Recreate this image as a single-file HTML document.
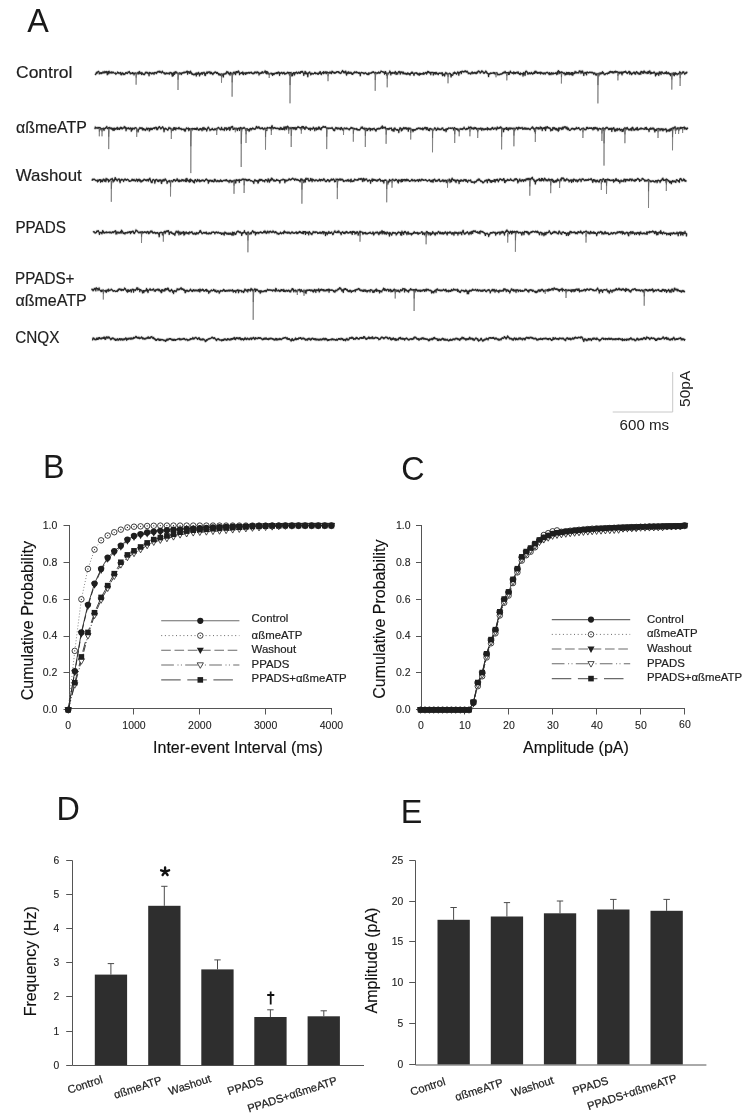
<!DOCTYPE html>
<html><head><meta charset="utf-8"><style>
html,body{margin:0;padding:0;background:#fff;width:750px;height:1116px;overflow:hidden}
svg{display:block;will-change:transform}
text{font-family:"Liberation Sans",sans-serif;fill:#1c1c1c}
.let{font-size:32.3px;fill:#1a1a1a}
.tl{font-size:17px;fill:#1e1e1e;stroke:#1e1e1e;stroke-width:0.2px}
.sb{font-size:14px;fill:#222}
.tk{font-size:10.5px;fill:#222;stroke:#222;stroke-width:0.1px}
.tk2{font-size:10.3px;fill:#222;stroke:#222;stroke-width:0.12px}
.ax{font-size:16px;fill:#111;stroke:#111;stroke-width:0.15px}
.lg{font-size:11.4px;fill:#222;stroke:#222;stroke-width:0.2px}
.bl{font-size:11.2px;fill:#222;stroke:#222;stroke-width:0.22px}
</style></head><body>
<svg width="750" height="1116" viewBox="0 0 750 1116">
<rect width="750" height="1116" fill="#fff"/>
<text x="27.2" y="31.8" class="let">A</text>
<text x="43.0" y="478.0" class="let">B</text>
<text x="401.2" y="479.6" class="let">C</text>
<text x="56.4" y="819.9" class="let">D</text>
<text x="400.8" y="822.5" class="let">E</text>
<text x="16.0" y="78.4" class="tl" textLength="56.4" lengthAdjust="spacingAndGlyphs">Control</text>
<text x="16.0" y="132.6" class="tl" textLength="70.8" lengthAdjust="spacingAndGlyphs">αßmeATP</text>
<text x="15.8" y="181.4" class="tl" textLength="65.9" lengthAdjust="spacingAndGlyphs">Washout</text>
<text x="15.4" y="233.4" class="tl" textLength="50.6" lengthAdjust="spacingAndGlyphs">PPADS</text>
<text x="15.0" y="283.6" class="tl" textLength="59.5" lengthAdjust="spacingAndGlyphs">PPADS+</text>
<text x="15.4" y="306.0" class="tl" textLength="71.4" lengthAdjust="spacingAndGlyphs">αßmeATP</text>
<text x="15.2" y="342.6" class="tl" textLength="44.2" lengthAdjust="spacingAndGlyphs">CNQX</text>
<path transform="translate(95.3,72.9) scale(0.25,0.1)" d="M0 22l1-10 1 2 1-8 1-8 1 3 1-8 1 11 1-9 1-1 1-5 1-1 1-3 1-1 1 3 1 6 1 16 1-8 1 0 1 5 1 1 1-8 1-1 1 0 1 6 1 2 1-8 1 5 1-1 1-2 1-1 1-11 1 12 1-5 1 4 1 0 1-4 1 4 1-14 1 11 1-6 1 7 1-7 1-1 1 1 1-4 1 13 1-10 1 29 1-18 1-5 1-8 1 16 1-8 1 14 1-26 1 8 1 3 1 3 1 2 1-4 1 5 1-4 1-6 1 9 1-8 1 11 1-9 1 8 1-5 1-1 1-2 1-1 1 8 1 0 1 2 1 0 1-1 1 0 1 3 1-5 1 6 1 9 1-5 1-2 1 1 1-2 1-4 1-3 1-8 1 2 1 7 1 1 1-3 1 0 1 10 1-5 1-2 1-1 1 0 1-2 1-2 1 20 1-8 1 11 1-13 1 4 1-11 1 8 1-7 1 2 1 0 1 15 1-10 1-1 1 4 1 0 1 5 1 1 1-9 1 0 1-9 1 1 1 2 1-5 1 6 1 2 1 1 1 2 1-2 1-4 1-10 1 5 1-3 1-1 1-3 1-3 1 12 1-2 1 7 1 7 1-1 1-8 1 5 1-2 1 1 1 2 1-7 1-3 1 11 1-11 1 5 1 0 1 3 1 2 1 13 1-17 1 2 1 0 1-1 1-4 1 7 1-3 1 0 1 5 1-5 1 7 1-5 1-7 1 8 1-5 1 3 1-13 1 17 1-12 1 13 1-17 1-7 1 8 1 3 1 7 1-3 1-1 1 3 1 7 1 6 1-20 1 11 1 0 1-4 1 8 1-4 1 9 1 0 1-1 1 1 1-4 1 5 1-10 1-4 1-5 1-5 1 5 1 3 1-5 1 1 1-5 1 5 1-2 1 8 1 0 1 4 1-1 1-4 1 5 1 20 1-33 1 5 1 0 1 4 1-2 1-3 1 5 1 2 1 4 1-6 1 6 1-4 1 2 1-8 1 5 1-3 1 1 1 3 1-5 1 15 1-17 1-1 1-2 1 4 1-3 1 2 1 1 1 4 1-6 1 10 1-14 1 0 1 1 1-2 1-6 1 6 1 0 1-8 1 4 1-2 1 2 1 6 1-11 1 10 1-6 1 3 1 4 1 4 1-1 1 4 1-9 1-2 1-8 1 10 1 2 1-1 1 7 1-1 1 0 1 5 1 5 1 0 1-11 1 9 1 5 1-6 1 1 1 2 1-5 1-4 1 5 1-2 1 4 1 0 1-4 1-1 1 3 1 3 1-6 1 8 1 3 1-7 1-6 1-5 1 2 1 0 1-1 1 4 1 9 1-2 1-8 1 13 1 20 1-23 1-1 1-5 1 24 1-27 1 6 1-12 1 1 1 19 1-17 1-1 1-8 1 6 1 7 1-7 1 1 1-4 1 11 1-2 1 1 1 2 1 3 1 0 1 3 1 3 1-6 1-6 1 3 1-2 1 11 1-10 1 0 1 0 1 4 1-4 1 14 1-4 1-8 1-5 1 2 1 1 1-5 1 4 1 0 1-1 1-2 1-8 1 10 1-1 1-1 1-3 1 1 1-3 1 1 1 1 1-3 1-8 1 0 1-2 1 0 1 30 1-23 1 3 1-5 1 5 1 0 1 0 1 12 1-14 1 4 1-5 1 13 1-20 1 13 1 1 1-1 1 12 1-5 1 13 1-4 1 4 1-5 1 2 1 6 1-4 1 6 1-6 1 3 1-6 1-1 1 7 1-6 1 2 1-10 1 1 1 27 1-30 1 4 1-1 1 5 1-6 1 12 1-15 1-1 1-5 1 6 1 10 1-3 1 23 1-11 1-5 1-6 1 5 1-7 1-6 1 0 1 8 1-8 1-4 1 18 1-10 1-1 1-2 1 1 1 1 1-6 1-4 1 10 1 0 1 20 1-18 1 21 1-4 1-15 1 0 1-6 1-4 1 0 1-8 1 17 1-11 1 6 1-6 1-3 1 2 1-4 1-3 1 3 1 4 1 2 1 10 1-4 1 5 1-16 1 7 1-2 1-1 1 13 1-6 1 6 1 3 1 6 1-9 1 1 1-4 1-7 1 1 1 2 1-3 1-6 1-1 1-2 1 6 1-3 1 0 1 10 1 3 1-2 1-3 1-4 1 5 1 6 1-4 1 6 1 8 1 3 1-12 1 3 1 5 1 4 1 2 1-6 1 5 1-8 1-1 1 4 1 16 1-14 1-5 1 1 1 8 1-1 1-6 1 25 1-20 1-10 1-4 1 6 1 0 1 1 1-2 1-3 1-2 1-6 1 10 1-13 1 3 1-14 1 2 1 2 1 6 1-1 1-4 1 15 1-6 1 1 1 11 1-4 1 0 1 2 1 12 1-27 1 10 1 0 1-5 1 0 1 6 1 2 1 8 1-11 1 16 1-14 1-8 1 11 1-16 1 1 1-4 1 4 1 9 1 2 1-2 1 10 1 2 1-25 1-3 1 5 1-5 1-1 1 12 1-10 1 3 1 2 1-11 1 6 1-8 1 7 1 4 1 9 1 16 1-7 1-5 1 2 1-1 1-6 1 1 1 0 1-4 1 3 1 4 1-8 1 15 1-20 1 5 1 3 1 18 1-12 1 3 1-5 1-2 1-1 1 1 1 1 1 12 1-14 1-4 1 1 1 7 1 5 1-9 1 2 1-4 1 4 1-4 1 1 1-4 1 6 1-5 1 0 1 8 1-9 1-1 1 2 1 0 1 4 1-4 1-3 1 1 1 10 1 0 1 1 1-2 1 6 1 1 1-4 1-5 1 5 1-7 1 7 1-13 1 4 1-3 1-3 1 5 1 2 1-1 1 6 1-9 1 2 1-9 1 6 1-1 1 8 1-4 1 2 1-4 1 6 1 21 1-18 1 1 1 4 1-5 1 5 1-9 1 5 1-2 1 2 1-11 1 0 1 5 1-11 1 13 1-1 1 3 1-3 1 1 1-4 1-5 1 1 1 1 1 0 1-14 1 4 1 17 1-16 1 0 1 22 1-18 1 0 1 22 1-21 1 2 1 2 1 7 1 3 1-1 1 9 1-2 1 3 1-5 1 2 1-1 1-2 1 0 1 2 1-7 1 1 1 11 1-5 1 0 1 1 1 16 1-21 1 10 1-3 1-5 1 11 1-3 1 0 1-6 1-4 1-2 1 0 1 4 1-4 1 3 1-7 1 10 1-5 1-6 1 6 1-6 1 10 1-14 1 5 1-6 1 1 1 3 1 0 1 28 1-25 1 6 1 1 1-2 1-1 1-4 1-3 1 3 1-4 1 10 1-3 1 7 1-4 1-4 1 3 1-7 1-2 1-1 1 6 1 8 1 7 1-2 1-5 1-2 1-2 1 1 1-1 1 4 1-9 1 4 1 0 1-10 1 6 1-2 1 1 1-2 1 12 1 0 1-7 1 21 1-26 1 1 1 13 1-11 1 5 1-9 1 16 1-1 1 20 1-21 1-4 1 23 1-14 1-4 1-5 1-8 1-1 1 0 1 1 1 24 1-16 1 2 1-6 1-5 1 1 1-3 1 3 1-6 1 6 1 8 1-4 1 6 1-1 1-3 1-7 1-4 1 3 1 0 1 0 1 10 1-11 1 1 1 9 1-16 1 6 1 1 1-5 1-4 1 7 1-8 1-1 1 6 1-1 1 9 1 2 1 8 1 17 1-20 1-4 1 0 1-5 1-11 1 24 1-17 1-1 1 7 1 1 1 6 1 5 1-7 1 13 1-2 1 23 1-24 1-12 1 1 1-3 1-3 1-2 1-3 1 1 1 12 1 1 1 2 1 12 1-13 1 6 1-5 1-5 1 2 1 5 1 0 1-2 1 4 1 0 1-3 1-3 1 0 1-2 1-4 1-4 1 8 1 2 1-5 1 9 1-5 1 2 1 0 1-2 1-2 1 3 1 3 1 6 1 1 1-13 1 10 1-6 1-1 1-7 1-6 1 12 1-15 1-1 1 9 1 3 1 14 1 2 1-7 1-3 1-3 1-5 1-1 1 1 1-4 1-4 1 18 1-20 1 4 1 2 1 6 1 1 1-2 1-1 1 2 1-12 1 3 1 16 1-11 1-3 1 2 1 5 1-8 1 9 1-4 1 6 1-2 1 0 1 0 1-7 1 7 1 0 1-12 1 5 1 8 1 1 1-3 1-5 1 12 1-12 1-12 1 5 1 5 1-4 1 4 1 2 1-1 1 7 1-7 1 1 1 9 1-2 1 0 1-5 1 5 1-2 1-4 1-7 1 5 1 0 1-7 1 1 1-1 1 2 1 1 1 3 1 5 1-10 1 5 1 4 1 4 1 0 1-3 1 8 1-4 1 0 1-1 1 0 1-6 1-11 1 5 1-7 1-6 1 7 1 5 1-4 1 7 1 9 1 0 1-7 1-1 1 7 1-15 1 10 1 2 1-13 1 17 1 11 1 11 1-21 1 4 1-5 1 1 1-8 1 14 1-16 1-2 1 12 1-8 1 4 1 8 1-2 1 1 1-2 1-2 1-7 1 5 1 10 1-9 1 13 1-5 1 8 1-4 1 3 1-11 1-1 1 0 1-7 1 7 1-7 1-2 1-5 1 10 1 0 1 0 1-3 1-2 1-5 1 8 1 3 1-4 1 3 1-3 1 1 1 4 1 1 1 3 1-2 1-7 1 11 1-6 1 1 1 3 1 23 1-22 1-2 1-5 1-3 1 0 1 1 1 2 1 2 1 1 1-4 1 0 1 4 1 5 1-1 1 5 1-5 1-1 1-1 1-4 1-2 1 3 1-1 1 6 1 0 1 5 1-1 1 5 1 1 1-5 1 1 1 7 1-16 1 3 1-5 1 16 1-13 1 0 1-2 1 0 1 0 1 1 1 2 1-6 1 5 1-4 1-2 1-5 1 3 1 2 1-1 1-8 1 5 1 1 1-3 1 7 1 1 1 0 1 9 1-5 1-3 1-6 1 5 1-1 1 8 1-1 1-3 1 4 1-2 1-7 1 5 1-6 1 7 1-12 1 8 1 0 1-2 1-2 1 9 1-6 1 0 1-8 1-2 1-7 1 3 1 1 1 1 1 0 1 6 1-2 1-3 1 0 1 4 1 4 1 3 1 0 1-2 1 16 1-23 1 5 1-6 1-1 1 18 1-8 1 6 1 3 1 17 1-10 1-7 1-1 1-2 1 4 1 3 1-9 1 0 1-2 1-5 1 2 1-15 1 10 1-1 1 2 1 27 1-18 1 0 1-3 1 7 1 2 1-2 1-8 1-3 1 2 1 2 1 5 1-1 1 2 1 2 1-11 1 1 1-5 1-5 1 12 1 2 1 14 1-18 1 8 1 4 1 5 1-9 1-1 1 7 1-14 1-2 1-6 1 3 1-6 1 9 1 4 1-7 1 6 1 16 1-18 1-5 1-2 1 9 1 1 1-2 1 4 1-3 1 4 1-10 1 18 1-16 1 1 1 4 1 9 1-3 1 4 1 2 1-2 1 2 1-8 1 9 1-1 1 2 1-5 1-3 1 12 1-6 1-10 1 3 1-2 1 5 1 1 1 6 1 1 1-2 1-3 1-2 1 15 1-12 1-7 1 3 1-2 1 0 1-11 1 5 1 7 1-13 1 3 1 2 1 7 1 3 1 3 1 10 1 4 1-19 1-2 1 3 1-4 1-2 1 2 1-2 1-2 1 6 1 0 1-5 1 11 1 2 1-1 1-7 1 14 1 1 1-4 1-6 1 0 1 0 1 13 1-19 1 3 1 6 1 3 1-2 1-7 1 5 1 0 1-1 1-2 1-1 1 3 1-2 1 7 1-17 1 2 1 7 1 6 1-7 1 0 1-2 1-6 1 0 1-3 1 7 1 2 1-4 1 12 1-16 1 8 1-7 1-8 1-5 1 10 1-3 1-4 1 3 1 3 1 8 1-2 1-5 1 8 1-4 1-2 1 21 1-20 1-2 1 0 1 1 1 0 1-1 1 0 1 2 1-2 1 26 1-19 1 11 1-16 1 0 1 3 1-3 1 4 1 11 1-10 1-7 1 1 1 14 1-14 1 8 1-1 1 2 1 6 1 1 1 1 1 5 1-12 1-3 1 1 1-2 1-2 1 4 1-2 1 1 1 0 1 4 1-3 1-4 1 2 1 5 1 6 1-15 1 30 1-15 1-1 1 0 1 3 1 7 1-7 1-3 1 19 1-8 1-11 1-10 1 1 1-9 1 3 1 8 1-2 1 7 1 1 1 6 1-12 1 10 1 1 1-5 1 5 1-9 1 0 1 1 1-5 1 0 1 6 1 0 1-1 1 12 1 20 1-20 1-2 1 0 1 8 1-2 1-1 1 0 1-10 1-12 1 2 1 5 1-10 1-3 1-3 1 13 1-5 1 2 1-3 1 4 1 2 1 4 1 5 1-6 1-6 1-1 1-7 1-5 1 4 1 1 1 7 1 21 1-25 1 5 1-1 1-6 1-1 1-6 1 3 1 2 1-3 1 17 1-16 1-6 1-1 1-2 1 3 1 3 1 2 1 0 1-4 1 6 1-3 1-3 1-4 1 3 1 3 1-8 1 8 1-7 1 9 1 3 1-2 1-1 1-8 1 4 1 4 1 4 1 1 1 12 1-5 1 4 1-4 1-1 1 0 1 1 1 6 1 2 1 2 1-9 1 7 1-11 1 0 1-4 1-4 1 4 1-2 1 14 1 0 1-6 1 0 1-3 1 5 1-2 1-6 1-1 1 9 1-7 1 3 1 9 1-6 1 5 1-4 1-10 1-1 1 9 1-9 1 1 1-10 1 1 1 3 1-7 1 6 1 2 1-1 1 3 1 12 1 0 1-3 1-5 1-2 1 1 1-12 1 3 1-5 1 9 1-2 1 0 1 3 1 10 1 2 1-1 1 5 1-3 1-4 1 2 1-3 1-9 1-3 1-4 1 8 1 3 1-3 1 11 1 4 1-4 1 6 1-2 1 5 1-1 1 28 1-26 1 1 1 2 1-1 1-7 1-1 1-1 1 3 1-5 1 5 1-1 1-1 1 0 1-4 1 2 1 0 1 0 1-3 1 3 1-6 1 6 1 4 1-9 1 2 1 1 1-1 1 16 1-9 1 2 1-5 1-1 1-2 1-3 1 5 1 7 1-1 1 12 1-9 1 4 1 1 1 1 1 2 1-2 1-1 1-4 1 4 1-6 1 0 1 3 1-1 1-3 1 4 1-4 1-3 1-2 1 2 1-8 1 8 1-9 1-1 1-3 1 2 1-1 1 6 1-4 1-11 1 14 1-7 1 4 1 5 1-1 1-2 1-1 1 2 1-1 1 4 1 4 1-7 1-4 1 20 1-12 1-1 1 12 1-13 1-7 1-5 1-7 1 14 1 0 1-3 1 6 1-2 1 3 1 1 1 3 1 0 1-5 1-2 1 1 1-7 1 20 1-17 1 5 1-4 1 2 1 10 1-10 1 9 1-9 1 4 1-1 1-6 1 4 1-3 1-3 1 2 1 11 1-8 1-6 1 9 1 7 1 2 1 2 1 4 1-10 1 7 1 5 1-18 1 6 1-1 1 3 1 1 1 2 1-3 1 1 1-2 1 1 1 24 1-30 1 13 1-18 1 5 1-2 1 9 1-1 1 17 1-19 1-19 1 3 1-8 1 0 1 7 1-2 1 9 1-1 1 5 1 12 1-9 1 9 1-7 1-2 1 5 1-10 1 9 1-6 1 6 1 4 1-7 1 4 1-2 1-1 1-10 1 4 1 5 1 2 1 8 1-3 1-1 1 0 1-8 1-6 1 3 1 1 1 6 1-21 1 5 1 5 1-4 1-8 1 18 1-10 1 6 1-4 1 2 1 11 1-1 1-1 1-7 1 7 1-1 1-2 1-5 1 8 1-3 1 1 1-7 1-1 1 18 1-12 1-4 1 0 1 8 1-7 1 1 1 5 1 3 1 2 1 0 1 5 1-7 1-5 1 1 1 5 1 0 1-6 1 7 1 6 1-9 1-3 1 0 1-4 1-2 1 1 1-2 1 4 1-4 1 7 1 0 1 2 1 1 1 8 1 0 1 6 1-20 1 12 1 3 1-2 1-6 1 0 1 13 1-18 1-2 1 2 1 1 1 3 1 5 1 4 1-5 1-8 1 9 1-3 1 2 1-3 1 0 1-1 1 1 1 0 1-6 1 4 1-4 1 11 1-9 1 16 1-15 1-2 1-12 1 4 1 17 1-32 1 0 1 8 1 5 1-2 1 7 1 11 1-4 1-9 1 1 1 0 1 5 1-10 1 0 1 2 1 6 1 0 1-2 1-1 1 7 1-2 1 9 1-4 1 0 1-1 1-4 1 9 1 13 1-10 1-5 1 8 1-7 1 9 1-22 1 17 1-8 1-6 1 16 1-7 1-8 1 4 1 11 1-17 1 8 1-7 1 3 1 17 1-6 1-10 1 0 1 12 1-1 1-8 1-6 1 21 1-20 1-2 1 2 1 24 1-20 1-3 1 10 1-3 1 1 1-9 1 0 1 5 1-19 1 12 1-3 1 5 1-5 1 2 1-4 1 11 1-7 1 0 1 1 1 1 1 1 1 1 1 2 1-2 1-16 1-3 1 5 1 0 1-6 1 8 1 3 1 2 1 13 1-16 1-5 1-3 1 4 1 10 1-15 1 7 1 13 1 6 1-4 1 22 1-22 1 1 1-2 1-1 1-7 1 4 1 2 1 8 1-12 1 0 1 23 1-27 1 1 1-2 1 3 1 1 1 3 1 1 1 0 1 2 1-2 1-7 1 0 1 3 1-3 1 0 1 5 1-3 1 3 1-1 1-2 1 6 1-7 1 4 1 1 1 1 1 5 1-2 1 2 1 10 1-16 1 6 1 2 1 2 1-6 1 7 1 3 1 9 1-8 1 7 1-2 1 4 1-16 1 1 1 1 1-1 1 1 1-2 1 17 1 6 1-24 1-2 1 1 1 7 1-5 1-7 1 6 1 7 1-2 1-8 1 0 1-4 1-5 1 13 1-19 1 15 1-5 1 0 1 2 1 5 1 8 1 5 1-4 1 3 1 1 1-4 1-4 1-3 1 0 1-1 1-1 1 2 1-1 1 7 1-8 1-2 1-3 1 1 1 5 1-5 1 2 1-12 1 1 1 8 1-9 1-6 1 9 1 0 1 0 1-6 1 0 1 10 1-4 1 4 1-10 1 4 1 10 1-8 1 4 1-1 1 3 1-11 1-1 1 3 1-3 1-4 1 2 1 11 1-12 1 7 1 1 1-3 1 0 1 3 1 1 1-5 1 6 1 10 1-5 1 5 1 5 1-16 1 7 1 1 1-1 1-7 1 3 1 3 1 0 1 7 1-15 1 6 1 22 1-26 1 7 1-5 1 7 1-10 1-2 1 0 1 4 1-6 1 4 1-4 1 6 1-7 1-4 1 2 1 6 1 3 1 7 1 0 1 2 1 3 1-9 1 5 1-3 1-7 1 3 1-9 1-2 1 6 1-4 1 26 1-15 1-5 1 12 1-3 1 0 1 4 1 12 1-1 1-13 1 0 1 3 1-4 1-3 1 0 1-2 1-3 1-3 1 14 1-9 1 13 1-6 1-2 1 12 1-7 1-12 1-4 1-3 1 6 1-3 1 7 1 2 1 9 1-7 1 2 1-3 1 6 1 9 1-7 1 5 1-3 1-8 1-8 1 1 1 17 1-26 1 9 1-7 1-2 1 5 1 3 1 8 1-6 1-7 1 16 1-12 1 0 1-12 1 1 1 6 1 5 1 10 1-10 1-1 1 5 1 1 1 0 1 1 1-3 1 11 1-18 1 8 1 0 1-8 1 15 1-19 1 8 1 1 1 1 1-8 1-8 1 12 1 18 1-13 1-1 1 4 1 8 1-13 1 10 1-1 1-2 1-1 1-2 1 3 1 2 1-3 1-5 1-6 1 8 1 2 1-2 1 9 1 5 1 19 1-16 1-7 1-2 1 12 1-9 1-8 1 12 1-2 1-4 1-1 1 5 1-6 1 20 1-27 1-7 1 8 1-6 1 14 1-3 1 1 1-12 1 23 1-23 1 2 1-4 1 0 1 4 1 7 1-2 1 5 1-1 1 0 1 1 1 5 1-5 1-3 1-2 1-3 1 7 1 2 1-7 1-1 1-10 1 11 1 11 1-6 1 0 1-1 1 5 1-12 1 1 1 8 1-5 1 11 1 2 1 1 1-8 1 11 1-3 1 14 1-15 1-4 1 5 1 1 1-10 1 14 1-11 1 4 1-8 1 6 1 10 1-19 1 2 1 3 1 22 1-20 1-7 1 0 1 15 1-15 1 0 1 6 1 1 1 1 1 1 1 11 1-6 1-3 1-1 1 0 1 1 1-7 1 3 1 1 1 2 1-14 1-9 1 12 1 5 1-6 1 11 1 2 1-4 1-2 1-4 1 6 1-7 1-8 1-3 1 7 1-6 1-1 1 0 1 14 1 1 1 0 1 11 1-10 1 2 1-2 1-6 1-4 1 1 1 6 1-9 1 7" fill="none" stroke="#888" stroke-width="2.85" stroke-opacity="0.22" stroke-linejoin="round" vector-effect="non-scaling-stroke"/>
<path transform="translate(95.3,72.9) scale(0.25,0.1)" d="M0 22l1-10 1 2 1-8 1-8 1 3 1-8 1 11 1-9 1-1 1-5 1-1 1-3 1-1 1 3 1 6 1 16 1-8 1 0 1 5 1 1 1-8 1-1 1 0 1 6 1 2 1-8 1 5 1-1 1-2 1-1 1-11 1 12 1-5 1 4 1 0 1-4 1 4 1-14 1 11 1-6 1 7 1-7 1-1 1 1 1-4 1 13 1-10 1 29 1-18 1-5 1-8 1 16 1-8 1 14 1-26 1 8 1 3 1 3 1 2 1-4 1 5 1-4 1-6 1 9 1-8 1 11 1-9 1 8 1-5 1-1 1-2 1-1 1 8 1 0 1 2 1 0 1-1 1 0 1 3 1-5 1 6 1 9 1-5 1-2 1 1 1-2 1-4 1-3 1-8 1 2 1 7 1 1 1-3 1 0 1 10 1-5 1-2 1-1 1 0 1-2 1-2 1 20 1-8 1 11 1-13 1 4 1-11 1 8 1-7 1 2 1 0 1 15 1-10 1-1 1 4 1 0 1 5 1 1 1-9 1 0 1-9 1 1 1 2 1-5 1 6 1 2 1 1 1 2 1-2 1-4 1-10 1 5 1-3 1-1 1-3 1-3 1 12 1-2 1 7 1 7 1-1 1-8 1 5 1-2 1 1 1 2 1-7 1-3 1 11 1-11 1 5 1 0 1 3 1 2 1 13 1-17 1 2 1 0 1-1 1-4 1 7 1-3 1 0 1 5 1-5 1 7 1-5 1-7 1 8 1-5 1 3 1-13 1 17 1-12 1 13 1-17 1-7 1 8 1 3 1 7 1-3 1-1 1 3 1 7 1 6 1-20 1 11 1 0 1-4 1 8 1-4 1 9 1 0 1-1 1 1 1-4 1 5 1-10 1-4 1-5 1-5 1 5 1 3 1-5 1 1 1-5 1 5 1-2 1 8 1 0 1 4 1-1 1-4 1 5 1 20 1-33 1 5 1 0 1 4 1-2 1-3 1 5 1 2 1 4 1-6 1 6 1-4 1 2 1-8 1 5 1-3 1 1 1 3 1-5 1 15 1-17 1-1 1-2 1 4 1-3 1 2 1 1 1 4 1-6 1 10 1-14 1 0 1 1 1-2 1-6 1 6 1 0 1-8 1 4 1-2 1 2 1 6 1-11 1 10 1-6 1 3 1 4 1 4 1-1 1 4 1-9 1-2 1-8 1 10 1 2 1-1 1 7 1-1 1 0 1 5 1 5 1 0 1-11 1 9 1 5 1-6 1 1 1 2 1-5 1-4 1 5 1-2 1 4 1 0 1-4 1-1 1 3 1 3 1-6 1 8 1 3 1-7 1-6 1-5 1 2 1 0 1-1 1 4 1 9 1-2 1-8 1 13 1 20 1-23 1-1 1-5 1 24 1-27 1 6 1-12 1 1 1 19 1-17 1-1 1-8 1 6 1 7 1-7 1 1 1-4 1 11 1-2 1 1 1 2 1 3 1 0 1 3 1 3 1-6 1-6 1 3 1-2 1 11 1-10 1 0 1 0 1 4 1-4 1 14 1-4 1-8 1-5 1 2 1 1 1-5 1 4 1 0 1-1 1-2 1-8 1 10 1-1 1-1 1-3 1 1 1-3 1 1 1 1 1-3 1-8 1 0 1-2 1 0 1 30 1-23 1 3 1-5 1 5 1 0 1 0 1 12 1-14 1 4 1-5 1 13 1-20 1 13 1 1 1-1 1 12 1-5 1 13 1-4 1 4 1-5 1 2 1 6 1-4 1 6 1-6 1 3 1-6 1-1 1 7 1-6 1 2 1-10 1 1 1 27 1-30 1 4 1-1 1 5 1-6 1 12 1-15 1-1 1-5 1 6 1 10 1-3 1 23 1-11 1-5 1-6 1 5 1-7 1-6 1 0 1 8 1-8 1-4 1 18 1-10 1-1 1-2 1 1 1 1 1-6 1-4 1 10 1 0 1 20 1-18 1 21 1-4 1-15 1 0 1-6 1-4 1 0 1-8 1 17 1-11 1 6 1-6 1-3 1 2 1-4 1-3 1 3 1 4 1 2 1 10 1-4 1 5 1-16 1 7 1-2 1-1 1 13 1-6 1 6 1 3 1 6 1-9 1 1 1-4 1-7 1 1 1 2 1-3 1-6 1-1 1-2 1 6 1-3 1 0 1 10 1 3 1-2 1-3 1-4 1 5 1 6 1-4 1 6 1 8 1 3 1-12 1 3 1 5 1 4 1 2 1-6 1 5 1-8 1-1 1 4 1 16 1-14 1-5 1 1 1 8 1-1 1-6 1 25 1-20 1-10 1-4 1 6 1 0 1 1 1-2 1-3 1-2 1-6 1 10 1-13 1 3 1-14 1 2 1 2 1 6 1-1 1-4 1 15 1-6 1 1 1 11 1-4 1 0 1 2 1 12 1-27 1 10 1 0 1-5 1 0 1 6 1 2 1 8 1-11 1 16 1-14 1-8 1 11 1-16 1 1 1-4 1 4 1 9 1 2 1-2 1 10 1 2 1-25 1-3 1 5 1-5 1-1 1 12 1-10 1 3 1 2 1-11 1 6 1-8 1 7 1 4 1 9 1 16 1-7 1-5 1 2 1-1 1-6 1 1 1 0 1-4 1 3 1 4 1-8 1 15 1-20 1 5 1 3 1 18 1-12 1 3 1-5 1-2 1-1 1 1 1 1 1 12 1-14 1-4 1 1 1 7 1 5 1-9 1 2 1-4 1 4 1-4 1 1 1-4 1 6 1-5 1 0 1 8 1-9 1-1 1 2 1 0 1 4 1-4 1-3 1 1 1 10 1 0 1 1 1-2 1 6 1 1 1-4 1-5 1 5 1-7 1 7 1-13 1 4 1-3 1-3 1 5 1 2 1-1 1 6 1-9 1 2 1-9 1 6 1-1 1 8 1-4 1 2 1-4 1 6 1 21 1-18 1 1 1 4 1-5 1 5 1-9 1 5 1-2 1 2 1-11 1 0 1 5 1-11 1 13 1-1 1 3 1-3 1 1 1-4 1-5 1 1 1 1 1 0 1-14 1 4 1 17 1-16 1 0 1 22 1-18 1 0 1 22 1-21 1 2 1 2 1 7 1 3 1-1 1 9 1-2 1 3 1-5 1 2 1-1 1-2 1 0 1 2 1-7 1 1 1 11 1-5 1 0 1 1 1 16 1-21 1 10 1-3 1-5 1 11 1-3 1 0 1-6 1-4 1-2 1 0 1 4 1-4 1 3 1-7 1 10 1-5 1-6 1 6 1-6 1 10 1-14 1 5 1-6 1 1 1 3 1 0 1 28 1-25 1 6 1 1 1-2 1-1 1-4 1-3 1 3 1-4 1 10 1-3 1 7 1-4 1-4 1 3 1-7 1-2 1-1 1 6 1 8 1 7 1-2 1-5 1-2 1-2 1 1 1-1 1 4 1-9 1 4 1 0 1-10 1 6 1-2 1 1 1-2 1 12 1 0 1-7 1 21 1-26 1 1 1 13 1-11 1 5 1-9 1 16 1-1 1 20 1-21 1-4 1 23 1-14 1-4 1-5 1-8 1-1 1 0 1 1 1 24 1-16 1 2 1-6 1-5 1 1 1-3 1 3 1-6 1 6 1 8 1-4 1 6 1-1 1-3 1-7 1-4 1 3 1 0 1 0 1 10 1-11 1 1 1 9 1-16 1 6 1 1 1-5 1-4 1 7 1-8 1-1 1 6 1-1 1 9 1 2 1 8 1 17 1-20 1-4 1 0 1-5 1-11 1 24 1-17 1-1 1 7 1 1 1 6 1 5 1-7 1 13 1-2 1 23 1-24 1-12 1 1 1-3 1-3 1-2 1-3 1 1 1 12 1 1 1 2 1 12 1-13 1 6 1-5 1-5 1 2 1 5 1 0 1-2 1 4 1 0 1-3 1-3 1 0 1-2 1-4 1-4 1 8 1 2 1-5 1 9 1-5 1 2 1 0 1-2 1-2 1 3 1 3 1 6 1 1 1-13 1 10 1-6 1-1 1-7 1-6 1 12 1-15 1-1 1 9 1 3 1 14 1 2 1-7 1-3 1-3 1-5 1-1 1 1 1-4 1-4 1 18 1-20 1 4 1 2 1 6 1 1 1-2 1-1 1 2 1-12 1 3 1 16 1-11 1-3 1 2 1 5 1-8 1 9 1-4 1 6 1-2 1 0 1 0 1-7 1 7 1 0 1-12 1 5 1 8 1 1 1-3 1-5 1 12 1-12 1-12 1 5 1 5 1-4 1 4 1 2 1-1 1 7 1-7 1 1 1 9 1-2 1 0 1-5 1 5 1-2 1-4 1-7 1 5 1 0 1-7 1 1 1-1 1 2 1 1 1 3 1 5 1-10 1 5 1 4 1 4 1 0 1-3 1 8 1-4 1 0 1-1 1 0 1-6 1-11 1 5 1-7 1-6 1 7 1 5 1-4 1 7 1 9 1 0 1-7 1-1 1 7 1-15 1 10 1 2 1-13 1 17 1 11 1 11 1-21 1 4 1-5 1 1 1-8 1 14 1-16 1-2 1 12 1-8 1 4 1 8 1-2 1 1 1-2 1-2 1-7 1 5 1 10 1-9 1 13 1-5 1 8 1-4 1 3 1-11 1-1 1 0 1-7 1 7 1-7 1-2 1-5 1 10 1 0 1 0 1-3 1-2 1-5 1 8 1 3 1-4 1 3 1-3 1 1 1 4 1 1 1 3 1-2 1-7 1 11 1-6 1 1 1 3 1 23 1-22 1-2 1-5 1-3 1 0 1 1 1 2 1 2 1 1 1-4 1 0 1 4 1 5 1-1 1 5 1-5 1-1 1-1 1-4 1-2 1 3 1-1 1 6 1 0 1 5 1-1 1 5 1 1 1-5 1 1 1 7 1-16 1 3 1-5 1 16 1-13 1 0 1-2 1 0 1 0 1 1 1 2 1-6 1 5 1-4 1-2 1-5 1 3 1 2 1-1 1-8 1 5 1 1 1-3 1 7 1 1 1 0 1 9 1-5 1-3 1-6 1 5 1-1 1 8 1-1 1-3 1 4 1-2 1-7 1 5 1-6 1 7 1-12 1 8 1 0 1-2 1-2 1 9 1-6 1 0 1-8 1-2 1-7 1 3 1 1 1 1 1 0 1 6 1-2 1-3 1 0 1 4 1 4 1 3 1 0 1-2 1 16 1-23 1 5 1-6 1-1 1 18 1-8 1 6 1 3 1 17 1-10 1-7 1-1 1-2 1 4 1 3 1-9 1 0 1-2 1-5 1 2 1-15 1 10 1-1 1 2 1 27 1-18 1 0 1-3 1 7 1 2 1-2 1-8 1-3 1 2 1 2 1 5 1-1 1 2 1 2 1-11 1 1 1-5 1-5 1 12 1 2 1 14 1-18 1 8 1 4 1 5 1-9 1-1 1 7 1-14 1-2 1-6 1 3 1-6 1 9 1 4 1-7 1 6 1 16 1-18 1-5 1-2 1 9 1 1 1-2 1 4 1-3 1 4 1-10 1 18 1-16 1 1 1 4 1 9 1-3 1 4 1 2 1-2 1 2 1-8 1 9 1-1 1 2 1-5 1-3 1 12 1-6 1-10 1 3 1-2 1 5 1 1 1 6 1 1 1-2 1-3 1-2 1 15 1-12 1-7 1 3 1-2 1 0 1-11 1 5 1 7 1-13 1 3 1 2 1 7 1 3 1 3 1 10 1 4 1-19 1-2 1 3 1-4 1-2 1 2 1-2 1-2 1 6 1 0 1-5 1 11 1 2 1-1 1-7 1 14 1 1 1-4 1-6 1 0 1 0 1 13 1-19 1 3 1 6 1 3 1-2 1-7 1 5 1 0 1-1 1-2 1-1 1 3 1-2 1 7 1-17 1 2 1 7 1 6 1-7 1 0 1-2 1-6 1 0 1-3 1 7 1 2 1-4 1 12 1-16 1 8 1-7 1-8 1-5 1 10 1-3 1-4 1 3 1 3 1 8 1-2 1-5 1 8 1-4 1-2 1 21 1-20 1-2 1 0 1 1 1 0 1-1 1 0 1 2 1-2 1 26 1-19 1 11 1-16 1 0 1 3 1-3 1 4 1 11 1-10 1-7 1 1 1 14 1-14 1 8 1-1 1 2 1 6 1 1 1 1 1 5 1-12 1-3 1 1 1-2 1-2 1 4 1-2 1 1 1 0 1 4 1-3 1-4 1 2 1 5 1 6 1-15 1 30 1-15 1-1 1 0 1 3 1 7 1-7 1-3 1 19 1-8 1-11 1-10 1 1 1-9 1 3 1 8 1-2 1 7 1 1 1 6 1-12 1 10 1 1 1-5 1 5 1-9 1 0 1 1 1-5 1 0 1 6 1 0 1-1 1 12 1 20 1-20 1-2 1 0 1 8 1-2 1-1 1 0 1-10 1-12 1 2 1 5 1-10 1-3 1-3 1 13 1-5 1 2 1-3 1 4 1 2 1 4 1 5 1-6 1-6 1-1 1-7 1-5 1 4 1 1 1 7 1 21 1-25 1 5 1-1 1-6 1-1 1-6 1 3 1 2 1-3 1 17 1-16 1-6 1-1 1-2 1 3 1 3 1 2 1 0 1-4 1 6 1-3 1-3 1-4 1 3 1 3 1-8 1 8 1-7 1 9 1 3 1-2 1-1 1-8 1 4 1 4 1 4 1 1 1 12 1-5 1 4 1-4 1-1 1 0 1 1 1 6 1 2 1 2 1-9 1 7 1-11 1 0 1-4 1-4 1 4 1-2 1 14 1 0 1-6 1 0 1-3 1 5 1-2 1-6 1-1 1 9 1-7 1 3 1 9 1-6 1 5 1-4 1-10 1-1 1 9 1-9 1 1 1-10 1 1 1 3 1-7 1 6 1 2 1-1 1 3 1 12 1 0 1-3 1-5 1-2 1 1 1-12 1 3 1-5 1 9 1-2 1 0 1 3 1 10 1 2 1-1 1 5 1-3 1-4 1 2 1-3 1-9 1-3 1-4 1 8 1 3 1-3 1 11 1 4 1-4 1 6 1-2 1 5 1-1 1 28 1-26 1 1 1 2 1-1 1-7 1-1 1-1 1 3 1-5 1 5 1-1 1-1 1 0 1-4 1 2 1 0 1 0 1-3 1 3 1-6 1 6 1 4 1-9 1 2 1 1 1-1 1 16 1-9 1 2 1-5 1-1 1-2 1-3 1 5 1 7 1-1 1 12 1-9 1 4 1 1 1 1 1 2 1-2 1-1 1-4 1 4 1-6 1 0 1 3 1-1 1-3 1 4 1-4 1-3 1-2 1 2 1-8 1 8 1-9 1-1 1-3 1 2 1-1 1 6 1-4 1-11 1 14 1-7 1 4 1 5 1-1 1-2 1-1 1 2 1-1 1 4 1 4 1-7 1-4 1 20 1-12 1-1 1 12 1-13 1-7 1-5 1-7 1 14 1 0 1-3 1 6 1-2 1 3 1 1 1 3 1 0 1-5 1-2 1 1 1-7 1 20 1-17 1 5 1-4 1 2 1 10 1-10 1 9 1-9 1 4 1-1 1-6 1 4 1-3 1-3 1 2 1 11 1-8 1-6 1 9 1 7 1 2 1 2 1 4 1-10 1 7 1 5 1-18 1 6 1-1 1 3 1 1 1 2 1-3 1 1 1-2 1 1 1 24 1-30 1 13 1-18 1 5 1-2 1 9 1-1 1 17 1-19 1-19 1 3 1-8 1 0 1 7 1-2 1 9 1-1 1 5 1 12 1-9 1 9 1-7 1-2 1 5 1-10 1 9 1-6 1 6 1 4 1-7 1 4 1-2 1-1 1-10 1 4 1 5 1 2 1 8 1-3 1-1 1 0 1-8 1-6 1 3 1 1 1 6 1-21 1 5 1 5 1-4 1-8 1 18 1-10 1 6 1-4 1 2 1 11 1-1 1-1 1-7 1 7 1-1 1-2 1-5 1 8 1-3 1 1 1-7 1-1 1 18 1-12 1-4 1 0 1 8 1-7 1 1 1 5 1 3 1 2 1 0 1 5 1-7 1-5 1 1 1 5 1 0 1-6 1 7 1 6 1-9 1-3 1 0 1-4 1-2 1 1 1-2 1 4 1-4 1 7 1 0 1 2 1 1 1 8 1 0 1 6 1-20 1 12 1 3 1-2 1-6 1 0 1 13 1-18 1-2 1 2 1 1 1 3 1 5 1 4 1-5 1-8 1 9 1-3 1 2 1-3 1 0 1-1 1 1 1 0 1-6 1 4 1-4 1 11 1-9 1 16 1-15 1-2 1-12 1 4 1 17 1-32 1 0 1 8 1 5 1-2 1 7 1 11 1-4 1-9 1 1 1 0 1 5 1-10 1 0 1 2 1 6 1 0 1-2 1-1 1 7 1-2 1 9 1-4 1 0 1-1 1-4 1 9 1 13 1-10 1-5 1 8 1-7 1 9 1-22 1 17 1-8 1-6 1 16 1-7 1-8 1 4 1 11 1-17 1 8 1-7 1 3 1 17 1-6 1-10 1 0 1 12 1-1 1-8 1-6 1 21 1-20 1-2 1 2 1 24 1-20 1-3 1 10 1-3 1 1 1-9 1 0 1 5 1-19 1 12 1-3 1 5 1-5 1 2 1-4 1 11 1-7 1 0 1 1 1 1 1 1 1 1 1 2 1-2 1-16 1-3 1 5 1 0 1-6 1 8 1 3 1 2 1 13 1-16 1-5 1-3 1 4 1 10 1-15 1 7 1 13 1 6 1-4 1 22 1-22 1 1 1-2 1-1 1-7 1 4 1 2 1 8 1-12 1 0 1 23 1-27 1 1 1-2 1 3 1 1 1 3 1 1 1 0 1 2 1-2 1-7 1 0 1 3 1-3 1 0 1 5 1-3 1 3 1-1 1-2 1 6 1-7 1 4 1 1 1 1 1 5 1-2 1 2 1 10 1-16 1 6 1 2 1 2 1-6 1 7 1 3 1 9 1-8 1 7 1-2 1 4 1-16 1 1 1 1 1-1 1 1 1-2 1 17 1 6 1-24 1-2 1 1 1 7 1-5 1-7 1 6 1 7 1-2 1-8 1 0 1-4 1-5 1 13 1-19 1 15 1-5 1 0 1 2 1 5 1 8 1 5 1-4 1 3 1 1 1-4 1-4 1-3 1 0 1-1 1-1 1 2 1-1 1 7 1-8 1-2 1-3 1 1 1 5 1-5 1 2 1-12 1 1 1 8 1-9 1-6 1 9 1 0 1 0 1-6 1 0 1 10 1-4 1 4 1-10 1 4 1 10 1-8 1 4 1-1 1 3 1-11 1-1 1 3 1-3 1-4 1 2 1 11 1-12 1 7 1 1 1-3 1 0 1 3 1 1 1-5 1 6 1 10 1-5 1 5 1 5 1-16 1 7 1 1 1-1 1-7 1 3 1 3 1 0 1 7 1-15 1 6 1 22 1-26 1 7 1-5 1 7 1-10 1-2 1 0 1 4 1-6 1 4 1-4 1 6 1-7 1-4 1 2 1 6 1 3 1 7 1 0 1 2 1 3 1-9 1 5 1-3 1-7 1 3 1-9 1-2 1 6 1-4 1 26 1-15 1-5 1 12 1-3 1 0 1 4 1 12 1-1 1-13 1 0 1 3 1-4 1-3 1 0 1-2 1-3 1-3 1 14 1-9 1 13 1-6 1-2 1 12 1-7 1-12 1-4 1-3 1 6 1-3 1 7 1 2 1 9 1-7 1 2 1-3 1 6 1 9 1-7 1 5 1-3 1-8 1-8 1 1 1 17 1-26 1 9 1-7 1-2 1 5 1 3 1 8 1-6 1-7 1 16 1-12 1 0 1-12 1 1 1 6 1 5 1 10 1-10 1-1 1 5 1 1 1 0 1 1 1-3 1 11 1-18 1 8 1 0 1-8 1 15 1-19 1 8 1 1 1 1 1-8 1-8 1 12 1 18 1-13 1-1 1 4 1 8 1-13 1 10 1-1 1-2 1-1 1-2 1 3 1 2 1-3 1-5 1-6 1 8 1 2 1-2 1 9 1 5 1 19 1-16 1-7 1-2 1 12 1-9 1-8 1 12 1-2 1-4 1-1 1 5 1-6 1 20 1-27 1-7 1 8 1-6 1 14 1-3 1 1 1-12 1 23 1-23 1 2 1-4 1 0 1 4 1 7 1-2 1 5 1-1 1 0 1 1 1 5 1-5 1-3 1-2 1-3 1 7 1 2 1-7 1-1 1-10 1 11 1 11 1-6 1 0 1-1 1 5 1-12 1 1 1 8 1-5 1 11 1 2 1 1 1-8 1 11 1-3 1 14 1-15 1-4 1 5 1 1 1-10 1 14 1-11 1 4 1-8 1 6 1 10 1-19 1 2 1 3 1 22 1-20 1-7 1 0 1 15 1-15 1 0 1 6 1 1 1 1 1 1 1 11 1-6 1-3 1-1 1 0 1 1 1-7 1 3 1 1 1 2 1-14 1-9 1 12 1 5 1-6 1 11 1 2 1-4 1-2 1-4 1 6 1-7 1-8 1-3 1 7 1-6 1-1 1 0 1 14 1 1 1 0 1 11 1-10 1 2 1-2 1-6 1-4 1 1 1 6 1-9 1 7" fill="none" stroke="#2a2a2a" stroke-width="1.25" stroke-linejoin="round" vector-effect="non-scaling-stroke"/>
<path d="M136.00 72.90 L136.10 84.70 L136.30 76.44 L136.65 74.08 L137.40 73.30 M177.90 72.90 L178.00 90.00 L178.20 78.03 L178.55 74.61 L179.30 73.30 M221.40 72.90 L221.50 82.80 L221.70 75.87 L222.05 73.89 L222.80 73.30 M232.00 72.90 L232.10 96.70 L232.30 80.04 L232.65 75.28 L233.40 73.30 M269.10 72.90 L269.20 78.00 L269.40 74.43 L269.75 73.41 L270.50 73.30 M289.90 72.90 L290.00 103.30 L290.20 82.02 L290.55 75.94 L291.30 73.30 M327.90 72.90 L328.00 81.20 L328.20 75.39 L328.55 73.73 L329.30 73.30 M375.10 72.90 L375.20 90.80 L375.40 78.27 L375.75 74.69 L376.50 73.30 M387.10 72.90 L387.20 87.30 L387.40 77.22 L387.75 74.34 L388.50 73.30 M447.90 72.90 L448.00 83.30 L448.20 76.02 L448.55 73.94 L449.30 73.30 M495.90 72.90 L496.00 77.30 L496.20 74.22 L496.55 73.34 L497.30 73.30 M506.70 72.90 L506.80 80.40 L507.00 75.15 L507.35 73.65 L508.10 73.30 M561.30 72.90 L561.40 83.50 L561.60 76.08 L561.95 73.96 L562.70 73.30 M597.80 72.90 L597.90 103.40 L598.10 82.05 L598.45 75.95 L599.20 73.30 M617.80 72.90 L617.90 80.40 L618.10 75.15 L618.45 73.65 L619.20 73.30 M671.70 72.90 L671.80 89.60 L672.00 77.91 L672.35 74.57 L673.10 73.30 M680.00 72.90 L680.10 86.00 L680.30 76.83 L680.65 74.21 L681.40 73.30 " fill="none" stroke="#7c7c7c" stroke-width="0.8" stroke-linejoin="round"/>
<path d="M136.15 73.40 V77.62 M178.05 73.40 V79.74 M221.55 73.40 V76.86 M232.15 73.40 V82.42 M269.25 73.40 V74.94 M290.05 73.40 V85.06 M328.05 73.40 V76.22 M375.25 73.40 V80.06 M387.25 73.40 V78.66 M448.05 73.40 V77.06 M496.05 73.40 V74.66 M506.85 73.40 V75.90 M561.45 73.40 V77.14 M597.95 73.40 V85.10 M617.95 73.40 V75.90 M671.85 73.40 V79.58 M680.15 73.40 V78.14 " fill="none" stroke="#5a5a5a" stroke-width="0.9"/>
<path transform="translate(94.8,128.5) scale(0.25,0.1)" d="M0 -6l1 7 1-16 1 8 1-4 1 2 1 2 1 2 1-2 1 5 1-4 1 1 1-6 1 9 1-8 1 1 1 3 1 3 1-7 1 3 1 1 1-2 1 0 1 12 1 2 1 7 1 0 1-11 1 5 1-7 1 7 1-6 1 8 1-1 1-11 1 4 1 0 1 17 1-19 1 2 1-3 1 4 1-3 1-2 1-8 1 0 1-3 1 1 1-8 1 17 1-1 1 5 1 1 1 2 1-2 1-9 1 6 1-4 1 0 1 1 1-7 1 10 1 3 1-3 1-2 1 2 1 5 1-6 1-2 1 13 1-9 1 6 1 0 1 14 1-20 1 15 1-16 1 7 1 13 1-21 1 2 1 3 1-3 1 4 1 6 1-3 1-5 1-4 1-4 1 2 1-7 1 20 1-12 1 8 1 2 1-10 1 10 1-5 1 6 1 2 1-15 1 4 1 3 1-7 1-8 1 3 1 9 1 1 1-7 1 13 1-1 1 0 1-8 1 1 1 0 1-2 1-3 1-3 1-9 1 9 1 7 1-4 1-6 1 5 1 5 1 26 1-25 1-3 1 11 1-6 1 3 1-5 1 1 1-1 1-5 1 9 1 2 1-3 1 3 1 3 1-3 1-3 1-7 1 5 1 0 1-1 1 30 1-28 1 7 1-3 1 11 1-18 1 1 1 0 1 1 1 5 1-1 1 3 1 1 1-9 1-4 1 3 1-2 1-3 1 1 1 0 1 7 1 2 1 5 1 6 1 1 1 9 1 0 1 12 1-16 1-5 1-2 1-3 1-12 1 0 1 1 1-7 1 4 1 6 1-1 1 0 1-5 1 0 1 3 1-4 1 18 1-15 1 5 1 15 1-14 1 6 1-5 1 5 1-2 1 2 1 3 1 8 1 1 1-4 1-9 1-2 1-2 1 1 1-11 1 6 1 15 1-11 1-1 1-1 1-2 1 1 1-3 1 2 1 26 1-21 1-1 1-2 1-3 1 1 1 14 1-16 1 2 1 9 1-2 1-5 1 9 1-5 1-7 1-1 1 1 1 1 1-5 1 4 1 1 1-7 1 11 1-10 1 1 1 0 1-8 1 3 1 0 1 4 1 18 1-13 1 10 1 2 1-5 1-8 1-7 1 4 1-10 1 2 1-3 1-2 1 8 1 1 1 8 1-3 1 10 1-9 1 5 1-7 1 0 1-1 1-6 1-5 1 4 1 2 1 8 1 3 1 13 1 20 1-20 1-9 1 2 1-7 1-1 1 1 1 7 1-2 1-2 1 5 1 3 1 2 1 1 1-2 1 8 1-8 1-3 1-2 1-11 1-6 1 9 1-1 1 3 1-2 1 4 1-5 1 6 1 5 1-2 1 5 1 6 1-7 1-3 1 2 1 9 1 2 1-13 1-5 1-10 1 16 1-12 1 13 1-17 1 6 1-2 1 4 1 15 1-15 1-4 1 4 1 0 1-1 1 3 1 0 1-3 1 0 1-3 1 8 1-3 1-11 1 10 1 0 1 5 1-4 1 5 1-1 1-1 1-4 1 9 1 5 1-6 1 1 1 0 1 0 1 0 1-3 1 8 1-3 1-1 1-3 1 1 1 16 1 0 1-11 1 15 1-13 1-9 1 1 1-8 1-5 1 8 1-1 1 2 1-1 1-3 1 7 1-4 1-6 1 27 1-11 1-9 1-1 1 10 1-4 1-1 1 0 1-1 1-3 1 4 1 6 1-10 1 8 1 3 1-7 1-8 1 10 1-2 1-4 1 1 1 1 1-4 1 8 1-3 1-5 1 3 1 6 1-7 1 0 1 9 1-3 1-11 1-5 1 6 1 6 1 1 1 1 1 10 1-6 1 6 1-6 1 4 1-1 1-11 1 3 1-5 1 2 1 6 1 4 1-1 1-7 1-2 1 20 1-20 1 1 1-11 1 10 1 1 1 1 1 10 1-24 1 12 1-2 1 6 1-3 1 5 1-8 1 7 1-1 1 6 1 1 1 12 1-16 1-5 1-1 1-11 1 0 1-6 1 4 1 6 1 1 1 6 1 4 1 2 1 12 1-7 1-3 1-3 1 4 1 1 1-5 1-1 1-2 1-7 1 12 1-1 1-1 1 0 1 7 1-4 1 2 1 1 1-11 1 2 1 5 1-6 1 6 1 0 1 0 1-9 1 2 1-3 1 5 1-6 1-2 1-1 1-5 1-3 1 3 1 0 1 3 1 8 1 1 1 4 1 0 1 3 1-1 1 4 1-12 1-6 1-7 1 18 1-2 1 8 1-3 1-1 1-2 1 6 1 0 1-5 1-2 1 15 1-14 1-14 1 11 1-9 1 1 1 5 1-3 1-2 1 21 1-13 1-8 1 12 1-7 1 9 1-1 1-10 1 0 1-10 1 0 1 2 1 10 1 19 1-14 1 4 1-15 1-3 1-7 1 9 1-9 1-2 1 3 1-7 1 3 1 4 1 24 1-5 1 2 1 2 1-1 1-6 1 0 1-6 1 3 1 9 1-7 1 4 1-5 1 6 1-5 1-3 1 2 1 21 1-12 1-7 1 0 1-3 1-1 1 7 1-5 1 2 1 17 1-24 1 1 1-3 1-2 1 8 1 8 1-2 1 4 1-14 1 9 1-4 1 4 1-6 1-1 1 3 1-3 1-2 1-6 1 5 1 0 1 3 1 6 1 3 1 5 1 9 1-10 1-5 1 2 1 11 1-16 1 6 1 8 1-9 1 7 1 1 1 1 1-3 1 15 1-2 1-21 1 2 1-3 1 0 1-4 1 2 1 16 1-13 1 2 1-5 1-2 1 5 1-11 1 11 1-5 1 4 1-3 1 6 1 0 1 1 1-2 1 3 1-6 1 4 1-10 1 4 1-12 1-6 1-3 1 9 1-5 1 12 1 2 1-5 1-1 1 3 1-10 1 5 1-5 1 13 1-4 1 9 1 0 1 1 1-7 1 3 1 1 1-4 1 4 1-7 1 6 1-8 1 12 1 1 1-1 1 1 1-1 1 9 1-13 1 5 1-8 1-1 1 3 1 3 1 4 1-5 1 6 1-4 1 17 1 0 1-27 1-3 1 1 1 7 1-4 1 0 1 1 1 0 1-1 1 3 1-4 1-2 1 5 1 1 1 2 1-6 1-3 1 15 1-25 1-3 1-5 1 9 1 4 1 13 1 7 1-10 1 3 1-3 1-2 1 2 1-4 1 7 1-1 1 4 1-7 1 6 1-1 1 1 1 3 1-5 1 4 1 1 1-6 1 1 1 2 1 0 1 2 1-1 1 10 1-2 1-5 1 9 1-8 1-14 1 6 1 6 1-2 1 9 1-15 1 3 1 2 1 2 1 9 1-1 1-6 1-7 1 6 1 3 1-21 1 6 1 4 1 19 1-23 1-5 1 8 1 2 1-10 1 1 1 20 1-16 1-10 1-1 1-2 1 7 1-4 1 11 1 20 1-15 1 3 1-3 1-2 1 0 1-4 1 8 1 3 1 3 1-7 1 1 1 3 1-3 1-8 1 1 1 6 1-5 1 0 1 4 1 9 1-13 1 4 1 4 1 4 1-12 1-2 1 8 1 1 1 13 1-16 1-2 1 13 1-10 1-8 1 0 1-1 1-3 1-4 1 7 1-1 1 1 1 3 1-3 1 6 1-3 1 3 1-1 1-2 1 3 1 13 1-14 1-2 1-10 1 4 1 0 1-4 1-1 1 19 1-7 1-10 1 7 1 0 1 8 1 9 1-13 1 15 1-12 1-2 1-8 1-4 1 11 1-4 1 5 1-1 1 3 1 1 1 0 1 0 1 3 1 9 1-6 1-2 1 1 1 4 1-2 1-9 1 23 1-14 1-6 1 3 1-2 1 4 1 2 1-3 1-1 1 6 1-2 1-8 1-10 1 8 1 1 1-1 1 4 1 1 1 22 1-21 1-2 1 1 1-6 1 7 1-3 1 15 1-20 1 14 1-7 1 0 1 4 1 4 1-15 1-6 1-2 1 9 1 10 1-15 1 4 1 9 1 2 1 5 1-4 1 9 1-11 1-12 1 3 1 0 1-4 1-3 1 3 1-11 1 6 1 2 1-7 1 7 1-5 1 7 1 0 1-4 1 2 1-6 1 8 1 3 1 3 1 5 1-1 1-2 1 2 1-3 1-2 1 2 1 1 1 3 1-4 1-1 1 2 1-1 1 4 1-3 1 1 1-1 1 2 1-3 1 2 1-3 1 2 1-9 1 8 1 7 1-2 1 2 1 7 1 7 1 1 1-3 1 7 1-1 1-5 1-14 1-4 1 0 1-9 1 4 1 5 1-4 1 9 1 0 1 2 1-7 1-2 1-4 1 5 1 7 1-3 1 0 1-3 1 5 1 2 1 4 1-14 1 16 1-14 1 1 1-8 1 2 1 11 1 3 1-5 1 9 1 5 1-8 1 1 1-4 1-3 1-4 1-2 1 3 1 3 1-4 1 4 1-3 1 0 1 7 1-6 1-4 1 3 1-2 1 5 1 0 1 3 1 2 1 0 1 0 1-3 1 9 1 2 1-6 1-6 1 1 1-2 1 1 1-9 1-5 1 8 1-3 1-1 1 7 1 1 1-5 1-2 1 5 1 0 1 1 1-1 1 0 1 2 1 9 1-4 1 0 1-2 1 2 1-1 1-1 1-3 1 12 1-8 1 0 1 1 1 7 1 3 1-5 1 0 1 3 1 3 1-4 1-2 1 6 1-2 1-5 1-4 1-5 1 0 1-8 1-6 1 10 1 0 1-5 1-2 1-4 1 15 1-4 1 4 1 1 1 4 1-3 1 10 1-8 1-9 1 9 1-4 1-2 1 10 1 14 1-10 1-14 1 0 1 10 1 6 1 6 1-13 1-3 1 0 1-1 1 5 1-11 1 4 1-1 1 0 1-2 1 23 1-20 1 0 1 10 1-2 1-4 1 3 1 5 1-12 1 10 1 2 1-9 1-2 1 0 1-3 1-2 1 5 1 6 1 3 1-2 1 7 1 5 1-9 1 14 1-14 1-1 1-5 1-5 1 4 1-5 1 5 1 1 1-2 1-3 1-4 1 10 1-6 1 0 1-1 1-3 1 4 1-4 1-3 1 0 1-9 1 4 1 2 1 7 1-24 1 24 1-10 1 2 1 2 1-6 1 9 1 0 1-2 1-1 1-4 1-2 1 1 1 17 1-8 1 6 1 4 1 1 1-4 1 0 1 7 1-7 1-2 1 1 1 5 1-1 1 4 1-11 1 7 1-2 1-8 1 3 1-1 1 2 1 1 1-2 1-4 1 1 1 22 1-9 1 2 1 3 1-3 1 14 1-8 1-11 1-2 1 22 1-30 1 8 1-9 1 0 1 6 1 4 1 5 1-1 1 5 1 2 1 0 1-5 1 6 1-7 1 9 1 1 1 0 1-2 1 22 1-27 1-3 1 0 1-15 1 6 1-8 1 2 1 3 1 3 1 22 1-19 1-1 1 2 1 11 1-10 1-4 1 1 1-8 1 4 1-9 1 13 1 0 1-10 1 4 1 5 1-9 1 6 1-8 1 4 1 12 1-12 1 11 1-9 1 4 1 4 1-6 1 2 1 25 1-30 1-1 1 6 1-4 1 6 1 3 1-5 1-4 1 2 1 8 1-1 1 2 1 2 1 1 1 8 1-3 1 2 1-8 1 22 1-13 1-1 1-8 1 7 1 0 1-6 1 8 1-5 1-1 1-4 1 4 1-3 1-3 1-5 1-3 1 2 1 3 1 2 1-9 1 1 1-1 1-1 1 4 1-5 1 2 1 0 1 1 1 9 1-10 1 8 1-6 1 0 1 7 1-3 1 3 1-7 1 3 1 8 1-15 1 18 1-7 1-5 1-2 1 5 1-10 1 2 1-6 1 6 1-7 1 9 1-4 1-1 1 19 1-21 1 1 1 7 1 5 1-10 1 16 1 4 1 0 1 4 1 1 1-14 1-1 1 18 1-13 1-10 1 3 1 2 1-4 1 4 1 3 1 0 1-1 1 7 1-1 1 1 1-3 1 3 1-1 1 3 1-9 1 2 1-2 1-12 1 4 1-3 1 4 1 1 1-1 1 18 1 2 1-6 1 0 1-4 1 0 1-6 1-10 1 8 1 1 1 2 1 6 1-3 1 3 1-6 1 7 1 0 1-4 1 0 1 3 1 2 1-5 1-5 1-1 1-6 1 2 1 0 1-3 1 10 1 8 1 4 1 2 1-4 1 1 1 6 1-9 1-2 1 2 1-6 1 0 1 25 1-10 1-12 1-7 1 1 1-1 1 8 1-6 1-1 1-4 1-6 1 4 1-1 1 0 1 1 1 0 1 1 1 0 1-3 1-1 1 7 1-1 1-4 1 1 1-2 1-1 1 0 1 1 1 2 1 3 1 15 1-19 1 7 1-11 1 6 1-4 1 8 1 1 1-2 1 9 1-7 1-1 1 7 1-4 1-4 1 7 1-2 1 7 1 6 1-12 1 12 1 3 1 5 1-12 1-1 1-7 1-1 1-6 1 8 1-3 1-1 1 2 1 3 1-5 1-4 1 6 1-2 1 6 1-7 1-5 1 0 1-5 1-7 1 11 1 4 1 3 1-1 1 3 1 2 1 4 1-2 1-3 1-8 1 2 1 6 1-3 1 2 1-6 1-4 1 5 1-5 1-13 1 6 1 5 1 4 1-5 1-2 1 4 1-8 1-3 1 9 1-4 1 11 1 4 1-1 1-2 1-3 1-3 1 3 1 8 1-13 1 13 1 0 1-9 1 0 1-7 1 4 1 4 1-6 1 9 1-3 1 7 1-7 1 0 1 13 1-5 1-6 1 18 1-16 1 0 1-3 1 5 1-4 1 4 1 3 1-8 1 7 1-9 1 2 1 1 1-5 1 15 1 0 1 9 1-8 1-11 1 4 1-5 1 5 1 0 1 4 1 6 1-7 1-2 1 5 1 0 1-5 1-4 1 8 1-5 1 6 1-4 1-1 1-4 1 3 1-13 1 24 1-15 1-1 1 2 1-2 1 10 1-5 1 6 1 0 1-1 1-6 1 6 1-2 1 6 1-12 1-2 1 5 1-3 1-9 1 7 1-10 1 1 1 12 1 6 1-1 1-1 1-2 1-1 1 0 1-10 1 2 1-1 1 2 1 0 1 9 1 9 1-14 1 6 1-13 1-8 1 7 1 9 1 0 1-1 1-6 1 1 1 4 1-4 1-6 1 8 1-4 1-6 1-4 1 1 1 11 1-1 1 4 1-5 1 6 1 8 1 1 1-2 1-2 1 6 1 22 1-24 1-9 1 11 1-3 1-3 1-3 1 3 1-4 1-1 1-7 1 4 1 12 1-16 1 4 1 11 1 1 1-4 1-2 1 16 1-21 1 1 1-2 1 9 1-3 1-8 1 12 1-4 1-7 1 8 1-2 1-4 1 4 1-5 1 5 1 0 1-1 1 6 1-8 1 5 1-4 1 1 1-5 1 6 1 21 1-17 1 4 1-3 1 0 1-7 1-1 1-8 1 7 1-2 1-3 1 10 1 1 1 9 1-18 1 7 1-5 1-9 1 3 1 1 1 3 1 7 1-9 1 6 1 1 1-3 1 4 1-6 1 0 1-2 1-4 1 8 1-1 1 13 1-1 1-4 1-3 1 3 1 2 1-12 1 3 1 7 1-9 1 12 1-1 1-9 1 10 1-9 1 7 1 3 1 0 1-1 1-8 1 1 1 7 1-6 1-2 1 4 1 0 1 6 1-2 1 2 1 5 1-4 1-5 1-4 1-1 1-4 1 2 1-1 1-9 1-2 1-2 1 14 1-8 1 7 1 8 1-5 1 11 1 4 1-3 1 19 1-27 1-7 1 1 1 5 1-9 1 1 1-5 1 8 1-1 1-3 1 1 1 5 1 7 1-14 1 2 1 10 1-8 1 2 1 1 1 2 1 4 1-21 1 8 1-4 1 4 1 3 1-5 1 13 1 5 1 12 1-23 1 8 1-5 1-6 1 5 1-1 1-6 1 0 1 13 1-10 1-7 1 12 1 20 1-34 1 18 1-19 1 8 1-6 1 1 1-6 1 12 1-1 1-4 1 4 1 3 1-5 1 4 1 1 1 4 1 0 1-5 1 10 1 0 1 18 1-13 1 2 1 5 1-9 1-1 1-4 1 14 1-26 1 12 1-13 1 10 1-5 1 4 1 6 1-13 1 12 1-7 1 3 1 7 1 6 1-10 1-3 1 4 1-3 1 15 1-1 1 0 1-6 1-2 1 20 1-32 1 3 1 18 1-22 1 4 1-2 1 1 1-2 1 7 1-3 1 3 1-2 1 3 1 7 1-20 1 0 1-1 1-3 1 21 1-10 1-10 1 7 1-2 1-1 1-7 1-3 1 6 1-3 1 0 1 5 1 12 1 2 1-12 1-3 1-2 1 14 1 6 1 6 1-9 1-6 1 3 1 8 1 4 1 7 1 0 1-2 1 1 1-3 1-1 1-4 1-5 1 2 1-9 1 5 1 3 1-7 1 2 1-4 1 2 1 2 1 3 1 4 1-3 1 8 1-6 1-6 1 1 1-1 1 6 1-8 1 2 1-12 1 12 1-6 1 1 1 6 1-3 1 2 1-6 1-1 1 5 1-8 1 4 1 9 1 3 1 0 1 7 1 1 1-3 1 0 1-4 1-2 1-3 1-3 1-1 1 3 1-1 1-3 1-1 1 7 1-7 1 3 1 8 1 2 1-3 1 5 1-1 1 0 1-1 1 3 1-4 1-8 1-11 1 14 1-15 1-1 1 10 1-5 1 5 1 3 1 0 1-1 1-2 1-5 1 5 1 1 1-6 1 2 1 3 1 1 1-2 1-5 1 4 1 5 1 2 1-4 1 4 1-3 1 14 1-11 1-10 1-2 1 8 1-1 1 8 1-12 1-5 1 3 1 0 1 9 1-9 1 11 1-1 1 2 1 1 1-10 1 10 1 4 1 13 1-13 1-5 1 1 1-2 1-5 1 1 1-1 1 8 1-4 1-1 1 4 1 3 1-1 1-1 1 1 1-3 1 7 1-14 1-2 1 13 1-15 1 24 1-19 1 7 1 5 1-6 1-2 1-2 1 6 1-11 1 1 1-2 1-6 1 8 1-3 1-5 1 6 1-2 1 6 1-1 1 6 1 8 1-6 1 1 1 4 1-10 1 4 1-5 1 10 1-5 1-4 1 6 1-10 1 7 1 26 1-21 1-6 1-2 1 6 1-4 1-7 1 5 1-8 1 12 1-1 1 22 1-15 1 0 1 17 1-3 1-10 1-9 1 1 1 1 1-2 1 17 1-22 1 4 1 1 1 8 1-8 1 4 1 1 1 1 1-6 1-5 1 5 1 4 1 13 1-10 1-2 1 0 1-2 1 4 1-4 1 21 1-17 1 6 1-2 1 12 1-10 1-14 1 4 1-7 1 6 1-14 1 10 1-8 1 3 1 4 1-7 1 17 1-16 1 2 1-6 1 3 1-5 1 13 1 3 1-2 1-1 1 4 1 9 1-5 1 0 1 2 1-6 1-2 1 2 1 8 1-13 1-3 1 4 1-6 1 23 1-22 1-9 1 12 1-13 1 9 1 10 1-3 1 13 1-3 1-1 1-4 1 8 1-12 1-1 1 4 1-5 1-7 1 16 1-2 1-17 1 1 1-4 1 25 1-6 1-2 1 8 1-4 1-3 1 1 1-5 1 2 1 0 1 1 1-10 1 1 1 5 1-4 1-2 1-1 1 9 1-3 1-1 1-1 1 1 1 3 1 1 1-2 1 2 1 0 1 3 1-4 1-4 1-8 1 13 1-12 1 0 1 1 1-5 1 19 1-11 1 7 1 2 1-1 1 4 1 0 1 1 1 4 1-4 1 20 1-24 1 1 1-6 1-2 1 0 1 9 1-14 1 2 1 8 1 2 1-1 1-5 1 1 1-5 1 9 1-10 1 3 1 3 1-3 1 15 1-5 1-1 1 26 1-17 1 4 1-8 1 9 1-5 1 3 1-1 1-14 1 7 1-1 1-2 1-6 1 2 1 5 1-1 1-8 1 3 1 2 1-1 1 2 1 15 1-12 1-2 1-4 1 2 1 3 1-1 1-5 1 15 1-13 1 0 1 6 1 13 1-12 1-5 1-1 1 1 1 6 1 1 1-1 1-4 1 0 1 3 1-10 1 6 1 3 1 23 1-16 1 1 1 4 1-1 1-4 1 10 1-4 1-10 1 3 1-2 1-3 1 14 1-19 1 19 1-18 1-4 1 12 1-3 1 4 1-15 1-2 1 13 1-16 1 1 1-4 1 2 1 8 1-9 1 3 1-9 1 2 1-3 1 1 1-6 1 32 1-20 1 6 1 14 1-16 1 1 1 8 1-8 1 2 1-8 1 10 1-4 1-1 1-3 1 4 1 16 1-19 1 2 1 3 1-6 1-6 1 12 1-8 1-4 1 4 1 2 1-1 1 7 1-9 1 5 1-6 1 1 1 2 1-5 1-1 1 1 1-4 1 20 1-8 1-6 1 4 1 6 1 1 1 4 1-7 1 10 1-9 1-3 1-2 1 7 1 4" fill="none" stroke="#888" stroke-width="2.85" stroke-opacity="0.22" stroke-linejoin="round" vector-effect="non-scaling-stroke"/>
<path transform="translate(94.8,128.5) scale(0.25,0.1)" d="M0 -6l1 7 1-16 1 8 1-4 1 2 1 2 1 2 1-2 1 5 1-4 1 1 1-6 1 9 1-8 1 1 1 3 1 3 1-7 1 3 1 1 1-2 1 0 1 12 1 2 1 7 1 0 1-11 1 5 1-7 1 7 1-6 1 8 1-1 1-11 1 4 1 0 1 17 1-19 1 2 1-3 1 4 1-3 1-2 1-8 1 0 1-3 1 1 1-8 1 17 1-1 1 5 1 1 1 2 1-2 1-9 1 6 1-4 1 0 1 1 1-7 1 10 1 3 1-3 1-2 1 2 1 5 1-6 1-2 1 13 1-9 1 6 1 0 1 14 1-20 1 15 1-16 1 7 1 13 1-21 1 2 1 3 1-3 1 4 1 6 1-3 1-5 1-4 1-4 1 2 1-7 1 20 1-12 1 8 1 2 1-10 1 10 1-5 1 6 1 2 1-15 1 4 1 3 1-7 1-8 1 3 1 9 1 1 1-7 1 13 1-1 1 0 1-8 1 1 1 0 1-2 1-3 1-3 1-9 1 9 1 7 1-4 1-6 1 5 1 5 1 26 1-25 1-3 1 11 1-6 1 3 1-5 1 1 1-1 1-5 1 9 1 2 1-3 1 3 1 3 1-3 1-3 1-7 1 5 1 0 1-1 1 30 1-28 1 7 1-3 1 11 1-18 1 1 1 0 1 1 1 5 1-1 1 3 1 1 1-9 1-4 1 3 1-2 1-3 1 1 1 0 1 7 1 2 1 5 1 6 1 1 1 9 1 0 1 12 1-16 1-5 1-2 1-3 1-12 1 0 1 1 1-7 1 4 1 6 1-1 1 0 1-5 1 0 1 3 1-4 1 18 1-15 1 5 1 15 1-14 1 6 1-5 1 5 1-2 1 2 1 3 1 8 1 1 1-4 1-9 1-2 1-2 1 1 1-11 1 6 1 15 1-11 1-1 1-1 1-2 1 1 1-3 1 2 1 26 1-21 1-1 1-2 1-3 1 1 1 14 1-16 1 2 1 9 1-2 1-5 1 9 1-5 1-7 1-1 1 1 1 1 1-5 1 4 1 1 1-7 1 11 1-10 1 1 1 0 1-8 1 3 1 0 1 4 1 18 1-13 1 10 1 2 1-5 1-8 1-7 1 4 1-10 1 2 1-3 1-2 1 8 1 1 1 8 1-3 1 10 1-9 1 5 1-7 1 0 1-1 1-6 1-5 1 4 1 2 1 8 1 3 1 13 1 20 1-20 1-9 1 2 1-7 1-1 1 1 1 7 1-2 1-2 1 5 1 3 1 2 1 1 1-2 1 8 1-8 1-3 1-2 1-11 1-6 1 9 1-1 1 3 1-2 1 4 1-5 1 6 1 5 1-2 1 5 1 6 1-7 1-3 1 2 1 9 1 2 1-13 1-5 1-10 1 16 1-12 1 13 1-17 1 6 1-2 1 4 1 15 1-15 1-4 1 4 1 0 1-1 1 3 1 0 1-3 1 0 1-3 1 8 1-3 1-11 1 10 1 0 1 5 1-4 1 5 1-1 1-1 1-4 1 9 1 5 1-6 1 1 1 0 1 0 1 0 1-3 1 8 1-3 1-1 1-3 1 1 1 16 1 0 1-11 1 15 1-13 1-9 1 1 1-8 1-5 1 8 1-1 1 2 1-1 1-3 1 7 1-4 1-6 1 27 1-11 1-9 1-1 1 10 1-4 1-1 1 0 1-1 1-3 1 4 1 6 1-10 1 8 1 3 1-7 1-8 1 10 1-2 1-4 1 1 1 1 1-4 1 8 1-3 1-5 1 3 1 6 1-7 1 0 1 9 1-3 1-11 1-5 1 6 1 6 1 1 1 1 1 10 1-6 1 6 1-6 1 4 1-1 1-11 1 3 1-5 1 2 1 6 1 4 1-1 1-7 1-2 1 20 1-20 1 1 1-11 1 10 1 1 1 1 1 10 1-24 1 12 1-2 1 6 1-3 1 5 1-8 1 7 1-1 1 6 1 1 1 12 1-16 1-5 1-1 1-11 1 0 1-6 1 4 1 6 1 1 1 6 1 4 1 2 1 12 1-7 1-3 1-3 1 4 1 1 1-5 1-1 1-2 1-7 1 12 1-1 1-1 1 0 1 7 1-4 1 2 1 1 1-11 1 2 1 5 1-6 1 6 1 0 1 0 1-9 1 2 1-3 1 5 1-6 1-2 1-1 1-5 1-3 1 3 1 0 1 3 1 8 1 1 1 4 1 0 1 3 1-1 1 4 1-12 1-6 1-7 1 18 1-2 1 8 1-3 1-1 1-2 1 6 1 0 1-5 1-2 1 15 1-14 1-14 1 11 1-9 1 1 1 5 1-3 1-2 1 21 1-13 1-8 1 12 1-7 1 9 1-1 1-10 1 0 1-10 1 0 1 2 1 10 1 19 1-14 1 4 1-15 1-3 1-7 1 9 1-9 1-2 1 3 1-7 1 3 1 4 1 24 1-5 1 2 1 2 1-1 1-6 1 0 1-6 1 3 1 9 1-7 1 4 1-5 1 6 1-5 1-3 1 2 1 21 1-12 1-7 1 0 1-3 1-1 1 7 1-5 1 2 1 17 1-24 1 1 1-3 1-2 1 8 1 8 1-2 1 4 1-14 1 9 1-4 1 4 1-6 1-1 1 3 1-3 1-2 1-6 1 5 1 0 1 3 1 6 1 3 1 5 1 9 1-10 1-5 1 2 1 11 1-16 1 6 1 8 1-9 1 7 1 1 1 1 1-3 1 15 1-2 1-21 1 2 1-3 1 0 1-4 1 2 1 16 1-13 1 2 1-5 1-2 1 5 1-11 1 11 1-5 1 4 1-3 1 6 1 0 1 1 1-2 1 3 1-6 1 4 1-10 1 4 1-12 1-6 1-3 1 9 1-5 1 12 1 2 1-5 1-1 1 3 1-10 1 5 1-5 1 13 1-4 1 9 1 0 1 1 1-7 1 3 1 1 1-4 1 4 1-7 1 6 1-8 1 12 1 1 1-1 1 1 1-1 1 9 1-13 1 5 1-8 1-1 1 3 1 3 1 4 1-5 1 6 1-4 1 17 1 0 1-27 1-3 1 1 1 7 1-4 1 0 1 1 1 0 1-1 1 3 1-4 1-2 1 5 1 1 1 2 1-6 1-3 1 15 1-25 1-3 1-5 1 9 1 4 1 13 1 7 1-10 1 3 1-3 1-2 1 2 1-4 1 7 1-1 1 4 1-7 1 6 1-1 1 1 1 3 1-5 1 4 1 1 1-6 1 1 1 2 1 0 1 2 1-1 1 10 1-2 1-5 1 9 1-8 1-14 1 6 1 6 1-2 1 9 1-15 1 3 1 2 1 2 1 9 1-1 1-6 1-7 1 6 1 3 1-21 1 6 1 4 1 19 1-23 1-5 1 8 1 2 1-10 1 1 1 20 1-16 1-10 1-1 1-2 1 7 1-4 1 11 1 20 1-15 1 3 1-3 1-2 1 0 1-4 1 8 1 3 1 3 1-7 1 1 1 3 1-3 1-8 1 1 1 6 1-5 1 0 1 4 1 9 1-13 1 4 1 4 1 4 1-12 1-2 1 8 1 1 1 13 1-16 1-2 1 13 1-10 1-8 1 0 1-1 1-3 1-4 1 7 1-1 1 1 1 3 1-3 1 6 1-3 1 3 1-1 1-2 1 3 1 13 1-14 1-2 1-10 1 4 1 0 1-4 1-1 1 19 1-7 1-10 1 7 1 0 1 8 1 9 1-13 1 15 1-12 1-2 1-8 1-4 1 11 1-4 1 5 1-1 1 3 1 1 1 0 1 0 1 3 1 9 1-6 1-2 1 1 1 4 1-2 1-9 1 23 1-14 1-6 1 3 1-2 1 4 1 2 1-3 1-1 1 6 1-2 1-8 1-10 1 8 1 1 1-1 1 4 1 1 1 22 1-21 1-2 1 1 1-6 1 7 1-3 1 15 1-20 1 14 1-7 1 0 1 4 1 4 1-15 1-6 1-2 1 9 1 10 1-15 1 4 1 9 1 2 1 5 1-4 1 9 1-11 1-12 1 3 1 0 1-4 1-3 1 3 1-11 1 6 1 2 1-7 1 7 1-5 1 7 1 0 1-4 1 2 1-6 1 8 1 3 1 3 1 5 1-1 1-2 1 2 1-3 1-2 1 2 1 1 1 3 1-4 1-1 1 2 1-1 1 4 1-3 1 1 1-1 1 2 1-3 1 2 1-3 1 2 1-9 1 8 1 7 1-2 1 2 1 7 1 7 1 1 1-3 1 7 1-1 1-5 1-14 1-4 1 0 1-9 1 4 1 5 1-4 1 9 1 0 1 2 1-7 1-2 1-4 1 5 1 7 1-3 1 0 1-3 1 5 1 2 1 4 1-14 1 16 1-14 1 1 1-8 1 2 1 11 1 3 1-5 1 9 1 5 1-8 1 1 1-4 1-3 1-4 1-2 1 3 1 3 1-4 1 4 1-3 1 0 1 7 1-6 1-4 1 3 1-2 1 5 1 0 1 3 1 2 1 0 1 0 1-3 1 9 1 2 1-6 1-6 1 1 1-2 1 1 1-9 1-5 1 8 1-3 1-1 1 7 1 1 1-5 1-2 1 5 1 0 1 1 1-1 1 0 1 2 1 9 1-4 1 0 1-2 1 2 1-1 1-1 1-3 1 12 1-8 1 0 1 1 1 7 1 3 1-5 1 0 1 3 1 3 1-4 1-2 1 6 1-2 1-5 1-4 1-5 1 0 1-8 1-6 1 10 1 0 1-5 1-2 1-4 1 15 1-4 1 4 1 1 1 4 1-3 1 10 1-8 1-9 1 9 1-4 1-2 1 10 1 14 1-10 1-14 1 0 1 10 1 6 1 6 1-13 1-3 1 0 1-1 1 5 1-11 1 4 1-1 1 0 1-2 1 23 1-20 1 0 1 10 1-2 1-4 1 3 1 5 1-12 1 10 1 2 1-9 1-2 1 0 1-3 1-2 1 5 1 6 1 3 1-2 1 7 1 5 1-9 1 14 1-14 1-1 1-5 1-5 1 4 1-5 1 5 1 1 1-2 1-3 1-4 1 10 1-6 1 0 1-1 1-3 1 4 1-4 1-3 1 0 1-9 1 4 1 2 1 7 1-24 1 24 1-10 1 2 1 2 1-6 1 9 1 0 1-2 1-1 1-4 1-2 1 1 1 17 1-8 1 6 1 4 1 1 1-4 1 0 1 7 1-7 1-2 1 1 1 5 1-1 1 4 1-11 1 7 1-2 1-8 1 3 1-1 1 2 1 1 1-2 1-4 1 1 1 22 1-9 1 2 1 3 1-3 1 14 1-8 1-11 1-2 1 22 1-30 1 8 1-9 1 0 1 6 1 4 1 5 1-1 1 5 1 2 1 0 1-5 1 6 1-7 1 9 1 1 1 0 1-2 1 22 1-27 1-3 1 0 1-15 1 6 1-8 1 2 1 3 1 3 1 22 1-19 1-1 1 2 1 11 1-10 1-4 1 1 1-8 1 4 1-9 1 13 1 0 1-10 1 4 1 5 1-9 1 6 1-8 1 4 1 12 1-12 1 11 1-9 1 4 1 4 1-6 1 2 1 25 1-30 1-1 1 6 1-4 1 6 1 3 1-5 1-4 1 2 1 8 1-1 1 2 1 2 1 1 1 8 1-3 1 2 1-8 1 22 1-13 1-1 1-8 1 7 1 0 1-6 1 8 1-5 1-1 1-4 1 4 1-3 1-3 1-5 1-3 1 2 1 3 1 2 1-9 1 1 1-1 1-1 1 4 1-5 1 2 1 0 1 1 1 9 1-10 1 8 1-6 1 0 1 7 1-3 1 3 1-7 1 3 1 8 1-15 1 18 1-7 1-5 1-2 1 5 1-10 1 2 1-6 1 6 1-7 1 9 1-4 1-1 1 19 1-21 1 1 1 7 1 5 1-10 1 16 1 4 1 0 1 4 1 1 1-14 1-1 1 18 1-13 1-10 1 3 1 2 1-4 1 4 1 3 1 0 1-1 1 7 1-1 1 1 1-3 1 3 1-1 1 3 1-9 1 2 1-2 1-12 1 4 1-3 1 4 1 1 1-1 1 18 1 2 1-6 1 0 1-4 1 0 1-6 1-10 1 8 1 1 1 2 1 6 1-3 1 3 1-6 1 7 1 0 1-4 1 0 1 3 1 2 1-5 1-5 1-1 1-6 1 2 1 0 1-3 1 10 1 8 1 4 1 2 1-4 1 1 1 6 1-9 1-2 1 2 1-6 1 0 1 25 1-10 1-12 1-7 1 1 1-1 1 8 1-6 1-1 1-4 1-6 1 4 1-1 1 0 1 1 1 0 1 1 1 0 1-3 1-1 1 7 1-1 1-4 1 1 1-2 1-1 1 0 1 1 1 2 1 3 1 15 1-19 1 7 1-11 1 6 1-4 1 8 1 1 1-2 1 9 1-7 1-1 1 7 1-4 1-4 1 7 1-2 1 7 1 6 1-12 1 12 1 3 1 5 1-12 1-1 1-7 1-1 1-6 1 8 1-3 1-1 1 2 1 3 1-5 1-4 1 6 1-2 1 6 1-7 1-5 1 0 1-5 1-7 1 11 1 4 1 3 1-1 1 3 1 2 1 4 1-2 1-3 1-8 1 2 1 6 1-3 1 2 1-6 1-4 1 5 1-5 1-13 1 6 1 5 1 4 1-5 1-2 1 4 1-8 1-3 1 9 1-4 1 11 1 4 1-1 1-2 1-3 1-3 1 3 1 8 1-13 1 13 1 0 1-9 1 0 1-7 1 4 1 4 1-6 1 9 1-3 1 7 1-7 1 0 1 13 1-5 1-6 1 18 1-16 1 0 1-3 1 5 1-4 1 4 1 3 1-8 1 7 1-9 1 2 1 1 1-5 1 15 1 0 1 9 1-8 1-11 1 4 1-5 1 5 1 0 1 4 1 6 1-7 1-2 1 5 1 0 1-5 1-4 1 8 1-5 1 6 1-4 1-1 1-4 1 3 1-13 1 24 1-15 1-1 1 2 1-2 1 10 1-5 1 6 1 0 1-1 1-6 1 6 1-2 1 6 1-12 1-2 1 5 1-3 1-9 1 7 1-10 1 1 1 12 1 6 1-1 1-1 1-2 1-1 1 0 1-10 1 2 1-1 1 2 1 0 1 9 1 9 1-14 1 6 1-13 1-8 1 7 1 9 1 0 1-1 1-6 1 1 1 4 1-4 1-6 1 8 1-4 1-6 1-4 1 1 1 11 1-1 1 4 1-5 1 6 1 8 1 1 1-2 1-2 1 6 1 22 1-24 1-9 1 11 1-3 1-3 1-3 1 3 1-4 1-1 1-7 1 4 1 12 1-16 1 4 1 11 1 1 1-4 1-2 1 16 1-21 1 1 1-2 1 9 1-3 1-8 1 12 1-4 1-7 1 8 1-2 1-4 1 4 1-5 1 5 1 0 1-1 1 6 1-8 1 5 1-4 1 1 1-5 1 6 1 21 1-17 1 4 1-3 1 0 1-7 1-1 1-8 1 7 1-2 1-3 1 10 1 1 1 9 1-18 1 7 1-5 1-9 1 3 1 1 1 3 1 7 1-9 1 6 1 1 1-3 1 4 1-6 1 0 1-2 1-4 1 8 1-1 1 13 1-1 1-4 1-3 1 3 1 2 1-12 1 3 1 7 1-9 1 12 1-1 1-9 1 10 1-9 1 7 1 3 1 0 1-1 1-8 1 1 1 7 1-6 1-2 1 4 1 0 1 6 1-2 1 2 1 5 1-4 1-5 1-4 1-1 1-4 1 2 1-1 1-9 1-2 1-2 1 14 1-8 1 7 1 8 1-5 1 11 1 4 1-3 1 19 1-27 1-7 1 1 1 5 1-9 1 1 1-5 1 8 1-1 1-3 1 1 1 5 1 7 1-14 1 2 1 10 1-8 1 2 1 1 1 2 1 4 1-21 1 8 1-4 1 4 1 3 1-5 1 13 1 5 1 12 1-23 1 8 1-5 1-6 1 5 1-1 1-6 1 0 1 13 1-10 1-7 1 12 1 20 1-34 1 18 1-19 1 8 1-6 1 1 1-6 1 12 1-1 1-4 1 4 1 3 1-5 1 4 1 1 1 4 1 0 1-5 1 10 1 0 1 18 1-13 1 2 1 5 1-9 1-1 1-4 1 14 1-26 1 12 1-13 1 10 1-5 1 4 1 6 1-13 1 12 1-7 1 3 1 7 1 6 1-10 1-3 1 4 1-3 1 15 1-1 1 0 1-6 1-2 1 20 1-32 1 3 1 18 1-22 1 4 1-2 1 1 1-2 1 7 1-3 1 3 1-2 1 3 1 7 1-20 1 0 1-1 1-3 1 21 1-10 1-10 1 7 1-2 1-1 1-7 1-3 1 6 1-3 1 0 1 5 1 12 1 2 1-12 1-3 1-2 1 14 1 6 1 6 1-9 1-6 1 3 1 8 1 4 1 7 1 0 1-2 1 1 1-3 1-1 1-4 1-5 1 2 1-9 1 5 1 3 1-7 1 2 1-4 1 2 1 2 1 3 1 4 1-3 1 8 1-6 1-6 1 1 1-1 1 6 1-8 1 2 1-12 1 12 1-6 1 1 1 6 1-3 1 2 1-6 1-1 1 5 1-8 1 4 1 9 1 3 1 0 1 7 1 1 1-3 1 0 1-4 1-2 1-3 1-3 1-1 1 3 1-1 1-3 1-1 1 7 1-7 1 3 1 8 1 2 1-3 1 5 1-1 1 0 1-1 1 3 1-4 1-8 1-11 1 14 1-15 1-1 1 10 1-5 1 5 1 3 1 0 1-1 1-2 1-5 1 5 1 1 1-6 1 2 1 3 1 1 1-2 1-5 1 4 1 5 1 2 1-4 1 4 1-3 1 14 1-11 1-10 1-2 1 8 1-1 1 8 1-12 1-5 1 3 1 0 1 9 1-9 1 11 1-1 1 2 1 1 1-10 1 10 1 4 1 13 1-13 1-5 1 1 1-2 1-5 1 1 1-1 1 8 1-4 1-1 1 4 1 3 1-1 1-1 1 1 1-3 1 7 1-14 1-2 1 13 1-15 1 24 1-19 1 7 1 5 1-6 1-2 1-2 1 6 1-11 1 1 1-2 1-6 1 8 1-3 1-5 1 6 1-2 1 6 1-1 1 6 1 8 1-6 1 1 1 4 1-10 1 4 1-5 1 10 1-5 1-4 1 6 1-10 1 7 1 26 1-21 1-6 1-2 1 6 1-4 1-7 1 5 1-8 1 12 1-1 1 22 1-15 1 0 1 17 1-3 1-10 1-9 1 1 1 1 1-2 1 17 1-22 1 4 1 1 1 8 1-8 1 4 1 1 1 1 1-6 1-5 1 5 1 4 1 13 1-10 1-2 1 0 1-2 1 4 1-4 1 21 1-17 1 6 1-2 1 12 1-10 1-14 1 4 1-7 1 6 1-14 1 10 1-8 1 3 1 4 1-7 1 17 1-16 1 2 1-6 1 3 1-5 1 13 1 3 1-2 1-1 1 4 1 9 1-5 1 0 1 2 1-6 1-2 1 2 1 8 1-13 1-3 1 4 1-6 1 23 1-22 1-9 1 12 1-13 1 9 1 10 1-3 1 13 1-3 1-1 1-4 1 8 1-12 1-1 1 4 1-5 1-7 1 16 1-2 1-17 1 1 1-4 1 25 1-6 1-2 1 8 1-4 1-3 1 1 1-5 1 2 1 0 1 1 1-10 1 1 1 5 1-4 1-2 1-1 1 9 1-3 1-1 1-1 1 1 1 3 1 1 1-2 1 2 1 0 1 3 1-4 1-4 1-8 1 13 1-12 1 0 1 1 1-5 1 19 1-11 1 7 1 2 1-1 1 4 1 0 1 1 1 4 1-4 1 20 1-24 1 1 1-6 1-2 1 0 1 9 1-14 1 2 1 8 1 2 1-1 1-5 1 1 1-5 1 9 1-10 1 3 1 3 1-3 1 15 1-5 1-1 1 26 1-17 1 4 1-8 1 9 1-5 1 3 1-1 1-14 1 7 1-1 1-2 1-6 1 2 1 5 1-1 1-8 1 3 1 2 1-1 1 2 1 15 1-12 1-2 1-4 1 2 1 3 1-1 1-5 1 15 1-13 1 0 1 6 1 13 1-12 1-5 1-1 1 1 1 6 1 1 1-1 1-4 1 0 1 3 1-10 1 6 1 3 1 23 1-16 1 1 1 4 1-1 1-4 1 10 1-4 1-10 1 3 1-2 1-3 1 14 1-19 1 19 1-18 1-4 1 12 1-3 1 4 1-15 1-2 1 13 1-16 1 1 1-4 1 2 1 8 1-9 1 3 1-9 1 2 1-3 1 1 1-6 1 32 1-20 1 6 1 14 1-16 1 1 1 8 1-8 1 2 1-8 1 10 1-4 1-1 1-3 1 4 1 16 1-19 1 2 1 3 1-6 1-6 1 12 1-8 1-4 1 4 1 2 1-1 1 7 1-9 1 5 1-6 1 1 1 2 1-5 1-1 1 1 1-4 1 20 1-8 1-6 1 4 1 6 1 1 1 4 1-7 1 10 1-9 1-3 1-2 1 7 1 4" fill="none" stroke="#2a2a2a" stroke-width="1.25" stroke-linejoin="round" vector-effect="non-scaling-stroke"/>
<path d="M99.20 128.50 L99.30 136.30 L99.50 130.84 L99.85 129.28 L100.60 128.90 M101.90 128.50 L102.00 136.30 L102.20 130.84 L102.55 129.28 L103.30 128.90 M108.60 128.50 L108.70 149.10 L108.90 134.68 L109.25 130.56 L110.00 128.90 M136.60 128.50 L136.70 136.90 L136.90 131.02 L137.25 129.34 L138.00 128.90 M171.20 128.50 L171.30 139.00 L171.50 131.65 L171.85 129.55 L172.60 128.90 M190.70 128.50 L190.80 173.10 L191.00 141.88 L191.35 132.96 L192.10 128.90 M216.60 128.50 L216.70 135.00 L216.90 130.45 L217.25 129.15 L218.00 128.90 M235.20 128.50 L235.30 132.30 L235.50 129.64 L235.85 128.88 L236.60 128.90 M241.10 128.50 L241.20 167.00 L241.40 140.05 L241.75 132.35 L242.50 128.90 M245.90 128.50 L246.00 143.00 L246.20 132.85 L246.55 129.95 L247.30 128.90 M265.40 128.50 L265.50 149.70 L265.70 134.86 L266.05 130.62 L266.80 128.90 M271.20 128.50 L271.30 135.00 L271.50 130.45 L271.85 129.15 L272.60 128.90 M288.60 128.50 L288.70 133.70 L288.90 130.06 L289.25 129.02 L290.00 128.90 M291.10 128.50 L291.20 147.00 L291.40 134.05 L291.75 130.35 L292.50 128.90 M301.20 128.50 L301.30 133.70 L301.50 130.06 L301.85 129.02 L302.60 128.90 M326.60 128.50 L326.70 149.10 L326.90 134.68 L327.25 130.56 L328.00 128.90 M343.40 128.50 L343.50 135.00 L343.70 130.45 L344.05 129.15 L344.80 128.90 M353.20 128.50 L353.30 141.70 L353.50 132.46 L353.85 129.82 L354.60 128.90 M365.20 128.50 L365.30 147.00 L365.50 134.05 L365.85 130.35 L366.60 128.90 M386.00 128.50 L386.10 143.80 L386.30 133.09 L386.65 130.03 L387.40 128.90 M410.60 128.50 L410.70 139.50 L410.90 131.80 L411.25 129.60 L412.00 128.90 M432.40 128.50 L432.50 152.30 L432.70 135.64 L433.05 130.88 L433.80 128.90 M454.60 128.50 L454.70 143.00 L454.90 132.85 L455.25 129.95 L456.00 128.90 M459.10 128.50 L459.20 136.30 L459.40 130.84 L459.75 129.28 L460.50 128.90 M469.80 128.50 L469.90 136.30 L470.10 130.84 L470.45 129.28 L471.20 128.90 M477.60 128.50 L477.70 138.00 L477.90 131.35 L478.25 129.45 L479.00 128.90 M501.50 128.50 L501.60 149.40 L501.80 134.77 L502.15 130.59 L502.90 128.90 M513.80 128.50 L513.90 146.30 L514.10 133.84 L514.45 130.28 L515.20 128.90 M535.20 128.50 L535.30 142.00 L535.50 132.55 L535.85 129.85 L536.60 128.90 M582.80 128.50 L582.90 138.00 L583.10 131.35 L583.45 129.45 L584.20 128.90 M601.80 128.50 L601.90 141.00 L602.10 132.25 L602.45 129.75 L603.20 128.90 M603.90 128.50 L604.00 165.60 L604.20 139.63 L604.55 132.21 L605.30 128.90 M624.80 128.50 L624.90 143.20 L625.10 132.91 L625.45 129.97 L626.20 128.90 M657.90 128.50 L658.00 138.00 L658.20 131.35 L658.55 129.45 L659.30 128.90 M672.40 128.50 L672.50 150.30 L672.70 135.04 L673.05 130.68 L673.80 128.90 M675.40 128.50 L675.50 134.00 L675.70 130.15 L676.05 129.05 L676.80 128.90 M678.50 128.50 L678.60 134.00 L678.80 130.15 L679.15 129.05 L679.90 128.90 M682.50 128.50 L682.60 133.00 L682.80 129.85 L683.15 128.95 L683.90 128.90 " fill="none" stroke="#7c7c7c" stroke-width="0.8" stroke-linejoin="round"/>
<path d="M99.35 129.00 V131.62 M102.05 129.00 V131.62 M108.75 129.00 V136.74 M136.75 129.00 V131.86 M171.35 129.00 V132.70 M190.85 129.00 V146.34 M216.75 129.00 V131.10 M235.35 129.00 V130.02 M241.25 129.00 V143.90 M246.05 129.00 V134.30 M265.55 129.00 V136.98 M271.35 129.00 V131.10 M288.75 129.00 V130.58 M291.25 129.00 V135.90 M301.35 129.00 V130.58 M326.75 129.00 V136.74 M343.55 129.00 V131.10 M353.35 129.00 V133.78 M365.35 129.00 V135.90 M386.15 129.00 V134.62 M410.75 129.00 V132.90 M432.55 129.00 V138.02 M454.75 129.00 V134.30 M459.25 129.00 V131.62 M469.95 129.00 V131.62 M477.75 129.00 V132.30 M501.65 129.00 V136.86 M513.95 129.00 V135.62 M535.35 129.00 V133.90 M582.95 129.00 V132.30 M601.95 129.00 V133.50 M604.05 129.00 V143.34 M624.95 129.00 V134.38 M658.05 129.00 V132.30 M672.55 129.00 V137.22 M675.55 129.00 V130.70 M678.65 129.00 V130.70 M682.65 129.00 V130.30 " fill="none" stroke="#5a5a5a" stroke-width="0.9"/>
<path transform="translate(92.1,180.2) scale(0.25,0.1)" d="M0 6l1-13 1-3 1 4 1 1 1-3 1-2 1 4 1-5 1 0 1 5 1 0 1 0 1 5 1 4 1-1 1 2 1-1 1-1 1 4 1-4 1 1 1 13 1-18 1 2 1 4 1 6 1-10 1-1 1-5 1 1 1 4 1 3 1-7 1 25 1-19 1-5 1 3 1 12 1-3 1-4 1 11 1-8 1-10 1-5 1-3 1 6 1 3 1-6 1 18 1-1 1-5 1-8 1 2 1-2 1 18 1-33 1 13 1 4 1-9 1-1 1 6 1 3 1-5 1 2 1 1 1 22 1-10 1-3 1 4 1-6 1 3 1-9 1-4 1 4 1-5 1-2 1 1 1-4 1 5 1-9 1 4 1 16 1-4 1 20 1-21 1 9 1-2 1 0 1 3 1-18 1 2 1-17 1 2 1 3 1 15 1-3 1-1 1 8 1-2 1 10 1 1 1-7 1-5 1-5 1-1 1 2 1-3 1-1 1 4 1 18 1-9 1 24 1-18 1-1 1-6 1-6 1 1 1 6 1-10 1 2 1 2 1 3 1 2 1-1 1 5 1 10 1-16 1-1 1 2 1-2 1-8 1 6 1-6 1 8 1 3 1 0 1-1 1 3 1-7 1-1 1 2 1-5 1 5 1 1 1-1 1 5 1 3 1 8 1-4 1 0 1 1 1 3 1-3 1-2 1 1 1-1 1-1 1-7 1 6 1-14 1 4 1 5 1-5 1 10 1-3 1 3 1-6 1-7 1 10 1 3 1 0 1-1 1 7 1-5 1 2 1-6 1-11 1 5 1-3 1 0 1 7 1 14 1-15 1 4 1-6 1-4 1 3 1-6 1 19 1-14 1 6 1 7 1-11 1 7 1 15 1-6 1-1 1 5 1-10 1-3 1 4 1 2 1-5 1-4 1 4 1-1 1-9 1-4 1 2 1 0 1 0 1 7 1 2 1 1 1-4 1 4 1 4 1-3 1-9 1 3 1-1 1 2 1-6 1 11 1 7 1-17 1 1 1 2 1-9 1-1 1-6 1 13 1 0 1 12 1 6 1 3 1 9 1-8 1-5 1 14 1-19 1-7 1 1 1-7 1 1 1 1 1 0 1 5 1 4 1 10 1 17 1-20 1 1 1-11 1-6 1-2 1 0 1 2 1-1 1 4 1 10 1 2 1 3 1-1 1-7 1-4 1 14 1-14 1 1 1-4 1 6 1-1 1 1 1-7 1 1 1 14 1 18 1 3 1-16 1-7 1-10 1 11 1-6 1 1 1-12 1 13 1-5 1 7 1-9 1-5 1 5 1-13 1 9 1-5 1 6 1 6 1 3 1 1 1 6 1 20 1-15 1-3 1 5 1-6 1-3 1 0 1-5 1 3 1-5 1 8 1 8 1-5 1-2 1 4 1-8 1-1 1-3 1 3 1-1 1 7 1-3 1 6 1-4 1-8 1 1 1-10 1-1 1 3 1-1 1 5 1-6 1 8 1 8 1-6 1 0 1-4 1 3 1-7 1-1 1-11 1 5 1 11 1-5 1 10 1 8 1-9 1-6 1-1 1 4 1 12 1-13 1 3 1-2 1 3 1 5 1-4 1 1 1 1 1-15 1 8 1 4 1-10 1 9 1-2 1 3 1-8 1 12 1-3 1-4 1-2 1 1 1 5 1-1 1 8 1-26 1 26 1 1 1-19 1-12 1 3 1 11 1 8 1-5 1 6 1 2 1 2 1-4 1-8 1 21 1-14 1-9 1-3 1 22 1-25 1 9 1-4 1 6 1 3 1-5 1 3 1 8 1-2 1-3 1 10 1 5 1 1 1-6 1-8 1 19 1-20 1-6 1-6 1 0 1 0 1 9 1 0 1 7 1 4 1-3 1-2 1-5 1-12 1 5 1 7 1-3 1 3 1 4 1-9 1-3 1 10 1 11 1-12 1 1 1-2 1 5 1-1 1-9 1 9 1-7 1 1 1-4 1 7 1-4 1-3 1 9 1-2 1-1 1 2 1 7 1-8 1 0 1-5 1 0 1-7 1 1 1-4 1-2 1 2 1 7 1 2 1-1 1 5 1 2 1-4 1 29 1-17 1-10 1 13 1-6 1-2 1-8 1-1 1 0 1 3 1 7 1-4 1-4 1 3 1 10 1-2 1-10 1 4 1 5 1 3 1 2 1-4 1-2 1 4 1-23 1 0 1 0 1 2 1 13 1-8 1 10 1-2 1 5 1 0 1 5 1-5 1-5 1-4 1 7 1 0 1 1 1-5 1 7 1 4 1-10 1 6 1-8 1 4 1-9 1-3 1 12 1 3 1 1 1-8 1 11 1-6 1 3 1-2 1-3 1-4 1-1 1 1 1-2 1 2 1 1 1-2 1-3 1 5 1-5 1-1 1 8 1-7 1-4 1 0 1 10 1-3 1 7 1 1 1-2 1-2 1 3 1 3 1-2 1 13 1-20 1 3 1-4 1-3 1 4 1 1 1 0 1 14 1-9 1-1 1-2 1 12 1-6 1-4 1-1 1 7 1-6 1-4 1 0 1-4 1 0 1 17 1 11 1-23 1-2 1 3 1 20 1-27 1-5 1 9 1-5 1 3 1 2 1 1 1-1 1-5 1-2 1 8 1-6 1 10 1 13 1-23 1-5 1 4 1 3 1 2 1 0 1-2 1 0 1-2 1-5 1-3 1 3 1-2 1 3 1-8 1 3 1 7 1-5 1 4 1 1 1 2 1-4 1-6 1 8 1 1 1 1 1-5 1 2 1 10 1-5 1-6 1 9 1 1 1 0 1-3 1 1 1-9 1 5 1-1 1-1 1-3 1 5 1 4 1 4 1 1 1-4 1 2 1-1 1 3 1 1 1 1 1 1 1 4 1-2 1 5 1-2 1 4 1 13 1-26 1 0 1-3 1-8 1 4 1 5 1-3 1 8 1-6 1 4 1-3 1 3 1 5 1 1 1-7 1 22 1-25 1 24 1-18 1-10 1-3 1-4 1 15 1-3 1-3 1-2 1-7 1 11 1-8 1 5 1-1 1-6 1 9 1-2 1 10 1 0 1-5 1-1 1-1 1 5 1-3 1 3 1 9 1-10 1-5 1-7 1 2 1-2 1 1 1 0 1 6 1 0 1 6 1-6 1 15 1-14 1-16 1 10 1 0 1-6 1 13 1 16 1-7 1-1 1-11 1 3 1-11 1 7 1 2 1-22 1 4 1 0 1-2 1 8 1 5 1-2 1-1 1 13 1 2 1-4 1 3 1-8 1 11 1-1 1-3 1 4 1-1 1-4 1-4 1 3 1-11 1 6 1 1 1 2 1-3 1 3 1-2 1 4 1 2 1-3 1 6 1-3 1 2 1 19 1-17 1-5 1-2 1-1 1-5 1 0 1 0 1 2 1-1 1 1 1-4 1 2 1-8 1 7 1-2 1 2 1 2 1-3 1 7 1 23 1-24 1-3 1 12 1 0 1-10 1 2 1 1 1 6 1-7 1 2 1-3 1 1 1-6 1 0 1-3 1 8 1-15 1 10 1-4 1 1 1-1 1 2 1 6 1-3 1-1 1-2 1-3 1-4 1-2 1 2 1-6 1 0 1 7 1 1 1 2 1 1 1-3 1 3 1 11 1-10 1 0 1 1 1-7 1 3 1 7 1 0 1 2 1-7 1 5 1-1 1 4 1-6 1 6 1 3 1-2 1 1 1 3 1 3 1-3 1 5 1 7 1-12 1-13 1-3 1 2 1 12 1-12 1-2 1 13 1 1 1 0 1-5 1 2 1 8 1-5 1 21 1-20 1-5 1 1 1-3 1 0 1 21 1-33 1 10 1-14 1 9 1 2 1-1 1 0 1-2 1-2 1-4 1 1 1 19 1 0 1 7 1 0 1-4 1-2 1 4 1-4 1-13 1-7 1 7 1 11 1 0 1-7 1-6 1 26 1-17 1-8 1 3 1 1 1 2 1 5 1-2 1 7 1-3 1-1 1 9 1-6 1-1 1-7 1 1 1-1 1 3 1-2 1 3 1 2 1 4 1 3 1-8 1 5 1-7 1 3 1 4 1-7 1 4 1-13 1 5 1-2 1 0 1 15 1-12 1-1 1-1 1-1 1 6 1 2 1-1 1 3 1 1 1-4 1-10 1-4 1 9 1-8 1 7 1-1 1 8 1 6 1 4 1-1 1 4 1-8 1 8 1-4 1-4 1-4 1-4 1-4 1 7 1-6 1 5 1-1 1 2 1 12 1-10 1 11 1-5 1 0 1-7 1-5 1 2 1-7 1-4 1 6 1 6 1-6 1-2 1 6 1-2 1-1 1-8 1 3 1 6 1-2 1 7 1 14 1 1 1-2 1-5 1 3 1-6 1-18 1 9 1-3 1 1 1-2 1-3 1 8 1-6 1 10 1-7 1-3 1 4 1 3 1-5 1 0 1-8 1 2 1 11 1-3 1-7 1 10 1-6 1 3 1-7 1 8 1-4 1-1 1 3 1 4 1 12 1-8 1 10 1 0 1-4 1-3 1 0 1 1 1-1 1-5 1 1 1 2 1-3 1 8 1-4 1-5 1 6 1-7 1-4 1-2 1 11 1 5 1-5 1-2 1 2 1 4 1-5 1-6 1 8 1-8 1 19 1-26 1 10 1 5 1 2 1 6 1 0 1-1 1-5 1-1 1 0 1-2 1 7 1-13 1 1 1-10 1 1 1 5 1 1 1-1 1 3 1-2 1 4 1 0 1-1 1-4 1 7 1-7 1 0 1-3 1-2 1 8 1-15 1 0 1 5 1 2 1-1 1 2 1-3 1 5 1-6 1-5 1 5 1 3 1-1 1 1 1 18 1-14 1 19 1-27 1-4 1 8 1 1 1-5 1 21 1-18 1 11 1 1 1-7 1 0 1-6 1 1 1-2 1 0 1 8 1 7 1 0 1 0 1 11 1-2 1-10 1 0 1 0 1 1 1-5 1 3 1 2 1 6 1-5 1 26 1-24 1 4 1-6 1-3 1-5 1-7 1 7 1 16 1-21 1 8 1-6 1 10 1-3 1 1 1-7 1 8 1-4 1 4 1-3 1-2 1 6 1 2 1 5 1-7 1-2 1 7 1-11 1 12 1-8 1-3 1-2 1 5 1-5 1 2 1-7 1-3 1 4 1 0 1 4 1 15 1-6 1 3 1-3 1 3 1-4 1 6 1-3 1-4 1 0 1 12 1-3 1-8 1 25 1-25 1-1 1-2 1-3 1 4 1-1 1-3 1 0 1 5 1 0 1 3 1 9 1-1 1-1 1 6 1 20 1-22 1 3 1-10 1 2 1 7 1-19 1-6 1 10 1-1 1 0 1 5 1-4 1 3 1-4 1 1 1-4 1-6 1 7 1-8 1-2 1 8 1 0 1 4 1-1 1 0 1 6 1-7 1 3 1-2 1 1 1-7 1-5 1 7 1-3 1 3 1 1 1 2 1 6 1 10 1 2 1-7 1 16 1-30 1 2 1-1 1 1 1 5 1 4 1-2 1-6 1 2 1 2 1 13 1-19 1-5 1 8 1 12 1-20 1 18 1-15 1 8 1-7 1-3 1 6 1-3 1-3 1-2 1 2 1 15 1-7 1-2 1-5 1-1 1 7 1 5 1-17 1 10 1 5 1-6 1 0 1-4 1 6 1 2 1 1 1 6 1 3 1-2 1 0 1-3 1 2 1 0 1-2 1-5 1-2 1-7 1 5 1-7 1 7 1 9 1-2 1 2 1-5 1-3 1 2 1 0 1-3 1-2 1 0 1 17 1-5 1-3 1 1 1-1 1-3 1 3 1-4 1-3 1 6 1 1 1-10 1 8 1 2 1 8 1-16 1 1 1 3 1-9 1 8 1 5 1-4 1-1 1 8 1-7 1-5 1-6 1 0 1 5 1 2 1-5 1 7 1 2 1-4 1 1 1 4 1-3 1 1 1 0 1 0 1 0 1-6 1 4 1-4 1 7 1 0 1 2 1 4 1-1 1 5 1-5 1 0 1-3 1-1 1-3 1-3 1 3 1-4 1 9 1-6 1 2 1 13 1 0 1-2 1-2 1 2 1-10 1 16 1-14 1-4 1 3 1-3 1 21 1-19 1-6 1 3 1-2 1-4 1-3 1 10 1-3 1 13 1 2 1-3 1 2 1-8 1 8 1-3 1 4 1-4 1-8 1 6 1-2 1-9 1 4 1-7 1 5 1-4 1 8 1 12 1 0 1 2 1-4 1 2 1-3 1-3 1 2 1-5 1 6 1-11 1 9 1-3 1-8 1 10 1-5 1 13 1-1 1-2 1-5 1-6 1 4 1 3 1-6 1 5 1-3 1 20 1-15 1 2 1-5 1-7 1 9 1 5 1-5 1-2 1-1 1-7 1-8 1 8 1-6 1 13 1 19 1-16 1-2 1 4 1-9 1-8 1 22 1-25 1-9 1 11 1-3 1 5 1 1 1 1 1 8 1-3 1 2 1-4 1 5 1-6 1 16 1-8 1-3 1 10 1 11 1-20 1-3 1 2 1 1 1-5 1-1 1 4 1 5 1-3 1-1 1 9 1 22 1-26 1 3 1-2 1-3 1-6 1 12 1-9 1-5 1 8 1 2 1-7 1 7 1 0 1 1 1-3 1-4 1 9 1-2 1-3 1-12 1 6 1 0 1 0 1-4 1-1 1 9 1 8 1-15 1 1 1 12 1 3 1-3 1 1 1 11 1-15 1-1 1-4 1-1 1 6 1 0 1-2 1-2 1 3 1-6 1 1 1-3 1 6 1 13 1-2 1 8 1-6 1 2 1 4 1-4 1-2 1 2 1 0 1 1 1 2 1 3 1 5 1-11 1-5 1 2 1 5 1-7 1 1 1-3 1 5 1-5 1-11 1 1 1-4 1 0 1-2 1 8 1-15 1 5 1 5 1-8 1 6 1-5 1 10 1 4 1-3 1 7 1 4 1 1 1-4 1-2 1 7 1-3 1 3 1 8 1 3 1-2 1 2 1-2 1-2 1-10 1 1 1-5 1-3 1-2 1-2 1 9 1-9 1 1 1-4 1 9 1 1 1-10 1 26 1-23 1 0 1-1 1-9 1 10 1-9 1 4 1 8 1-8 1 4 1 9 1 10 1-14 1-1 1 4 1 5 1 9 1-17 1 0 1 10 1-11 1 6 1-2 1 4 1-3 1 2 1-16 1 4 1 3 1-7 1 24 1-22 1 13 1-9 1-3 1-3 1-2 1 5 1 4 1-7 1-5 1 11 1 6 1 9 1-12 1-3 1 3 1-7 1-3 1-8 1 6 1 0 1-5 1 3 1 4 1 3 1-3 1 0 1 10 1-6 1-4 1 2 1 3 1-11 1-3 1-1 1 4 1 13 1 20 1-8 1 11 1-19 1 2 1-4 1 5 1 1 1-1 1-9 1 4 1-11 1 1 1-2 1 9 1-1 1 4 1-6 1 2 1 3 1-3 1 3 1-11 1 0 1-5 1 3 1 6 1 1 1 6 1-4 1 0 1 5 1 2 1-1 1 2 1-3 1 4 1 1 1-9 1-9 1 1 1-1 1-1 1 7 1-4 1-8 1 2 1 0 1 1 1 8 1-2 1 1 1 15 1 18 1-12 1-4 1-4 1 8 1-13 1-9 1 0 1-5 1 11 1 4 1 1 1 5 1 4 1-10 1-4 1-3 1 1 1-2 1 3 1 8 1 1 1-4 1 10 1-17 1-1 1 4 1-1 1 6 1-7 1 9 1-1 1-1 1-17 1-1 1 3 1 2 1-1 1-7 1 6 1 4 1 5 1-13 1-3 1 6 1-6 1 6 1 9 1-3 1-7 1 11 1-10 1 3 1-8 1-5 1 3 1-4 1-2 1-5 1 15 1 5 1 1 1 5 1-4 1-1 1 14 1 7 1-3 1-2 1 2 1 28 1-27 1 7 1-15 1 2 1 2 1-7 1-2 1-1 1 1 1 5 1-8 1-2 1 1 1-1 1-8 1 4 1 17 1-17 1 9 1 4 1 5 1-10 1 1 1 10 1-24 1 20 1-20 1 3 1-1 1 14 1 0 1-5 1 3 1 11 1-16 1-6 1-6 1 4 1 0 1 6 1 6 1 3 1 7 1-5 1-7 1 0 1 4 1 9 1-4 1 2 1 0 1-14 1 3 1-8 1 9 1-3 1 5 1 9 1-12 1 6 1-5 1 6 1-7 1 4 1 3 1-12 1 14 1-5 1-5 1 22 1-2 1-2 1-9 1 20 1 0 1-6 1-4 1-3 1 0 1 7 1-11 1-3 1 0 1 15 1-17 1-2 1 11 1-11 1-10 1 12 1 2 1-5 1 5 1 1 1 2 1 2 1 0 1-1 1-8 1-5 1 3 1-8 1 17 1-25 1-2 1 8 1 1 1-2 1-3 1-5 1 5 1-3 1 8 1-4 1 23 1-8 1 2 1-7 1 8 1 7 1-4 1-6 1-3 1 3 1-5 1-9 1 7 1 5 1-1 1 2 1-3 1 6 1 2 1-1 1 16 1-8 1 0 1-7 1-4 1 8 1-4 1 1 1-7 1 12 1 14 1-24 1 8 1-9 1 9 1-3 1-2 1 14 1-26 1 11 1-11 1 8 1-1 1-1 1 6 1 2 1-4 1 12 1-13 1 0 1 4 1-5 1 2 1 18 1-3 1-6 1-5 1 1 1 3 1-12 1-1 1-2 1 1 1-5 1 8 1-2 1 4 1 4 1 12 1-16 1-1 1-2 1-8 1-1 1 7 1-5 1-1 1 5 1-1 1 5 1 3 1 6 1-5 1 0 1 4 1-2 1-8 1 2 1-2 1 4 1 5 1-1 1-3 1-5 1 4 1 2 1 2 1-1 1-5 1-8 1 7 1-2 1 0 1 2 1-4 1 1 1 2 1-3 1-8 1 4 1 10 1-2 1 7 1 4 1 12 1 3 1-21 1-4 1-2 1 0 1 1 1 14 1-3 1-3 1-5 1 8 1 7 1-7 1 14 1-12 1-7 1 9 1-1 1-7 1-2 1 7 1 7 1 3 1-2 1-3 1 1 1 5 1-19 1 2 1-7 1 6 1-6 1 2 1 3 1-2 1 10 1-7 1-4 1 18 1-20 1-3 1-6 1 3 1 2 1 0 1 6 1 4 1 16 1-11 1-2 1-8 1 23 1-23 1-1 1 9 1 1 1-2 1 0 1-12 1 7 1 0 1-7 1 6 1 3 1-2 1 6 1-9 1 1 1 6 1 2 1-2 1 2 1-3 1 4 1-5 1 2 1-1 1 1 1 2 1 1 1-6 1-4 1 4 1 22 1-23 1 12 1 0 1 1 1-9 1 6 1-8 1-10 1-2 1-3 1 21 1-13 1 7 1-4 1 9 1-2 1 4 1 0 1-10 1 15 1-1 1-5 1 1 1 8 1 14 1-16 1-6 1 0 1-2 1-6 1 8 1 5 1 3 1-2 1-5 1 1 1-2 1 1 1-5 1-4 1 16 1-24 1 1 1 6 1-4 1 1 1-2 1 22 1-17 1-5 1 0 1 6 1 1 1-6 1 1 1-2 1 7 1 5 1-7 1 5 1 1 1 1 1 0 1-14 1-2 1 4 1-2 1-1 1 2 1 9 1 7 1-7 1-6 1-6 1 4 1 3 1 5 1 4 1-4 1-1 1 3 1 5 1-4 1 1 1 8 1-19 1 6 1-4 1 9 1-2 1-1 1-10 1 1 1-1 1-3 1-5 1-1 1 5 1 0 1 1 1 8 1 1 1-3 1 18 1-16 1 2 1 6 1-2 1 2 1-1 1-5 1-1 1-4 1-11 1 5 1-1 1-3 1 3 1 6 1-2 1 5 1-3 1 7 1 9 1 2 1 0 1-2 1-9 1 0 1 4 1-1 1 5 1 3 1-9 1 5 1-4 1-4 1-6 1 4 1 1 1 4 1-3 1 11 1-6 1 3 1 6 1-5 1 5 1 4 1 0 1-4 1-1 1-4 1 3 1-1 1-3 1 5 1-6 1 9 1-2 1 0 1 3 1 1 1 0 1-4 1 8 1-16 1 5 1-2 1 3 1-2 1-3 1 1 1 19 1-15 1-8 1 2 1-3 1-2 1 5 1 3 1-2 1 3 1 1 1 1 1 13 1-20 1 9 1-9 1-4 1 3 1 2 1-2 1-15 1 6 1-7 1-7 1 6 1 5 1 13 1-3 1-4 1 6 1-3 1 3 1-3 1-1 1 0 1-7 1 28 1-25 1-6 1 7 1-2 1 9 1-3 1-2 1 11 1 2 1-2 1-3 1 5 1 5 1 10 1-16 1 1 1 14 1-5 1-4 1-1 1 21 1-23 1 8 1-13 1 0 1-3 1 8 1 5 1-2 1-4 1-5 1 4 1-3 1 8 1 1 1-1 1 3 1 2 1 2 1-21 1-2 1-4 1 5 1-3 1 1 1 7 1-1 1 2 1 7 1-8 1 2 1 3 1 11 1-26 1-7 1-2 1 2 1-4 1-2 1 12 1-3 1 10 1-2 1 9 1-1 1-8 1 1 1 0 1-7 1-6 1 10 1 8 1-4 1-8 1 15 1 0 1 0 1-5 1 9 1-12" fill="none" stroke="#888" stroke-width="2.85" stroke-opacity="0.22" stroke-linejoin="round" vector-effect="non-scaling-stroke"/>
<path transform="translate(92.1,180.2) scale(0.25,0.1)" d="M0 6l1-13 1-3 1 4 1 1 1-3 1-2 1 4 1-5 1 0 1 5 1 0 1 0 1 5 1 4 1-1 1 2 1-1 1-1 1 4 1-4 1 1 1 13 1-18 1 2 1 4 1 6 1-10 1-1 1-5 1 1 1 4 1 3 1-7 1 25 1-19 1-5 1 3 1 12 1-3 1-4 1 11 1-8 1-10 1-5 1-3 1 6 1 3 1-6 1 18 1-1 1-5 1-8 1 2 1-2 1 18 1-33 1 13 1 4 1-9 1-1 1 6 1 3 1-5 1 2 1 1 1 22 1-10 1-3 1 4 1-6 1 3 1-9 1-4 1 4 1-5 1-2 1 1 1-4 1 5 1-9 1 4 1 16 1-4 1 20 1-21 1 9 1-2 1 0 1 3 1-18 1 2 1-17 1 2 1 3 1 15 1-3 1-1 1 8 1-2 1 10 1 1 1-7 1-5 1-5 1-1 1 2 1-3 1-1 1 4 1 18 1-9 1 24 1-18 1-1 1-6 1-6 1 1 1 6 1-10 1 2 1 2 1 3 1 2 1-1 1 5 1 10 1-16 1-1 1 2 1-2 1-8 1 6 1-6 1 8 1 3 1 0 1-1 1 3 1-7 1-1 1 2 1-5 1 5 1 1 1-1 1 5 1 3 1 8 1-4 1 0 1 1 1 3 1-3 1-2 1 1 1-1 1-1 1-7 1 6 1-14 1 4 1 5 1-5 1 10 1-3 1 3 1-6 1-7 1 10 1 3 1 0 1-1 1 7 1-5 1 2 1-6 1-11 1 5 1-3 1 0 1 7 1 14 1-15 1 4 1-6 1-4 1 3 1-6 1 19 1-14 1 6 1 7 1-11 1 7 1 15 1-6 1-1 1 5 1-10 1-3 1 4 1 2 1-5 1-4 1 4 1-1 1-9 1-4 1 2 1 0 1 0 1 7 1 2 1 1 1-4 1 4 1 4 1-3 1-9 1 3 1-1 1 2 1-6 1 11 1 7 1-17 1 1 1 2 1-9 1-1 1-6 1 13 1 0 1 12 1 6 1 3 1 9 1-8 1-5 1 14 1-19 1-7 1 1 1-7 1 1 1 1 1 0 1 5 1 4 1 10 1 17 1-20 1 1 1-11 1-6 1-2 1 0 1 2 1-1 1 4 1 10 1 2 1 3 1-1 1-7 1-4 1 14 1-14 1 1 1-4 1 6 1-1 1 1 1-7 1 1 1 14 1 18 1 3 1-16 1-7 1-10 1 11 1-6 1 1 1-12 1 13 1-5 1 7 1-9 1-5 1 5 1-13 1 9 1-5 1 6 1 6 1 3 1 1 1 6 1 20 1-15 1-3 1 5 1-6 1-3 1 0 1-5 1 3 1-5 1 8 1 8 1-5 1-2 1 4 1-8 1-1 1-3 1 3 1-1 1 7 1-3 1 6 1-4 1-8 1 1 1-10 1-1 1 3 1-1 1 5 1-6 1 8 1 8 1-6 1 0 1-4 1 3 1-7 1-1 1-11 1 5 1 11 1-5 1 10 1 8 1-9 1-6 1-1 1 4 1 12 1-13 1 3 1-2 1 3 1 5 1-4 1 1 1 1 1-15 1 8 1 4 1-10 1 9 1-2 1 3 1-8 1 12 1-3 1-4 1-2 1 1 1 5 1-1 1 8 1-26 1 26 1 1 1-19 1-12 1 3 1 11 1 8 1-5 1 6 1 2 1 2 1-4 1-8 1 21 1-14 1-9 1-3 1 22 1-25 1 9 1-4 1 6 1 3 1-5 1 3 1 8 1-2 1-3 1 10 1 5 1 1 1-6 1-8 1 19 1-20 1-6 1-6 1 0 1 0 1 9 1 0 1 7 1 4 1-3 1-2 1-5 1-12 1 5 1 7 1-3 1 3 1 4 1-9 1-3 1 10 1 11 1-12 1 1 1-2 1 5 1-1 1-9 1 9 1-7 1 1 1-4 1 7 1-4 1-3 1 9 1-2 1-1 1 2 1 7 1-8 1 0 1-5 1 0 1-7 1 1 1-4 1-2 1 2 1 7 1 2 1-1 1 5 1 2 1-4 1 29 1-17 1-10 1 13 1-6 1-2 1-8 1-1 1 0 1 3 1 7 1-4 1-4 1 3 1 10 1-2 1-10 1 4 1 5 1 3 1 2 1-4 1-2 1 4 1-23 1 0 1 0 1 2 1 13 1-8 1 10 1-2 1 5 1 0 1 5 1-5 1-5 1-4 1 7 1 0 1 1 1-5 1 7 1 4 1-10 1 6 1-8 1 4 1-9 1-3 1 12 1 3 1 1 1-8 1 11 1-6 1 3 1-2 1-3 1-4 1-1 1 1 1-2 1 2 1 1 1-2 1-3 1 5 1-5 1-1 1 8 1-7 1-4 1 0 1 10 1-3 1 7 1 1 1-2 1-2 1 3 1 3 1-2 1 13 1-20 1 3 1-4 1-3 1 4 1 1 1 0 1 14 1-9 1-1 1-2 1 12 1-6 1-4 1-1 1 7 1-6 1-4 1 0 1-4 1 0 1 17 1 11 1-23 1-2 1 3 1 20 1-27 1-5 1 9 1-5 1 3 1 2 1 1 1-1 1-5 1-2 1 8 1-6 1 10 1 13 1-23 1-5 1 4 1 3 1 2 1 0 1-2 1 0 1-2 1-5 1-3 1 3 1-2 1 3 1-8 1 3 1 7 1-5 1 4 1 1 1 2 1-4 1-6 1 8 1 1 1 1 1-5 1 2 1 10 1-5 1-6 1 9 1 1 1 0 1-3 1 1 1-9 1 5 1-1 1-1 1-3 1 5 1 4 1 4 1 1 1-4 1 2 1-1 1 3 1 1 1 1 1 1 1 4 1-2 1 5 1-2 1 4 1 13 1-26 1 0 1-3 1-8 1 4 1 5 1-3 1 8 1-6 1 4 1-3 1 3 1 5 1 1 1-7 1 22 1-25 1 24 1-18 1-10 1-3 1-4 1 15 1-3 1-3 1-2 1-7 1 11 1-8 1 5 1-1 1-6 1 9 1-2 1 10 1 0 1-5 1-1 1-1 1 5 1-3 1 3 1 9 1-10 1-5 1-7 1 2 1-2 1 1 1 0 1 6 1 0 1 6 1-6 1 15 1-14 1-16 1 10 1 0 1-6 1 13 1 16 1-7 1-1 1-11 1 3 1-11 1 7 1 2 1-22 1 4 1 0 1-2 1 8 1 5 1-2 1-1 1 13 1 2 1-4 1 3 1-8 1 11 1-1 1-3 1 4 1-1 1-4 1-4 1 3 1-11 1 6 1 1 1 2 1-3 1 3 1-2 1 4 1 2 1-3 1 6 1-3 1 2 1 19 1-17 1-5 1-2 1-1 1-5 1 0 1 0 1 2 1-1 1 1 1-4 1 2 1-8 1 7 1-2 1 2 1 2 1-3 1 7 1 23 1-24 1-3 1 12 1 0 1-10 1 2 1 1 1 6 1-7 1 2 1-3 1 1 1-6 1 0 1-3 1 8 1-15 1 10 1-4 1 1 1-1 1 2 1 6 1-3 1-1 1-2 1-3 1-4 1-2 1 2 1-6 1 0 1 7 1 1 1 2 1 1 1-3 1 3 1 11 1-10 1 0 1 1 1-7 1 3 1 7 1 0 1 2 1-7 1 5 1-1 1 4 1-6 1 6 1 3 1-2 1 1 1 3 1 3 1-3 1 5 1 7 1-12 1-13 1-3 1 2 1 12 1-12 1-2 1 13 1 1 1 0 1-5 1 2 1 8 1-5 1 21 1-20 1-5 1 1 1-3 1 0 1 21 1-33 1 10 1-14 1 9 1 2 1-1 1 0 1-2 1-2 1-4 1 1 1 19 1 0 1 7 1 0 1-4 1-2 1 4 1-4 1-13 1-7 1 7 1 11 1 0 1-7 1-6 1 26 1-17 1-8 1 3 1 1 1 2 1 5 1-2 1 7 1-3 1-1 1 9 1-6 1-1 1-7 1 1 1-1 1 3 1-2 1 3 1 2 1 4 1 3 1-8 1 5 1-7 1 3 1 4 1-7 1 4 1-13 1 5 1-2 1 0 1 15 1-12 1-1 1-1 1-1 1 6 1 2 1-1 1 3 1 1 1-4 1-10 1-4 1 9 1-8 1 7 1-1 1 8 1 6 1 4 1-1 1 4 1-8 1 8 1-4 1-4 1-4 1-4 1-4 1 7 1-6 1 5 1-1 1 2 1 12 1-10 1 11 1-5 1 0 1-7 1-5 1 2 1-7 1-4 1 6 1 6 1-6 1-2 1 6 1-2 1-1 1-8 1 3 1 6 1-2 1 7 1 14 1 1 1-2 1-5 1 3 1-6 1-18 1 9 1-3 1 1 1-2 1-3 1 8 1-6 1 10 1-7 1-3 1 4 1 3 1-5 1 0 1-8 1 2 1 11 1-3 1-7 1 10 1-6 1 3 1-7 1 8 1-4 1-1 1 3 1 4 1 12 1-8 1 10 1 0 1-4 1-3 1 0 1 1 1-1 1-5 1 1 1 2 1-3 1 8 1-4 1-5 1 6 1-7 1-4 1-2 1 11 1 5 1-5 1-2 1 2 1 4 1-5 1-6 1 8 1-8 1 19 1-26 1 10 1 5 1 2 1 6 1 0 1-1 1-5 1-1 1 0 1-2 1 7 1-13 1 1 1-10 1 1 1 5 1 1 1-1 1 3 1-2 1 4 1 0 1-1 1-4 1 7 1-7 1 0 1-3 1-2 1 8 1-15 1 0 1 5 1 2 1-1 1 2 1-3 1 5 1-6 1-5 1 5 1 3 1-1 1 1 1 18 1-14 1 19 1-27 1-4 1 8 1 1 1-5 1 21 1-18 1 11 1 1 1-7 1 0 1-6 1 1 1-2 1 0 1 8 1 7 1 0 1 0 1 11 1-2 1-10 1 0 1 0 1 1 1-5 1 3 1 2 1 6 1-5 1 26 1-24 1 4 1-6 1-3 1-5 1-7 1 7 1 16 1-21 1 8 1-6 1 10 1-3 1 1 1-7 1 8 1-4 1 4 1-3 1-2 1 6 1 2 1 5 1-7 1-2 1 7 1-11 1 12 1-8 1-3 1-2 1 5 1-5 1 2 1-7 1-3 1 4 1 0 1 4 1 15 1-6 1 3 1-3 1 3 1-4 1 6 1-3 1-4 1 0 1 12 1-3 1-8 1 25 1-25 1-1 1-2 1-3 1 4 1-1 1-3 1 0 1 5 1 0 1 3 1 9 1-1 1-1 1 6 1 20 1-22 1 3 1-10 1 2 1 7 1-19 1-6 1 10 1-1 1 0 1 5 1-4 1 3 1-4 1 1 1-4 1-6 1 7 1-8 1-2 1 8 1 0 1 4 1-1 1 0 1 6 1-7 1 3 1-2 1 1 1-7 1-5 1 7 1-3 1 3 1 1 1 2 1 6 1 10 1 2 1-7 1 16 1-30 1 2 1-1 1 1 1 5 1 4 1-2 1-6 1 2 1 2 1 13 1-19 1-5 1 8 1 12 1-20 1 18 1-15 1 8 1-7 1-3 1 6 1-3 1-3 1-2 1 2 1 15 1-7 1-2 1-5 1-1 1 7 1 5 1-17 1 10 1 5 1-6 1 0 1-4 1 6 1 2 1 1 1 6 1 3 1-2 1 0 1-3 1 2 1 0 1-2 1-5 1-2 1-7 1 5 1-7 1 7 1 9 1-2 1 2 1-5 1-3 1 2 1 0 1-3 1-2 1 0 1 17 1-5 1-3 1 1 1-1 1-3 1 3 1-4 1-3 1 6 1 1 1-10 1 8 1 2 1 8 1-16 1 1 1 3 1-9 1 8 1 5 1-4 1-1 1 8 1-7 1-5 1-6 1 0 1 5 1 2 1-5 1 7 1 2 1-4 1 1 1 4 1-3 1 1 1 0 1 0 1 0 1-6 1 4 1-4 1 7 1 0 1 2 1 4 1-1 1 5 1-5 1 0 1-3 1-1 1-3 1-3 1 3 1-4 1 9 1-6 1 2 1 13 1 0 1-2 1-2 1 2 1-10 1 16 1-14 1-4 1 3 1-3 1 21 1-19 1-6 1 3 1-2 1-4 1-3 1 10 1-3 1 13 1 2 1-3 1 2 1-8 1 8 1-3 1 4 1-4 1-8 1 6 1-2 1-9 1 4 1-7 1 5 1-4 1 8 1 12 1 0 1 2 1-4 1 2 1-3 1-3 1 2 1-5 1 6 1-11 1 9 1-3 1-8 1 10 1-5 1 13 1-1 1-2 1-5 1-6 1 4 1 3 1-6 1 5 1-3 1 20 1-15 1 2 1-5 1-7 1 9 1 5 1-5 1-2 1-1 1-7 1-8 1 8 1-6 1 13 1 19 1-16 1-2 1 4 1-9 1-8 1 22 1-25 1-9 1 11 1-3 1 5 1 1 1 1 1 8 1-3 1 2 1-4 1 5 1-6 1 16 1-8 1-3 1 10 1 11 1-20 1-3 1 2 1 1 1-5 1-1 1 4 1 5 1-3 1-1 1 9 1 22 1-26 1 3 1-2 1-3 1-6 1 12 1-9 1-5 1 8 1 2 1-7 1 7 1 0 1 1 1-3 1-4 1 9 1-2 1-3 1-12 1 6 1 0 1 0 1-4 1-1 1 9 1 8 1-15 1 1 1 12 1 3 1-3 1 1 1 11 1-15 1-1 1-4 1-1 1 6 1 0 1-2 1-2 1 3 1-6 1 1 1-3 1 6 1 13 1-2 1 8 1-6 1 2 1 4 1-4 1-2 1 2 1 0 1 1 1 2 1 3 1 5 1-11 1-5 1 2 1 5 1-7 1 1 1-3 1 5 1-5 1-11 1 1 1-4 1 0 1-2 1 8 1-15 1 5 1 5 1-8 1 6 1-5 1 10 1 4 1-3 1 7 1 4 1 1 1-4 1-2 1 7 1-3 1 3 1 8 1 3 1-2 1 2 1-2 1-2 1-10 1 1 1-5 1-3 1-2 1-2 1 9 1-9 1 1 1-4 1 9 1 1 1-10 1 26 1-23 1 0 1-1 1-9 1 10 1-9 1 4 1 8 1-8 1 4 1 9 1 10 1-14 1-1 1 4 1 5 1 9 1-17 1 0 1 10 1-11 1 6 1-2 1 4 1-3 1 2 1-16 1 4 1 3 1-7 1 24 1-22 1 13 1-9 1-3 1-3 1-2 1 5 1 4 1-7 1-5 1 11 1 6 1 9 1-12 1-3 1 3 1-7 1-3 1-8 1 6 1 0 1-5 1 3 1 4 1 3 1-3 1 0 1 10 1-6 1-4 1 2 1 3 1-11 1-3 1-1 1 4 1 13 1 20 1-8 1 11 1-19 1 2 1-4 1 5 1 1 1-1 1-9 1 4 1-11 1 1 1-2 1 9 1-1 1 4 1-6 1 2 1 3 1-3 1 3 1-11 1 0 1-5 1 3 1 6 1 1 1 6 1-4 1 0 1 5 1 2 1-1 1 2 1-3 1 4 1 1 1-9 1-9 1 1 1-1 1-1 1 7 1-4 1-8 1 2 1 0 1 1 1 8 1-2 1 1 1 15 1 18 1-12 1-4 1-4 1 8 1-13 1-9 1 0 1-5 1 11 1 4 1 1 1 5 1 4 1-10 1-4 1-3 1 1 1-2 1 3 1 8 1 1 1-4 1 10 1-17 1-1 1 4 1-1 1 6 1-7 1 9 1-1 1-1 1-17 1-1 1 3 1 2 1-1 1-7 1 6 1 4 1 5 1-13 1-3 1 6 1-6 1 6 1 9 1-3 1-7 1 11 1-10 1 3 1-8 1-5 1 3 1-4 1-2 1-5 1 15 1 5 1 1 1 5 1-4 1-1 1 14 1 7 1-3 1-2 1 2 1 28 1-27 1 7 1-15 1 2 1 2 1-7 1-2 1-1 1 1 1 5 1-8 1-2 1 1 1-1 1-8 1 4 1 17 1-17 1 9 1 4 1 5 1-10 1 1 1 10 1-24 1 20 1-20 1 3 1-1 1 14 1 0 1-5 1 3 1 11 1-16 1-6 1-6 1 4 1 0 1 6 1 6 1 3 1 7 1-5 1-7 1 0 1 4 1 9 1-4 1 2 1 0 1-14 1 3 1-8 1 9 1-3 1 5 1 9 1-12 1 6 1-5 1 6 1-7 1 4 1 3 1-12 1 14 1-5 1-5 1 22 1-2 1-2 1-9 1 20 1 0 1-6 1-4 1-3 1 0 1 7 1-11 1-3 1 0 1 15 1-17 1-2 1 11 1-11 1-10 1 12 1 2 1-5 1 5 1 1 1 2 1 2 1 0 1-1 1-8 1-5 1 3 1-8 1 17 1-25 1-2 1 8 1 1 1-2 1-3 1-5 1 5 1-3 1 8 1-4 1 23 1-8 1 2 1-7 1 8 1 7 1-4 1-6 1-3 1 3 1-5 1-9 1 7 1 5 1-1 1 2 1-3 1 6 1 2 1-1 1 16 1-8 1 0 1-7 1-4 1 8 1-4 1 1 1-7 1 12 1 14 1-24 1 8 1-9 1 9 1-3 1-2 1 14 1-26 1 11 1-11 1 8 1-1 1-1 1 6 1 2 1-4 1 12 1-13 1 0 1 4 1-5 1 2 1 18 1-3 1-6 1-5 1 1 1 3 1-12 1-1 1-2 1 1 1-5 1 8 1-2 1 4 1 4 1 12 1-16 1-1 1-2 1-8 1-1 1 7 1-5 1-1 1 5 1-1 1 5 1 3 1 6 1-5 1 0 1 4 1-2 1-8 1 2 1-2 1 4 1 5 1-1 1-3 1-5 1 4 1 2 1 2 1-1 1-5 1-8 1 7 1-2 1 0 1 2 1-4 1 1 1 2 1-3 1-8 1 4 1 10 1-2 1 7 1 4 1 12 1 3 1-21 1-4 1-2 1 0 1 1 1 14 1-3 1-3 1-5 1 8 1 7 1-7 1 14 1-12 1-7 1 9 1-1 1-7 1-2 1 7 1 7 1 3 1-2 1-3 1 1 1 5 1-19 1 2 1-7 1 6 1-6 1 2 1 3 1-2 1 10 1-7 1-4 1 18 1-20 1-3 1-6 1 3 1 2 1 0 1 6 1 4 1 16 1-11 1-2 1-8 1 23 1-23 1-1 1 9 1 1 1-2 1 0 1-12 1 7 1 0 1-7 1 6 1 3 1-2 1 6 1-9 1 1 1 6 1 2 1-2 1 2 1-3 1 4 1-5 1 2 1-1 1 1 1 2 1 1 1-6 1-4 1 4 1 22 1-23 1 12 1 0 1 1 1-9 1 6 1-8 1-10 1-2 1-3 1 21 1-13 1 7 1-4 1 9 1-2 1 4 1 0 1-10 1 15 1-1 1-5 1 1 1 8 1 14 1-16 1-6 1 0 1-2 1-6 1 8 1 5 1 3 1-2 1-5 1 1 1-2 1 1 1-5 1-4 1 16 1-24 1 1 1 6 1-4 1 1 1-2 1 22 1-17 1-5 1 0 1 6 1 1 1-6 1 1 1-2 1 7 1 5 1-7 1 5 1 1 1 1 1 0 1-14 1-2 1 4 1-2 1-1 1 2 1 9 1 7 1-7 1-6 1-6 1 4 1 3 1 5 1 4 1-4 1-1 1 3 1 5 1-4 1 1 1 8 1-19 1 6 1-4 1 9 1-2 1-1 1-10 1 1 1-1 1-3 1-5 1-1 1 5 1 0 1 1 1 8 1 1 1-3 1 18 1-16 1 2 1 6 1-2 1 2 1-1 1-5 1-1 1-4 1-11 1 5 1-1 1-3 1 3 1 6 1-2 1 5 1-3 1 7 1 9 1 2 1 0 1-2 1-9 1 0 1 4 1-1 1 5 1 3 1-9 1 5 1-4 1-4 1-6 1 4 1 1 1 4 1-3 1 11 1-6 1 3 1 6 1-5 1 5 1 4 1 0 1-4 1-1 1-4 1 3 1-1 1-3 1 5 1-6 1 9 1-2 1 0 1 3 1 1 1 0 1-4 1 8 1-16 1 5 1-2 1 3 1-2 1-3 1 1 1 19 1-15 1-8 1 2 1-3 1-2 1 5 1 3 1-2 1 3 1 1 1 1 1 13 1-20 1 9 1-9 1-4 1 3 1 2 1-2 1-15 1 6 1-7 1-7 1 6 1 5 1 13 1-3 1-4 1 6 1-3 1 3 1-3 1-1 1 0 1-7 1 28 1-25 1-6 1 7 1-2 1 9 1-3 1-2 1 11 1 2 1-2 1-3 1 5 1 5 1 10 1-16 1 1 1 14 1-5 1-4 1-1 1 21 1-23 1 8 1-13 1 0 1-3 1 8 1 5 1-2 1-4 1-5 1 4 1-3 1 8 1 1 1-1 1 3 1 2 1 2 1-21 1-2 1-4 1 5 1-3 1 1 1 7 1-1 1 2 1 7 1-8 1 2 1 3 1 11 1-26 1-7 1-2 1 2 1-4 1-2 1 12 1-3 1 10 1-2 1 9 1-1 1-8 1 1 1 0 1-7 1-6 1 10 1 8 1-4 1-8 1 15 1 0 1 0 1-5 1 9 1-12" fill="none" stroke="#2a2a2a" stroke-width="1.25" stroke-linejoin="round" vector-effect="non-scaling-stroke"/>
<path d="M111.20 180.20 L111.30 201.80 L111.50 186.68 L111.85 182.36 L112.60 180.60 M170.40 180.20 L170.50 196.50 L170.70 185.09 L171.05 181.83 L171.80 180.60 M233.90 180.20 L234.00 193.80 L234.20 184.28 L234.55 181.56 L235.30 180.60 M244.00 180.20 L244.10 193.00 L244.30 184.04 L244.65 181.48 L245.40 180.60 M301.80 180.20 L301.90 203.70 L302.10 187.25 L302.45 182.55 L303.20 180.60 M337.20 180.20 L337.30 199.10 L337.50 185.87 L337.85 182.09 L338.60 180.60 M386.60 180.20 L386.70 202.30 L386.90 186.83 L387.25 182.41 L388.00 180.60 M391.90 180.20 L392.00 187.70 L392.20 182.45 L392.55 180.95 L393.30 180.60 M447.40 180.20 L447.50 187.70 L447.70 182.45 L448.05 180.95 L448.80 180.60 M529.70 180.20 L529.80 195.70 L530.00 184.85 L530.35 181.75 L531.10 180.60 M550.60 180.20 L550.70 193.20 L550.90 184.10 L551.25 181.50 L552.00 180.60 M559.50 180.20 L559.60 188.00 L559.80 182.54 L560.15 180.98 L560.90 180.60 M601.20 180.20 L601.30 190.00 L601.50 183.14 L601.85 181.18 L602.60 180.60 M606.40 180.20 L606.50 194.00 L606.70 184.34 L607.05 181.58 L607.80 180.60 M648.40 180.20 L648.50 208.00 L648.70 188.54 L649.05 182.98 L649.80 180.60 M666.20 180.20 L666.30 191.00 L666.50 183.44 L666.85 181.28 L667.60 180.60 " fill="none" stroke="#7c7c7c" stroke-width="0.8" stroke-linejoin="round"/>
<path d="M111.35 180.70 V188.84 M170.55 180.70 V186.72 M234.05 180.70 V185.64 M244.15 180.70 V185.32 M301.95 180.70 V189.60 M337.35 180.70 V187.76 M386.75 180.70 V189.04 M392.05 180.70 V183.20 M447.55 180.70 V183.20 M529.85 180.70 V186.40 M550.75 180.70 V185.40 M559.65 180.70 V183.32 M601.35 180.70 V184.12 M606.55 180.70 V185.72 M648.55 180.70 V191.32 M666.35 180.70 V184.52 " fill="none" stroke="#5a5a5a" stroke-width="0.9"/>
<path transform="translate(93.2,232.6) scale(0.25,0.1)" d="M0 -2l1-5 1-3 1 5 1-3 1 0 1 3 1 9 1 2 1-3 1-2 1 1 1-2 1-1 1-13 1 1 1-5 1 7 1-4 1 3 1-8 1 5 1 5 1 3 1 9 1 15 1-17 1 1 1-4 1 3 1-1 1 4 1-3 1 6 1-4 1 11 1-18 1-9 1-6 1 6 1 13 1-11 1 15 1-7 1 1 1 7 1 0 1-3 1 0 1-1 1-4 1 2 1 0 1-6 1 10 1-7 1 5 1 1 1-2 1 1 1-1 1-3 1 2 1 2 1-5 1 1 1 7 1-9 1 7 1-6 1 6 1 0 1 4 1-2 1-2 1-3 1-5 1 7 1-8 1 0 1 0 1 8 1 1 1-6 1-5 1-1 1-1 1-4 1 1 1-4 1 3 1 30 1-24 1 8 1 3 1 11 1-13 1-1 1-3 1-2 1 1 1 7 1 3 1 0 1 2 1-5 1-3 1 3 1 2 1-13 1 0 1 7 1 8 1-29 1 5 1 3 1 9 1-5 1 5 1 9 1 6 1-6 1 1 1 0 1 8 1-8 1 7 1 4 1-12 1-1 1 1 1-2 1 4 1-1 1-2 1-2 1 6 1-5 1-4 1-2 1 2 1 4 1-5 1 3 1-1 1-6 1 3 1 1 1-5 1 21 1-11 1-3 1 5 1-12 1 9 1-12 1 0 1 1 1-3 1 5 1-4 1 9 1 8 1 5 1-8 1 10 1-9 1-2 1-5 1-8 1-4 1-10 1 8 1-2 1 2 1 3 1 6 1-2 1-1 1 7 1 1 1 7 1 0 1 2 1-1 1 0 1-7 1-1 1-2 1 2 1 7 1 3 1-4 1-4 1-3 1-3 1 5 1 5 1 5 1-11 1 8 1-4 1-1 1-1 1-3 1 2 1-4 1 9 1-4 1-3 1 4 1 2 1-1 1 6 1 1 1-13 1-2 1 2 1-3 1 2 1 0 1 18 1 2 1-1 1-6 1-7 1 6 1-2 1-12 1-2 1-2 1 2 1 6 1-4 1 6 1-11 1 7 1 11 1-6 1 8 1-5 1 5 1 1 1-1 1-9 1 5 1-3 1 0 1 7 1-3 1 9 1-5 1-4 1 3 1 0 1-1 1 1 1-5 1 1 1 2 1 6 1 7 1-3 1 1 1 28 1-27 1-14 1 5 1-5 1 0 1-2 1-3 1 3 1 2 1-2 1 3 1-1 1 22 1-14 1-1 1-9 1 8 1-6 1 1 1-8 1-5 1-1 1 3 1 19 1-17 1 1 1 3 1-13 1 5 1-3 1 0 1 2 1 4 1-10 1 10 1-8 1-3 1 14 1 0 1 24 1-20 1 7 1-1 1-9 1 3 1-6 1 0 1 0 1 5 1 10 1-7 1 9 1 1 1 2 1-5 1 1 1 1 1 8 1-4 1 1 1 0 1 9 1 4 1-24 1 5 1-8 1-8 1-7 1 8 1 1 1-2 1 2 1 8 1-7 1-1 1-10 1 10 1 4 1 24 1-24 1-2 1 6 1-9 1 6 1 11 1 8 1-8 1-5 1 6 1-14 1 4 1-5 1 10 1-7 1 3 1 2 1-13 1 9 1 24 1-28 1 8 1 16 1-15 1-1 1-3 1 3 1-9 1-2 1 4 1 2 1 11 1-3 1 0 1-4 1 7 1-2 1-6 1-2 1 15 1-16 1-6 1 5 1-2 1 7 1-4 1-1 1-1 1 2 1-6 1 1 1-3 1 7 1 7 1 7 1-1 1-2 1 1 1 6 1-4 1-9 1 4 1 6 1-3 1 2 1-6 1 13 1-6 1 3 1-9 1-8 1 10 1-6 1 8 1-4 1-1 1 6 1-7 1-4 1 0 1 0 1-8 1-9 1 14 1-9 1-10 1 10 1-2 1 11 1-1 1 9 1 2 1 4 1-4 1-1 1 0 1-6 1 0 1-4 1 6 1 0 1 2 1-6 1 7 1 2 1-9 1-2 1 1 1 3 1-6 1 18 1-11 1 4 1 2 1 0 1 4 1 1 1 1 1-6 1-8 1 5 1 4 1-5 1 6 1 2 1-6 1 3 1-5 1 6 1-5 1-9 1 5 1-6 1 0 1 1 1-1 1 2 1-5 1 3 1 2 1 0 1 0 1 11 1 4 1-14 1 0 1 1 1-2 1-3 1-1 1 3 1 6 1 2 1 1 1-2 1-6 1-3 1 0 1 5 1 6 1-3 1 1 1 4 1-2 1 0 1-4 1 6 1 4 1-6 1 13 1-13 1 12 1-9 1-3 1 2 1-1 1 5 1 3 1-10 1 9 1 12 1-21 1-2 1-8 1 5 1-2 1 11 1-8 1 5 1 9 1-7 1 1 1-1 1 7 1-3 1 5 1-12 1 4 1 10 1-6 1-4 1-1 1 9 1-10 1 3 1-4 1 11 1 2 1 0 1-4 1-2 1 13 1-21 1-8 1 2 1 0 1 28 1-26 1 5 1-3 1-5 1 9 1-3 1 17 1-10 1 4 1 4 1-5 1-5 1-8 1-5 1-4 1 2 1-3 1-4 1-2 1 5 1-2 1 1 1 5 1 6 1 2 1-4 1 3 1-8 1 5 1 6 1-2 1 3 1-1 1 25 1-19 1-8 1 9 1-4 1-5 1 1 1-5 1 6 1-6 1-7 1-9 1 15 1 0 1 5 1 0 1 7 1 6 1-10 1 15 1-16 1 2 1 8 1 1 1-18 1 1 1 14 1-17 1 7 1 3 1 5 1 3 1 4 1-6 1 1 1-3 1-7 1 6 1 6 1-8 1-4 1-9 1-2 1-5 1-4 1 5 1 3 1 3 1 10 1-4 1-4 1-1 1 4 1-3 1 0 1 29 1-22 1-2 1 2 1 1 1 3 1 5 1-13 1 4 1-2 1 1 1-1 1 3 1 9 1-8 1-6 1 0 1 2 1-1 1-1 1-3 1-2 1 2 1 8 1 1 1-4 1 4 1-3 1 4 1-4 1 4 1-5 1-1 1-10 1 5 1-4 1-1 1 13 1-19 1 13 1-5 1 3 1 5 1 11 1-9 1-5 1 1 1 6 1-13 1-4 1 3 1 7 1 1 1 1 1 9 1-13 1 0 1-5 1 5 1-5 1-2 1 5 1 3 1 1 1-1 1 5 1 1 1-7 1 3 1-4 1-10 1 4 1 5 1 5 1-5 1 5 1 4 1 3 1-1 1-7 1-5 1 8 1-5 1 2 1 4 1 1 1 8 1 5 1-6 1-2 1 1 1 3 1-1 1 10 1-4 1-3 1 0 1-2 1-4 1-1 1-9 1 12 1 0 1-2 1 7 1-7 1-1 1 2 1-4 1-1 1 3 1-6 1-4 1 16 1-16 1-9 1-1 1 13 1 1 1-4 1 5 1-4 1 7 1-3 1 0 1-1 1-2 1 11 1-9 1-3 1 8 1-4 1-1 1 7 1-8 1-2 1 3 1 7 1 4 1-4 1 3 1 3 1-4 1-8 1-1 1 0 1-6 1 8 1-4 1-1 1 10 1-3 1 1 1 1 1 4 1 0 1 0 1-8 1 2 1-3 1 0 1 0 1-5 1 10 1-7 1-3 1 16 1-10 1 0 1 5 1 4 1-8 1-5 1 1 1-3 1 1 1-7 1 11 1-1 1-8 1 10 1-5 1 6 1 2 1 1 1-3 1-2 1 10 1-4 1-1 1-15 1 0 1 21 1-19 1-1 1 2 1 2 1-4 1 0 1 6 1 22 1-27 1 3 1 4 1 2 1 1 1 5 1-6 1-1 1-4 1 1 1 12 1-10 1 24 1-22 1-6 1-4 1 9 1-1 1 4 1 2 1 4 1 7 1-3 1 2 1-5 1 12 1-16 1 1 1 0 1-3 1-14 1 4 1 8 1-3 1-2 1 0 1-4 1 10 1-3 1-7 1 7 1-5 1 2 1-2 1-1 1 1 1 5 1 3 1 7 1-8 1 6 1 0 1-1 1-2 1-2 1 2 1-8 1 8 1-5 1-3 1 6 1 7 1 0 1-4 1-4 1-1 1-4 1-5 1 5 1-6 1 22 1-19 1 0 1 4 1-1 1-2 1 11 1-8 1 3 1 29 1-26 1-1 1-5 1 4 1 5 1-3 1 17 1-16 1 0 1-1 1-7 1 11 1-11 1-7 1 7 1 6 1 5 1-6 1 6 1-1 1-6 1-2 1 1 1 1 1-6 1 9 1 7 1 0 1 11 1-2 1-2 1-8 1-6 1-4 1-4 1-8 1 2 1-7 1 11 1 4 1 0 1 0 1 0 1 2 1-3 1 3 1 0 1-12 1 4 1 6 1 2 1-3 1-14 1 5 1 3 1 5 1-2 1 6 1-2 1 12 1 1 1-4 1 15 1-17 1-2 1-6 1 1 1 1 1-7 1 5 1 2 1 10 1-3 1-6 1 11 1-9 1 1 1-6 1 13 1-14 1 0 1 4 1-9 1-2 1 11 1-7 1 6 1-3 1 11 1 0 1-1 1-4 1 4 1-2 1-1 1-7 1 0 1 4 1-9 1 1 1 7 1 6 1-9 1-2 1 2 1 8 1 15 1-29 1 2 1 8 1-11 1 10 1 0 1-3 1-3 1 6 1-6 1 23 1-17 1 0 1 8 1-5 1 10 1-16 1 4 1-8 1 2 1 0 1 0 1 12 1 20 1-17 1-1 1 4 1-4 1-9 1-5 1-7 1 7 1 5 1-5 1 2 1 1 1-2 1 1 1-2 1 3 1 2 1 11 1 7 1-4 1-4 1-3 1-6 1 2 1-1 1 0 1 10 1-1 1-7 1-3 1 14 1-9 1 6 1-1 1 6 1-1 1-7 1 4 1-2 1-4 1-2 1 1 1 3 1-7 1 1 1-4 1 6 1-8 1 8 1 3 1 2 1 0 1 2 1-2 1 4 1-7 1 6 1-9 1-9 1 17 1-10 1 24 1-19 1 4 1 4 1-4 1-5 1-4 1-3 1 3 1-4 1 8 1-4 1 1 1-1 1-8 1 7 1-2 1 6 1 10 1-7 1 7 1 8 1-10 1-15 1 2 1 5 1 6 1-17 1 4 1 7 1-7 1-4 1-1 1-10 1 32 1-23 1-1 1 3 1 4 1 1 1-7 1 21 1-18 1-1 1 21 1-16 1 4 1-3 1 6 1 6 1 7 1-14 1-3 1-5 1 0 1 2 1 3 1 11 1-6 1 6 1-6 1 10 1-3 1 22 1-35 1 8 1 0 1 0 1-4 1 11 1 4 1 2 1 5 1-10 1-3 1-1 1-14 1 10 1-5 1-1 1-3 1 7 1-2 1-1 1 5 1-3 1-4 1 6 1-1 1 3 1 16 1-7 1-5 1 3 1-10 1 4 1-10 1 3 1-1 1-9 1 6 1-2 1 6 1-5 1 3 1-1 1-1 1 4 1 21 1-19 1-2 1-4 1 27 1-39 1 11 1 8 1 0 1-2 1-3 1 0 1 18 1-19 1-5 1-3 1 7 1-11 1 9 1-6 1 7 1 9 1-7 1 11 1-5 1 15 1-11 1-4 1-10 1-1 1 5 1-4 1 20 1-13 1 8 1 3 1 0 1 0 1-2 1-1 1-3 1 6 1 1 1 10 1-15 1 8 1-2 1-1 1-7 1 2 1-9 1 3 1 5 1-6 1-11 1 12 1 0 1-3 1 1 1-1 1 7 1-5 1 5 1-3 1-2 1 1 1-6 1 8 1 9 1-14 1 11 1 5 1-7 1-4 1-2 1 0 1 6 1-1 1-4 1 0 1-1 1-2 1-4 1-5 1 0 1-1 1 4 1 8 1 14 1-8 1-2 1 5 1-6 1-5 1 4 1 15 1 2 1-15 1 5 1-8 1-1 1 1 1 1 1-16 1 31 1-27 1-2 1 3 1 12 1-1 1-5 1 3 1-3 1 22 1-12 1-5 1 2 1-3 1-2 1 0 1 23 1-16 1-2 1 10 1-7 1-6 1 1 1 5 1-20 1 3 1 7 1 3 1 2 1-2 1 11 1 0 1-6 1-2 1 20 1-9 1-10 1-6 1 5 1-2 1 3 1 2 1 4 1-7 1-4 1-9 1 4 1-9 1 0 1 8 1 0 1 3 1 12 1-4 1 0 1-11 1 9 1 8 1-6 1-5 1 8 1-1 1-5 1-5 1 14 1 0 1-13 1 7 1 8 1-6 1-6 1 1 1 3 1-11 1-1 1-3 1 5 1 4 1 5 1 2 1 5 1-9 1 18 1-17 1-9 1 1 1 3 1 4 1-3 1 4 1-1 1-3 1-8 1 10 1-9 1 0 1 2 1 7 1 5 1-4 1 0 1 14 1-11 1-6 1 7 1 2 1-10 1 9 1 4 1 13 1-22 1-2 1 3 1-12 1 13 1-6 1 1 1 6 1-1 1-3 1-6 1 3 1 8 1-6 1 2 1 20 1-20 1 5 1-6 1-7 1 4 1 3 1 3 1 3 1-4 1 0 1-9 1 5 1-1 1 2 1 18 1-26 1 0 1-3 1 3 1-15 1-2 1 20 1-1 1 13 1-1 1 8 1-2 1-6 1 6 1-10 1 4 1-5 1-1 1-4 1 4 1-3 1-5 1-3 1 11 1-1 1 4 1 2 1 5 1 8 1-16 1 4 1-9 1 4 1-9 1 9 1 7 1-14 1 20 1-16 1-7 1-5 1 9 1-4 1 15 1-22 1-2 1-1 1-1 1 5 1 1 1-3 1 6 1-7 1 5 1-6 1 6 1 4 1 5 1-1 1 1 1-1 1-5 1 8 1-8 1 12 1-3 1 3 1-7 1 7 1-8 1-4 1-2 1 20 1-25 1 5 1 0 1-6 1 7 1 2 1-3 1-1 1 2 1 4 1-6 1 1 1 9 1-2 1 3 1 1 1-1 1 11 1-4 1-2 1 22 1 1 1-14 1-4 1 2 1-4 1 3 1-2 1-4 1 7 1 4 1 0 1-1 1 0 1 24 1-15 1-5 1 2 1-2 1-9 1-5 1-4 1 4 1-5 1 2 1 3 1-4 1 3 1 1 1-4 1-2 1-4 1 5 1-3 1-1 1 5 1 0 1 1 1 2 1-8 1 2 1 6 1 22 1-17 1-1 1 3 1-8 1 4 1-3 1 6 1-6 1-9 1 3 1 3 1-3 1 3 1 0 1-6 1 3 1 21 1-23 1 3 1-3 1 8 1-8 1 8 1-7 1-3 1-7 1 6 1 5 1 4 1-11 1 10 1 3 1 0 1-2 1 22 1-22 1 0 1-8 1 4 1-13 1 3 1 3 1-1 1-15 1-1 1 11 1-1 1 4 1-2 1 4 1 11 1-4 1-3 1 6 1 10 1-13 1 2 1-8 1 8 1-14 1 11 1 1 1-7 1 23 1-20 1 14 1-22 1 0 1 10 1 3 1-6 1 9 1-1 1-6 1-6 1 4 1-3 1 8 1 1 1 11 1-18 1 2 1-5 1 6 1-5 1-2 1 7 1-5 1 11 1-2 1 2 1 5 1-7 1 2 1 1 1-4 1 0 1-1 1 7 1-2 1 0 1 10 1-5 1 18 1-1 1-24 1-3 1 1 1 5 1 0 1-1 1-1 1 20 1-17 1-13 1-3 1 8 1-4 1 0 1 1 1-1 1 0 1 7 1 2 1-11 1 3 1 2 1-2 1 18 1-9 1-5 1 6 1 18 1-11 1-1 1 3 1-10 1 0 1 0 1-6 1-3 1 8 1-2 1-7 1 5 1 0 1-5 1-5 1 3 1-1 1-1 1 0 1 4 1 4 1-2 1 1 1 0 1 1 1-10 1 3 1 0 1 4 1-2 1-1 1 11 1-8 1-7 1 6 1 8 1 1 1-4 1 4 1 6 1 3 1 12 1-8 1-8 1-6 1-3 1 2 1 0 1 0 1 4 1 1 1 20 1-6 1-13 1 4 1 4 1-4 1 6 1 0 1 17 1-20 1-3 1-3 1-6 1 21 1-14 1 0 1 15 1-21 1-2 1 1 1-2 1 7 1-5 1 3 1 0 1-2 1-2 1-5 1-3 1-9 1 11 1 1 1 1 1 1 1 10 1 7 1-2 1 0 1 5 1-9 1-1 1 0 1 3 1-10 1-3 1 7 1-8 1 5 1-1 1-11 1 7 1 7 1-8 1-2 1 10 1-7 1 1 1 1 1-1 1 4 1 7 1 4 1 0 1-1 1-4 1 3 1 5 1-18 1-10 1 3 1-2 1 4 1 7 1 7 1 0 1 3 1 6 1-4 1 0 1 9 1-18 1-4 1-2 1 0 1 2 1 2 1-5 1 7 1 0 1 1 1 6 1-3 1 3 1-5 1-1 1 7 1 2 1 0 1 18 1-21 1 1 1 0 1-5 1 6 1 3 1 16 1-1 1-25 1-1 1-2 1 4 1 13 1-23 1-6 1 7 1 1 1 1 1-6 1 12 1-8 1 5 1-2 1 0 1 3 1 2 1-6 1 1 1 1 1 1 1 1 1-8 1 6 1 3 1 3 1 5 1-12 1 14 1-10 1 6 1-4 1 2 1 8 1-11 1-1 1-10 1 3 1 5 1-8 1 9 1 1 1-3 1-3 1 6 1-2 1-8 1-7 1 8 1 11 1-7 1 3 1 1 1 5 1 7 1-3 1-7 1-4 1-6 1 4 1-2 1-1 1 4 1-4 1-1 1 0 1 0 1-6 1 3 1-5 1 7 1 0 1 6 1-4 1 8 1-1 1 6 1-5 1-6 1 2 1 10 1 4 1-6 1-3 1 11 1-19 1-2 1-4 1 13 1-1 1 6 1-8 1 4 1 4 1-6 1 4 1-6 1-1 1-5 1 8 1 9 1-14 1 4 1 8 1-2 1 3 1-8 1 9 1 1 1 0 1 7 1 13 1-14 1-7 1 2 1-14 1 4 1-3 1-3 1 7 1-6 1 10 1-5 1-3 1 0 1-6 1 3 1-7 1 7 1 4 1-3 1-4 1 22 1-14 1-2 1 2 1 7 1 6 1-2 1-3 1 6 1-1 1-14 1-2 1-7 1 6 1-2 1 16 1-9 1 3 1 2 1 5 1-4 1-5 1 2 1-2 1 9 1-9 1 8 1 9 1 2 1-3 1-1 1 1 1-6 1-1 1 2 1 0 1-6 1-8 1 6 1 0 1-3 1 7 1 5 1-1 1-2 1-1 1-9 1-1 1 3 1-4 1 4 1 0 1 0 1 3 1 3 1 5 1-10 1 1 1 0 1-5 1 1 1-8 1-1 1 12 1-6 1 0 1-5 1 3 1 0 1 4 1-9 1 3 1-4 1 2 1 6 1 7 1-10 1 5 1-7 1 4 1-9 1 5 1 22 1-16 1-1 1-1 1-3 1 13 1-7 1 4 1 5 1 7 1-2 1-6 1-4 1 1 1-5 1 2 1 0 1-6 1 0 1 5 1 3 1-5 1 17 1-7 1 21 1 1 1-25 1-6 1-1 1 2 1-2 1 1 1 1 1-10 1 23 1-18 1 4 1 2 1-10 1 9 1-3 1 11 1-19 1 8 1 8 1-2 1-2 1 2 1 4 1 11 1-15 1-1 1 1 1 0 1 0 1 7 1 6 1-13 1-3 1 1 1 4 1-9 1 7 1 6 1-11 1 8 1 2 1 1 1 12 1-24 1 7 1-2 1 7 1-18 1 16 1-3 1 4 1 1 1-1 1 5 1-5 1 2 1-4 1-4 1 0 1 3 1 6 1-1 1-9 1 6 1 0 1 5 1-4 1 1 1-2 1 7 1-9 1-12 1 1 1 22 1-21 1 5 1-4 1-2 1 6 1-5 1 2 1 1 1-11 1 14 1-12 1 1 1 1 1 3 1-2 1-2 1 3 1-2 1 4 1-4 1-5 1-3 1 3 1 2 1 1 1 6 1-5 1 3 1 13 1-5 1 8 1-19 1-2 1 3 1 1 1 9 1-7 1 27 1-11 1-4 1-5 1-1 1 19 1-14 1-6 1 0 1-4 1 3 1-4 1-1 1 2 1 13 1-17 1-11 1 9 1 18 1-12 1 9 1-3 1 3 1 11 1-8 1-3 1-8 1 5 1-8 1 5 1 4 1 2 1 5 1-3 1 0 1-2 1 2 1-3 1 1 1 6 1 11 1-4 1-6 1 0 1-3 1 1 1-3 1 0 1 12 1-7 1 2 1 3 1-11 1 5 1-2 1 19 1-22 1 1 1 2 1-3 1 5 1-7 1 11 1-5 1-4 1-1 1-1 1 4 1-9 1 5 1 9 1-5 1 2 1-4 1 1 1 3 1 3 1-6 1 0 1 4 1-4 1-11 1 4 1 8 1 4 1-2 1 20 1-23 1-6 1 5 1-6 1-1 1-3 1-2 1 14 1-13 1 31 1-25 1 6 1-11 1 6 1 2 1 13 1-17 1 7 1 19 1-28 1 13 1-9 1 5 1-2 1 1 1 5 1-23 1 13 1 3 1 2 1 1 1 0 1 26 1-24" fill="none" stroke="#888" stroke-width="2.85" stroke-opacity="0.22" stroke-linejoin="round" vector-effect="non-scaling-stroke"/>
<path transform="translate(93.2,232.6) scale(0.25,0.1)" d="M0 -2l1-5 1-3 1 5 1-3 1 0 1 3 1 9 1 2 1-3 1-2 1 1 1-2 1-1 1-13 1 1 1-5 1 7 1-4 1 3 1-8 1 5 1 5 1 3 1 9 1 15 1-17 1 1 1-4 1 3 1-1 1 4 1-3 1 6 1-4 1 11 1-18 1-9 1-6 1 6 1 13 1-11 1 15 1-7 1 1 1 7 1 0 1-3 1 0 1-1 1-4 1 2 1 0 1-6 1 10 1-7 1 5 1 1 1-2 1 1 1-1 1-3 1 2 1 2 1-5 1 1 1 7 1-9 1 7 1-6 1 6 1 0 1 4 1-2 1-2 1-3 1-5 1 7 1-8 1 0 1 0 1 8 1 1 1-6 1-5 1-1 1-1 1-4 1 1 1-4 1 3 1 30 1-24 1 8 1 3 1 11 1-13 1-1 1-3 1-2 1 1 1 7 1 3 1 0 1 2 1-5 1-3 1 3 1 2 1-13 1 0 1 7 1 8 1-29 1 5 1 3 1 9 1-5 1 5 1 9 1 6 1-6 1 1 1 0 1 8 1-8 1 7 1 4 1-12 1-1 1 1 1-2 1 4 1-1 1-2 1-2 1 6 1-5 1-4 1-2 1 2 1 4 1-5 1 3 1-1 1-6 1 3 1 1 1-5 1 21 1-11 1-3 1 5 1-12 1 9 1-12 1 0 1 1 1-3 1 5 1-4 1 9 1 8 1 5 1-8 1 10 1-9 1-2 1-5 1-8 1-4 1-10 1 8 1-2 1 2 1 3 1 6 1-2 1-1 1 7 1 1 1 7 1 0 1 2 1-1 1 0 1-7 1-1 1-2 1 2 1 7 1 3 1-4 1-4 1-3 1-3 1 5 1 5 1 5 1-11 1 8 1-4 1-1 1-1 1-3 1 2 1-4 1 9 1-4 1-3 1 4 1 2 1-1 1 6 1 1 1-13 1-2 1 2 1-3 1 2 1 0 1 18 1 2 1-1 1-6 1-7 1 6 1-2 1-12 1-2 1-2 1 2 1 6 1-4 1 6 1-11 1 7 1 11 1-6 1 8 1-5 1 5 1 1 1-1 1-9 1 5 1-3 1 0 1 7 1-3 1 9 1-5 1-4 1 3 1 0 1-1 1 1 1-5 1 1 1 2 1 6 1 7 1-3 1 1 1 28 1-27 1-14 1 5 1-5 1 0 1-2 1-3 1 3 1 2 1-2 1 3 1-1 1 22 1-14 1-1 1-9 1 8 1-6 1 1 1-8 1-5 1-1 1 3 1 19 1-17 1 1 1 3 1-13 1 5 1-3 1 0 1 2 1 4 1-10 1 10 1-8 1-3 1 14 1 0 1 24 1-20 1 7 1-1 1-9 1 3 1-6 1 0 1 0 1 5 1 10 1-7 1 9 1 1 1 2 1-5 1 1 1 1 1 8 1-4 1 1 1 0 1 9 1 4 1-24 1 5 1-8 1-8 1-7 1 8 1 1 1-2 1 2 1 8 1-7 1-1 1-10 1 10 1 4 1 24 1-24 1-2 1 6 1-9 1 6 1 11 1 8 1-8 1-5 1 6 1-14 1 4 1-5 1 10 1-7 1 3 1 2 1-13 1 9 1 24 1-28 1 8 1 16 1-15 1-1 1-3 1 3 1-9 1-2 1 4 1 2 1 11 1-3 1 0 1-4 1 7 1-2 1-6 1-2 1 15 1-16 1-6 1 5 1-2 1 7 1-4 1-1 1-1 1 2 1-6 1 1 1-3 1 7 1 7 1 7 1-1 1-2 1 1 1 6 1-4 1-9 1 4 1 6 1-3 1 2 1-6 1 13 1-6 1 3 1-9 1-8 1 10 1-6 1 8 1-4 1-1 1 6 1-7 1-4 1 0 1 0 1-8 1-9 1 14 1-9 1-10 1 10 1-2 1 11 1-1 1 9 1 2 1 4 1-4 1-1 1 0 1-6 1 0 1-4 1 6 1 0 1 2 1-6 1 7 1 2 1-9 1-2 1 1 1 3 1-6 1 18 1-11 1 4 1 2 1 0 1 4 1 1 1 1 1-6 1-8 1 5 1 4 1-5 1 6 1 2 1-6 1 3 1-5 1 6 1-5 1-9 1 5 1-6 1 0 1 1 1-1 1 2 1-5 1 3 1 2 1 0 1 0 1 11 1 4 1-14 1 0 1 1 1-2 1-3 1-1 1 3 1 6 1 2 1 1 1-2 1-6 1-3 1 0 1 5 1 6 1-3 1 1 1 4 1-2 1 0 1-4 1 6 1 4 1-6 1 13 1-13 1 12 1-9 1-3 1 2 1-1 1 5 1 3 1-10 1 9 1 12 1-21 1-2 1-8 1 5 1-2 1 11 1-8 1 5 1 9 1-7 1 1 1-1 1 7 1-3 1 5 1-12 1 4 1 10 1-6 1-4 1-1 1 9 1-10 1 3 1-4 1 11 1 2 1 0 1-4 1-2 1 13 1-21 1-8 1 2 1 0 1 28 1-26 1 5 1-3 1-5 1 9 1-3 1 17 1-10 1 4 1 4 1-5 1-5 1-8 1-5 1-4 1 2 1-3 1-4 1-2 1 5 1-2 1 1 1 5 1 6 1 2 1-4 1 3 1-8 1 5 1 6 1-2 1 3 1-1 1 25 1-19 1-8 1 9 1-4 1-5 1 1 1-5 1 6 1-6 1-7 1-9 1 15 1 0 1 5 1 0 1 7 1 6 1-10 1 15 1-16 1 2 1 8 1 1 1-18 1 1 1 14 1-17 1 7 1 3 1 5 1 3 1 4 1-6 1 1 1-3 1-7 1 6 1 6 1-8 1-4 1-9 1-2 1-5 1-4 1 5 1 3 1 3 1 10 1-4 1-4 1-1 1 4 1-3 1 0 1 29 1-22 1-2 1 2 1 1 1 3 1 5 1-13 1 4 1-2 1 1 1-1 1 3 1 9 1-8 1-6 1 0 1 2 1-1 1-1 1-3 1-2 1 2 1 8 1 1 1-4 1 4 1-3 1 4 1-4 1 4 1-5 1-1 1-10 1 5 1-4 1-1 1 13 1-19 1 13 1-5 1 3 1 5 1 11 1-9 1-5 1 1 1 6 1-13 1-4 1 3 1 7 1 1 1 1 1 9 1-13 1 0 1-5 1 5 1-5 1-2 1 5 1 3 1 1 1-1 1 5 1 1 1-7 1 3 1-4 1-10 1 4 1 5 1 5 1-5 1 5 1 4 1 3 1-1 1-7 1-5 1 8 1-5 1 2 1 4 1 1 1 8 1 5 1-6 1-2 1 1 1 3 1-1 1 10 1-4 1-3 1 0 1-2 1-4 1-1 1-9 1 12 1 0 1-2 1 7 1-7 1-1 1 2 1-4 1-1 1 3 1-6 1-4 1 16 1-16 1-9 1-1 1 13 1 1 1-4 1 5 1-4 1 7 1-3 1 0 1-1 1-2 1 11 1-9 1-3 1 8 1-4 1-1 1 7 1-8 1-2 1 3 1 7 1 4 1-4 1 3 1 3 1-4 1-8 1-1 1 0 1-6 1 8 1-4 1-1 1 10 1-3 1 1 1 1 1 4 1 0 1 0 1-8 1 2 1-3 1 0 1 0 1-5 1 10 1-7 1-3 1 16 1-10 1 0 1 5 1 4 1-8 1-5 1 1 1-3 1 1 1-7 1 11 1-1 1-8 1 10 1-5 1 6 1 2 1 1 1-3 1-2 1 10 1-4 1-1 1-15 1 0 1 21 1-19 1-1 1 2 1 2 1-4 1 0 1 6 1 22 1-27 1 3 1 4 1 2 1 1 1 5 1-6 1-1 1-4 1 1 1 12 1-10 1 24 1-22 1-6 1-4 1 9 1-1 1 4 1 2 1 4 1 7 1-3 1 2 1-5 1 12 1-16 1 1 1 0 1-3 1-14 1 4 1 8 1-3 1-2 1 0 1-4 1 10 1-3 1-7 1 7 1-5 1 2 1-2 1-1 1 1 1 5 1 3 1 7 1-8 1 6 1 0 1-1 1-2 1-2 1 2 1-8 1 8 1-5 1-3 1 6 1 7 1 0 1-4 1-4 1-1 1-4 1-5 1 5 1-6 1 22 1-19 1 0 1 4 1-1 1-2 1 11 1-8 1 3 1 29 1-26 1-1 1-5 1 4 1 5 1-3 1 17 1-16 1 0 1-1 1-7 1 11 1-11 1-7 1 7 1 6 1 5 1-6 1 6 1-1 1-6 1-2 1 1 1 1 1-6 1 9 1 7 1 0 1 11 1-2 1-2 1-8 1-6 1-4 1-4 1-8 1 2 1-7 1 11 1 4 1 0 1 0 1 0 1 2 1-3 1 3 1 0 1-12 1 4 1 6 1 2 1-3 1-14 1 5 1 3 1 5 1-2 1 6 1-2 1 12 1 1 1-4 1 15 1-17 1-2 1-6 1 1 1 1 1-7 1 5 1 2 1 10 1-3 1-6 1 11 1-9 1 1 1-6 1 13 1-14 1 0 1 4 1-9 1-2 1 11 1-7 1 6 1-3 1 11 1 0 1-1 1-4 1 4 1-2 1-1 1-7 1 0 1 4 1-9 1 1 1 7 1 6 1-9 1-2 1 2 1 8 1 15 1-29 1 2 1 8 1-11 1 10 1 0 1-3 1-3 1 6 1-6 1 23 1-17 1 0 1 8 1-5 1 10 1-16 1 4 1-8 1 2 1 0 1 0 1 12 1 20 1-17 1-1 1 4 1-4 1-9 1-5 1-7 1 7 1 5 1-5 1 2 1 1 1-2 1 1 1-2 1 3 1 2 1 11 1 7 1-4 1-4 1-3 1-6 1 2 1-1 1 0 1 10 1-1 1-7 1-3 1 14 1-9 1 6 1-1 1 6 1-1 1-7 1 4 1-2 1-4 1-2 1 1 1 3 1-7 1 1 1-4 1 6 1-8 1 8 1 3 1 2 1 0 1 2 1-2 1 4 1-7 1 6 1-9 1-9 1 17 1-10 1 24 1-19 1 4 1 4 1-4 1-5 1-4 1-3 1 3 1-4 1 8 1-4 1 1 1-1 1-8 1 7 1-2 1 6 1 10 1-7 1 7 1 8 1-10 1-15 1 2 1 5 1 6 1-17 1 4 1 7 1-7 1-4 1-1 1-10 1 32 1-23 1-1 1 3 1 4 1 1 1-7 1 21 1-18 1-1 1 21 1-16 1 4 1-3 1 6 1 6 1 7 1-14 1-3 1-5 1 0 1 2 1 3 1 11 1-6 1 6 1-6 1 10 1-3 1 22 1-35 1 8 1 0 1 0 1-4 1 11 1 4 1 2 1 5 1-10 1-3 1-1 1-14 1 10 1-5 1-1 1-3 1 7 1-2 1-1 1 5 1-3 1-4 1 6 1-1 1 3 1 16 1-7 1-5 1 3 1-10 1 4 1-10 1 3 1-1 1-9 1 6 1-2 1 6 1-5 1 3 1-1 1-1 1 4 1 21 1-19 1-2 1-4 1 27 1-39 1 11 1 8 1 0 1-2 1-3 1 0 1 18 1-19 1-5 1-3 1 7 1-11 1 9 1-6 1 7 1 9 1-7 1 11 1-5 1 15 1-11 1-4 1-10 1-1 1 5 1-4 1 20 1-13 1 8 1 3 1 0 1 0 1-2 1-1 1-3 1 6 1 1 1 10 1-15 1 8 1-2 1-1 1-7 1 2 1-9 1 3 1 5 1-6 1-11 1 12 1 0 1-3 1 1 1-1 1 7 1-5 1 5 1-3 1-2 1 1 1-6 1 8 1 9 1-14 1 11 1 5 1-7 1-4 1-2 1 0 1 6 1-1 1-4 1 0 1-1 1-2 1-4 1-5 1 0 1-1 1 4 1 8 1 14 1-8 1-2 1 5 1-6 1-5 1 4 1 15 1 2 1-15 1 5 1-8 1-1 1 1 1 1 1-16 1 31 1-27 1-2 1 3 1 12 1-1 1-5 1 3 1-3 1 22 1-12 1-5 1 2 1-3 1-2 1 0 1 23 1-16 1-2 1 10 1-7 1-6 1 1 1 5 1-20 1 3 1 7 1 3 1 2 1-2 1 11 1 0 1-6 1-2 1 20 1-9 1-10 1-6 1 5 1-2 1 3 1 2 1 4 1-7 1-4 1-9 1 4 1-9 1 0 1 8 1 0 1 3 1 12 1-4 1 0 1-11 1 9 1 8 1-6 1-5 1 8 1-1 1-5 1-5 1 14 1 0 1-13 1 7 1 8 1-6 1-6 1 1 1 3 1-11 1-1 1-3 1 5 1 4 1 5 1 2 1 5 1-9 1 18 1-17 1-9 1 1 1 3 1 4 1-3 1 4 1-1 1-3 1-8 1 10 1-9 1 0 1 2 1 7 1 5 1-4 1 0 1 14 1-11 1-6 1 7 1 2 1-10 1 9 1 4 1 13 1-22 1-2 1 3 1-12 1 13 1-6 1 1 1 6 1-1 1-3 1-6 1 3 1 8 1-6 1 2 1 20 1-20 1 5 1-6 1-7 1 4 1 3 1 3 1 3 1-4 1 0 1-9 1 5 1-1 1 2 1 18 1-26 1 0 1-3 1 3 1-15 1-2 1 20 1-1 1 13 1-1 1 8 1-2 1-6 1 6 1-10 1 4 1-5 1-1 1-4 1 4 1-3 1-5 1-3 1 11 1-1 1 4 1 2 1 5 1 8 1-16 1 4 1-9 1 4 1-9 1 9 1 7 1-14 1 20 1-16 1-7 1-5 1 9 1-4 1 15 1-22 1-2 1-1 1-1 1 5 1 1 1-3 1 6 1-7 1 5 1-6 1 6 1 4 1 5 1-1 1 1 1-1 1-5 1 8 1-8 1 12 1-3 1 3 1-7 1 7 1-8 1-4 1-2 1 20 1-25 1 5 1 0 1-6 1 7 1 2 1-3 1-1 1 2 1 4 1-6 1 1 1 9 1-2 1 3 1 1 1-1 1 11 1-4 1-2 1 22 1 1 1-14 1-4 1 2 1-4 1 3 1-2 1-4 1 7 1 4 1 0 1-1 1 0 1 24 1-15 1-5 1 2 1-2 1-9 1-5 1-4 1 4 1-5 1 2 1 3 1-4 1 3 1 1 1-4 1-2 1-4 1 5 1-3 1-1 1 5 1 0 1 1 1 2 1-8 1 2 1 6 1 22 1-17 1-1 1 3 1-8 1 4 1-3 1 6 1-6 1-9 1 3 1 3 1-3 1 3 1 0 1-6 1 3 1 21 1-23 1 3 1-3 1 8 1-8 1 8 1-7 1-3 1-7 1 6 1 5 1 4 1-11 1 10 1 3 1 0 1-2 1 22 1-22 1 0 1-8 1 4 1-13 1 3 1 3 1-1 1-15 1-1 1 11 1-1 1 4 1-2 1 4 1 11 1-4 1-3 1 6 1 10 1-13 1 2 1-8 1 8 1-14 1 11 1 1 1-7 1 23 1-20 1 14 1-22 1 0 1 10 1 3 1-6 1 9 1-1 1-6 1-6 1 4 1-3 1 8 1 1 1 11 1-18 1 2 1-5 1 6 1-5 1-2 1 7 1-5 1 11 1-2 1 2 1 5 1-7 1 2 1 1 1-4 1 0 1-1 1 7 1-2 1 0 1 10 1-5 1 18 1-1 1-24 1-3 1 1 1 5 1 0 1-1 1-1 1 20 1-17 1-13 1-3 1 8 1-4 1 0 1 1 1-1 1 0 1 7 1 2 1-11 1 3 1 2 1-2 1 18 1-9 1-5 1 6 1 18 1-11 1-1 1 3 1-10 1 0 1 0 1-6 1-3 1 8 1-2 1-7 1 5 1 0 1-5 1-5 1 3 1-1 1-1 1 0 1 4 1 4 1-2 1 1 1 0 1 1 1-10 1 3 1 0 1 4 1-2 1-1 1 11 1-8 1-7 1 6 1 8 1 1 1-4 1 4 1 6 1 3 1 12 1-8 1-8 1-6 1-3 1 2 1 0 1 0 1 4 1 1 1 20 1-6 1-13 1 4 1 4 1-4 1 6 1 0 1 17 1-20 1-3 1-3 1-6 1 21 1-14 1 0 1 15 1-21 1-2 1 1 1-2 1 7 1-5 1 3 1 0 1-2 1-2 1-5 1-3 1-9 1 11 1 1 1 1 1 1 1 10 1 7 1-2 1 0 1 5 1-9 1-1 1 0 1 3 1-10 1-3 1 7 1-8 1 5 1-1 1-11 1 7 1 7 1-8 1-2 1 10 1-7 1 1 1 1 1-1 1 4 1 7 1 4 1 0 1-1 1-4 1 3 1 5 1-18 1-10 1 3 1-2 1 4 1 7 1 7 1 0 1 3 1 6 1-4 1 0 1 9 1-18 1-4 1-2 1 0 1 2 1 2 1-5 1 7 1 0 1 1 1 6 1-3 1 3 1-5 1-1 1 7 1 2 1 0 1 18 1-21 1 1 1 0 1-5 1 6 1 3 1 16 1-1 1-25 1-1 1-2 1 4 1 13 1-23 1-6 1 7 1 1 1 1 1-6 1 12 1-8 1 5 1-2 1 0 1 3 1 2 1-6 1 1 1 1 1 1 1 1 1-8 1 6 1 3 1 3 1 5 1-12 1 14 1-10 1 6 1-4 1 2 1 8 1-11 1-1 1-10 1 3 1 5 1-8 1 9 1 1 1-3 1-3 1 6 1-2 1-8 1-7 1 8 1 11 1-7 1 3 1 1 1 5 1 7 1-3 1-7 1-4 1-6 1 4 1-2 1-1 1 4 1-4 1-1 1 0 1 0 1-6 1 3 1-5 1 7 1 0 1 6 1-4 1 8 1-1 1 6 1-5 1-6 1 2 1 10 1 4 1-6 1-3 1 11 1-19 1-2 1-4 1 13 1-1 1 6 1-8 1 4 1 4 1-6 1 4 1-6 1-1 1-5 1 8 1 9 1-14 1 4 1 8 1-2 1 3 1-8 1 9 1 1 1 0 1 7 1 13 1-14 1-7 1 2 1-14 1 4 1-3 1-3 1 7 1-6 1 10 1-5 1-3 1 0 1-6 1 3 1-7 1 7 1 4 1-3 1-4 1 22 1-14 1-2 1 2 1 7 1 6 1-2 1-3 1 6 1-1 1-14 1-2 1-7 1 6 1-2 1 16 1-9 1 3 1 2 1 5 1-4 1-5 1 2 1-2 1 9 1-9 1 8 1 9 1 2 1-3 1-1 1 1 1-6 1-1 1 2 1 0 1-6 1-8 1 6 1 0 1-3 1 7 1 5 1-1 1-2 1-1 1-9 1-1 1 3 1-4 1 4 1 0 1 0 1 3 1 3 1 5 1-10 1 1 1 0 1-5 1 1 1-8 1-1 1 12 1-6 1 0 1-5 1 3 1 0 1 4 1-9 1 3 1-4 1 2 1 6 1 7 1-10 1 5 1-7 1 4 1-9 1 5 1 22 1-16 1-1 1-1 1-3 1 13 1-7 1 4 1 5 1 7 1-2 1-6 1-4 1 1 1-5 1 2 1 0 1-6 1 0 1 5 1 3 1-5 1 17 1-7 1 21 1 1 1-25 1-6 1-1 1 2 1-2 1 1 1 1 1-10 1 23 1-18 1 4 1 2 1-10 1 9 1-3 1 11 1-19 1 8 1 8 1-2 1-2 1 2 1 4 1 11 1-15 1-1 1 1 1 0 1 0 1 7 1 6 1-13 1-3 1 1 1 4 1-9 1 7 1 6 1-11 1 8 1 2 1 1 1 12 1-24 1 7 1-2 1 7 1-18 1 16 1-3 1 4 1 1 1-1 1 5 1-5 1 2 1-4 1-4 1 0 1 3 1 6 1-1 1-9 1 6 1 0 1 5 1-4 1 1 1-2 1 7 1-9 1-12 1 1 1 22 1-21 1 5 1-4 1-2 1 6 1-5 1 2 1 1 1-11 1 14 1-12 1 1 1 1 1 3 1-2 1-2 1 3 1-2 1 4 1-4 1-5 1-3 1 3 1 2 1 1 1 6 1-5 1 3 1 13 1-5 1 8 1-19 1-2 1 3 1 1 1 9 1-7 1 27 1-11 1-4 1-5 1-1 1 19 1-14 1-6 1 0 1-4 1 3 1-4 1-1 1 2 1 13 1-17 1-11 1 9 1 18 1-12 1 9 1-3 1 3 1 11 1-8 1-3 1-8 1 5 1-8 1 5 1 4 1 2 1 5 1-3 1 0 1-2 1 2 1-3 1 1 1 6 1 11 1-4 1-6 1 0 1-3 1 1 1-3 1 0 1 12 1-7 1 2 1 3 1-11 1 5 1-2 1 19 1-22 1 1 1 2 1-3 1 5 1-7 1 11 1-5 1-4 1-1 1-1 1 4 1-9 1 5 1 9 1-5 1 2 1-4 1 1 1 3 1 3 1-6 1 0 1 4 1-4 1-11 1 4 1 8 1 4 1-2 1 20 1-23 1-6 1 5 1-6 1-1 1-3 1-2 1 14 1-13 1 31 1-25 1 6 1-11 1 6 1 2 1 13 1-17 1 7 1 19 1-28 1 13 1-9 1 5 1-2 1 1 1 5 1-23 1 13 1 3 1 2 1 1 1 0 1 26 1-24" fill="none" stroke="#2a2a2a" stroke-width="1.25" stroke-linejoin="round" vector-effect="non-scaling-stroke"/>
<path d="M141.40 232.60 L141.50 243.00 L141.70 235.72 L142.05 233.64 L142.80 233.00 M163.20 232.60 L163.30 241.70 L163.50 235.33 L163.85 233.51 L164.60 233.00 M247.80 232.60 L247.90 252.30 L248.10 238.51 L248.45 234.57 L249.20 233.00 M359.90 232.60 L360.00 241.70 L360.20 235.33 L360.55 233.51 L361.30 233.00 M426.00 232.60 L426.10 244.30 L426.30 236.11 L426.65 233.77 L427.40 233.00 M507.60 232.60 L507.70 242.60 L507.90 235.60 L508.25 233.60 L509.00 233.00 M515.30 232.60 L515.40 251.80 L515.60 238.36 L515.95 234.52 L516.70 233.00 M585.90 232.60 L586.00 242.60 L586.20 235.60 L586.55 233.60 L587.30 233.00 " fill="none" stroke="#7c7c7c" stroke-width="0.8" stroke-linejoin="round"/>
<path d="M141.55 233.10 V236.76 M163.35 233.10 V236.24 M247.95 233.10 V240.48 M360.05 233.10 V236.24 M426.15 233.10 V237.28 M507.75 233.10 V236.60 M515.45 233.10 V240.28 M586.05 233.10 V236.60 " fill="none" stroke="#5a5a5a" stroke-width="0.9"/>
<path transform="translate(91.3,290.2) scale(0.25,0.1)" d="M0 -9l1 0 1 3 1-4 1 4 1-1 1 7 1 6 1-7 1-4 1 3 1-3 1-13 1 5 1 3 1-4 1-4 1 0 1 24 1-19 1-10 1-1 1 9 1-3 1 5 1-3 1 3 1 16 1-14 1-1 1-2 1-9 1 9 1 11 1 1 1 0 1 6 1 2 1-1 1 10 1-15 1 11 1-5 1 7 1-11 1 4 1-1 1-9 1 5 1 2 1-1 1 4 1-2 1 0 1 0 1 4 1 5 1-6 1 0 1-7 1 22 1-14 1 2 1-7 1 0 1-7 1 1 1-2 1 16 1-21 1 4 1 9 1-2 1 4 1 0 1-5 1 0 1-4 1 0 1-2 1-5 1 4 1 2 1 4 1-1 1 6 1 4 1 1 1 2 1-4 1-3 1-1 1 0 1 3 1 2 1 1 1 4 1 1 1-2 1-1 1-3 1 3 1 0 1-4 1 6 1-8 1-8 1-3 1 10 1-15 1 1 1 0 1 1 1-3 1 7 1-6 1 10 1-3 1-2 1-5 1 5 1 10 1-6 1-3 1 1 1 2 1-6 1 3 1 7 1-3 1-7 1 0 1-1 1-13 1 5 1 0 1 1 1 4 1 9 1 5 1 3 1 0 1 9 1-12 1-1 1 19 1-21 1-4 1 19 1-16 1 6 1 2 1-4 1 9 1-5 1-1 1-5 1-5 1 10 1-6 1 20 1-17 1 0 1-8 1-4 1 3 1 2 1-4 1 2 1 26 1-17 1-9 1 6 1 1 1-1 1-3 1 1 1 7 1-10 1-1 1-3 1-9 1-5 1 4 1 3 1 13 1-19 1 11 1 0 1 4 1 0 1-1 1 3 1-5 1 25 1-18 1 3 1-3 1-2 1 4 1 4 1 3 1 2 1 1 1 4 1 15 1-16 1-8 1 0 1 1 1 20 1-20 1 7 1-2 1-5 1 5 1 0 1-8 1 4 1-9 1-2 1-11 1 23 1-14 1 2 1 20 1-13 1 22 1-20 1 1 1 0 1-8 1-1 1-4 1 1 1-7 1 11 1 3 1-2 1 4 1-5 1 0 1 0 1-1 1 5 1-8 1 0 1 2 1-1 1-7 1 10 1 0 1 12 1-5 1 4 1-6 1 11 1-7 1-10 1 5 1-2 1 0 1-6 1 8 1-11 1 4 1 4 1-4 1 1 1-4 1 15 1-13 1-1 1 5 1 3 1 9 1 5 1 0 1-1 1-10 1 23 1-27 1 22 1-26 1 6 1 1 1-3 1 3 1 7 1-6 1-3 1 7 1-7 1-9 1 18 1-6 1-8 1-9 1-1 1 9 1 3 1-5 1-4 1-4 1 0 1-3 1 14 1-15 1 4 1 6 1 15 1-5 1 3 1 2 1 8 1 2 1-8 1-3 1 1 1-2 1-6 1-4 1 6 1 6 1 1 1 15 1-6 1-5 1 1 1 23 1-13 1-13 1 3 1-6 1 3 1 1 1-1 1 4 1 0 1 5 1-5 1-8 1-1 1-16 1 12 1-11 1 8 1-2 1-4 1 8 1 0 1-5 1-3 1 3 1 1 1-9 1-1 1 2 1-2 1-9 1 9 1 1 1 9 1-10 1 3 1 0 1 7 1-5 1 2 1 9 1 3 1-10 1 7 1 4 1 1 1 19 1-21 1 22 1-18 1 1 1-6 1 1 1 7 1-9 1 9 1-5 1-1 1 5 1 5 1-4 1 1 1 0 1-5 1 2 1-9 1 1 1-6 1-4 1 9 1-1 1 9 1-1 1 5 1-7 1 10 1-1 1-7 1-9 1 11 1-9 1-4 1 0 1 7 1 7 1-1 1-3 1 3 1-3 1-8 1 0 1 6 1 3 1 2 1-5 1 5 1-1 1-7 1 10 1-14 1 9 1-8 1 14 1-13 1 4 1 16 1-29 1 9 1-2 1 6 1 5 1-2 1-7 1 6 1-5 1-2 1-6 1 3 1 9 1-8 1 11 1 4 1-6 1 5 1 1 1-4 1 2 1-4 1-9 1 1 1 6 1-9 1 7 1 13 1-13 1 2 1 8 1-6 1 8 1-1 1 10 1 11 1-22 1 3 1-1 1 0 1 7 1-11 1-2 1 0 1 0 1-8 1 3 1 6 1 0 1 1 1-2 1-2 1-1 1-1 1-9 1 5 1-2 1 11 1-7 1 10 1 4 1-5 1-5 1-4 1 16 1 1 1-1 1 4 1-7 1 1 1-3 1-7 1 0 1 5 1 2 1 2 1 10 1 8 1-9 1-3 1-2 1-14 1 9 1-5 1 1 1-3 1 4 1-2 1 4 1 0 1-8 1 7 1-9 1-4 1-4 1 7 1 3 1-5 1 12 1-8 1 8 1-3 1 6 1-1 1-8 1 3 1-4 1 6 1-1 1 0 1-4 1 7 1-11 1 2 1 3 1 3 1-8 1 7 1-1 1 3 1-10 1 3 1 4 1-4 1 5 1-2 1 2 1-7 1 4 1-8 1 2 1 2 1 16 1 4 1-13 1 5 1-5 1 5 1 0 1-5 1-3 1 10 1 3 1 9 1-19 1 2 1-2 1-7 1 0 1 6 1-8 1 1 1-2 1 11 1 18 1-22 1-4 1 5 1-2 1 5 1-4 1 0 1 2 1-2 1 2 1-3 1 14 1-4 1 5 1-6 1-1 1 2 1 0 1-4 1 15 1-4 1-4 1-7 1-2 1-17 1 0 1 4 1 5 1 2 1-1 1 10 1-3 1-3 1-6 1-1 1 8 1 14 1-19 1-6 1 1 1 4 1-2 1 2 1-2 1 2 1-2 1 13 1-11 1-7 1-9 1 11 1 5 1-6 1-2 1 6 1 8 1 4 1-8 1 2 1-1 1 0 1-3 1-2 1-10 1 7 1 0 1-4 1 24 1-21 1 4 1 5 1-9 1 6 1-7 1 4 1 5 1 0 1 3 1 4 1 1 1 7 1 0 1-9 1 11 1-11 1 16 1 8 1-15 1-9 1-2 1 3 1 6 1 5 1-8 1 5 1-1 1-2 1 3 1-4 1-2 1 2 1 3 1-7 1-2 1-1 1 1 1 3 1-1 1-5 1 13 1-2 1-8 1 0 1-5 1-5 1-5 1 5 1-1 1 7 1-5 1 4 1 0 1-4 1 5 1-7 1 4 1 0 1-1 1 4 1 2 1-5 1 4 1-2 1 0 1 0 1 10 1-4 1-7 1-2 1 3 1-2 1 1 1 6 1-6 1 0 1 4 1 10 1-22 1-10 1 3 1 3 1 6 1 13 1 0 1 1 1 0 1-1 1 1 1-7 1-1 1-1 1 5 1 5 1-1 1 7 1-10 1 3 1 2 1-11 1-4 1 2 1 7 1-8 1 9 1-1 1-6 1 3 1 4 1-8 1 16 1-21 1 7 1 4 1 11 1-3 1-5 1 9 1-7 1 0 1-4 1-4 1 7 1-2 1 5 1 3 1-10 1 3 1-1 1 1 1 2 1-9 1 8 1-2 1 11 1 1 1-10 1 3 1 8 1-2 1-14 1-2 1 0 1-4 1-10 1 1 1-2 1 12 1 3 1-9 1 15 1 11 1-9 1-4 1 0 1 0 1-5 1 5 1-1 1-2 1 16 1-2 1-7 1-1 1 2 1 2 1-3 1-1 1-11 1 5 1 2 1 0 1-6 1-3 1 3 1-3 1 7 1 16 1-15 1-2 1 2 1-7 1 9 1 8 1-4 1 3 1 2 1-2 1-1 1 11 1-11 1 3 1-14 1 7 1 15 1-11 1-2 1 17 1-17 1-6 1 30 1-30 1 1 1 5 1-10 1 8 1-6 1 2 1 0 1 1 1-2 1-3 1-2 1 7 1-5 1 3 1-2 1 6 1 3 1-6 1-3 1 6 1-5 1 7 1 0 1 2 1-9 1 12 1-3 1 12 1-15 1-6 1 9 1 2 1-17 1 5 1 9 1-10 1 2 1 22 1-20 1 0 1 0 1-7 1 3 1 5 1 3 1-3 1 3 1-9 1-9 1 2 1 10 1 19 1-19 1 3 1 3 1 0 1-12 1 7 1 0 1-7 1 1 1-4 1 10 1-3 1 1 1-3 1 8 1 4 1-12 1 4 1-4 1 10 1-5 1 5 1 5 1-3 1-8 1 4 1-3 1 2 1-7 1 7 1 6 1-15 1 2 1 2 1 2 1-7 1 1 1-3 1 29 1-28 1 6 1 6 1-1 1-2 1-2 1-1 1 1 1 4 1-6 1 1 1 2 1-1 1 3 1 2 1-1 1 0 1 12 1-1 1-8 1 8 1 6 1-1 1 1 1-10 1-2 1-7 1-1 1 3 1 1 1 4 1-4 1-5 1-4 1-5 1 0 1 6 1-1 1-10 1 3 1-5 1-8 1 10 1 2 1-7 1-1 1 4 1 4 1 10 1 1 1 11 1-5 1-1 1 7 1-14 1 6 1 21 1-27 1 5 1-13 1 9 1-9 1 0 1-3 1 7 1-6 1 3 1 1 1 5 1 6 1-6 1-1 1 1 1 13 1-3 1 3 1 7 1-3 1-4 1 0 1-5 1 12 1-12 1-1 1 3 1-3 1 10 1-2 1 13 1-13 1 5 1-7 1 1 1 4 1-2 1 0 1-6 1 4 1-5 1 0 1 2 1-4 1-3 1-1 1 18 1-18 1-2 1 3 1-6 1 0 1 5 1-4 1 0 1-4 1 5 1-8 1-1 1 2 1-4 1 4 1 4 1 9 1-10 1 11 1-1 1 0 1 6 1-4 1-2 1 1 1-1 1 5 1 5 1-3 1-8 1 8 1 4 1 1 1-16 1 3 1 1 1 6 1-9 1 11 1 3 1-13 1 3 1 9 1-7 1 4 1 3 1 10 1-12 1-4 1 7 1-7 1 3 1-6 1 0 1 4 1-2 1-2 1 1 1 15 1-19 1-3 1 1 1 1 1 1 1-2 1 9 1-6 1 11 1 0 1 11 1-6 1 7 1-12 1-3 1-5 1 17 1-14 1 1 1-1 1-7 1-2 1 6 1 6 1-20 1 5 1 19 1-15 1 5 1-2 1 2 1 5 1 1 1-1 1-6 1 3 1 1 1 21 1-19 1-2 1 9 1-5 1 4 1 2 1-4 1 4 1 2 1-14 1-2 1-2 1-5 1 2 1-9 1-7 1 9 1 10 1-14 1 11 1 7 1-5 1-4 1-4 1 6 1 0 1 11 1-11 1 3 1-1 1-2 1-4 1-2 1 2 1 2 1 5 1 13 1-6 1-4 1 3 1-2 1-12 1 13 1-11 1 3 1 21 1-17 1 13 1-2 1 0 1-5 1 1 1 6 1-12 1-5 1 6 1-11 1 3 1-5 1 11 1 1 1 11 1-11 1-4 1 5 1 11 1-9 1-4 1 5 1-3 1 7 1-8 1 2 1 7 1-11 1 6 1 5 1 6 1-3 1 0 1 5 1-15 1-6 1 5 1-6 1-2 1 9 1-1 1 4 1-3 1-6 1 3 1-17 1 5 1-1 1 0 1-2 1-1 1 9 1 24 1-22 1-9 1 14 1-5 1 6 1-6 1 3 1 2 1 4 1 6 1-1 1-1 1 5 1-4 1-6 1 17 1-12 1-8 1 4 1-7 1-1 1 4 1-9 1-5 1-1 1 6 1 7 1-1 1 0 1-4 1 4 1-1 1 3 1-1 1 6 1-9 1 7 1-2 1 9 1-15 1 7 1 16 1-20 1-5 1 10 1-12 1 7 1-3 1 7 1 2 1 6 1-8 1 7 1-7 1-1 1 3 1 2 1 7 1-10 1 2 1-4 1-2 1 7 1 8 1-4 1-3 1 4 1-4 1-7 1 0 1 6 1 2 1-2 1-7 1-2 1 4 1-5 1 5 1-2 1 14 1-11 1-6 1 2 1 4 1-1 1 8 1-20 1 18 1-10 1-2 1-1 1-1 1 4 1-5 1 1 1 3 1 5 1 3 1-3 1 4 1-2 1 1 1-3 1 3 1 2 1-3 1 9 1 14 1 3 1-19 1 4 1 6 1-2 1 5 1-3 1-4 1 12 1-14 1-6 1 6 1-12 1 3 1-4 1 0 1-2 1 23 1-28 1 1 1 1 1-6 1-1 1-1 1 9 1 6 1-3 1 2 1 0 1 0 1-3 1 1 1 6 1-8 1 7 1 2 1-3 1-1 1-2 1 7 1-8 1 3 1 2 1 0 1-5 1 0 1-7 1 4 1-3 1 7 1 0 1 4 1 0 1-2 1-4 1-7 1 0 1 2 1 21 1-11 1 2 1 2 1 2 1 0 1-4 1 5 1 7 1-9 1-9 1 7 1 3 1-2 1-2 1 8 1-3 1-7 1 8 1-12 1 0 1-7 1 8 1 5 1 0 1-5 1 4 1-10 1 6 1-13 1 7 1-3 1 2 1 3 1 4 1-8 1 4 1 2 1 1 1 0 1 1 1-4 1 1 1-4 1-3 1 22 1-17 1 2 1 5 1 5 1-4 1 13 1 0 1 3 1-4 1 7 1 1 1-6 1-10 1-2 1 1 1-1 1-7 1 6 1 1 1-1 1 0 1-3 1 2 1 3 1-1 1 9 1 1 1-3 1-7 1 8 1-5 1 2 1-14 1 4 1 6 1 4 1-2 1 5 1 21 1-24 1 3 1-1 1 4 1 18 1-26 1 1 1-4 1 8 1-13 1 4 1 3 1-4 1 6 1-5 1 5 1-7 1-4 1 4 1-6 1-6 1 0 1 10 1-3 1 2 1-1 1 3 1-1 1-1 1-1 1-2 1-1 1-4 1 6 1 1 1 7 1 0 1 1 1-5 1-6 1 4 1-6 1 14 1 2 1-4 1-2 1 3 1-5 1-2 1-2 1 1 1 3 1 9 1-2 1 3 1-6 1 4 1-10 1 6 1 4 1-3 1 5 1-14 1 10 1-3 1-3 1 1 1-4 1 4 1-7 1 5 1 5 1 6 1 1 1 2 1-2 1 3 1-7 1-7 1-1 1 0 1 2 1 1 1-7 1-1 1 2 1-3 1 8 1 1 1 6 1 3 1 14 1-11 1-5 1-1 1-7 1 4 1-3 1-6 1-6 1 11 1-1 1 9 1-17 1 7 1-3 1 6 1-10 1 9 1 6 1 12 1-16 1 0 1-5 1 0 1-3 1 12 1-3 1 1 1 0 1 5 1 2 1 0 1-9 1 4 1 15 1-5 1-13 1-3 1-1 1-2 1 11 1-2 1-1 1 1 1-2 1 3 1-7 1 7 1-7 1 0 1 1 1 2 1 4 1-17 1-5 1 13 1-7 1-6 1 4 1 2 1 4 1-7 1 5 1 0 1 19 1-14 1-3 1 6 1 2 1-9 1 11 1-5 1-2 1 12 1-4 1-2 1 6 1-1 1 17 1-13 1 1 1-12 1-3 1-6 1-5 1-4 1 1 1 13 1-4 1 5 1 0 1 4 1-7 1-5 1 17 1-13 1 1 1 6 1 4 1-9 1 5 1-1 1-5 1 23 1-24 1 6 1-2 1-6 1 2 1 2 1 3 1-6 1 18 1-6 1-3 1 0 1-1 1 1 1-3 1-5 1 3 1 12 1-5 1 4 1-4 1 1 1-2 1-4 1 10 1-2 1-6 1 2 1 3 1 1 1 0 1-3 1-4 1 2 1-3 1-12 1 1 1 6 1-1 1-5 1 0 1 7 1 3 1 0 1 0 1 4 1 8 1-11 1 4 1 1 1 13 1-21 1-1 1 5 1 2 1-8 1-2 1 5 1-3 1-3 1 6 1 4 1-3 1 1 1-1 1 11 1-5 1-9 1 8 1 1 1-1 1 4 1 1 1 2 1 5 1 1 1 4 1-4 1-10 1 4 1 11 1-4 1-4 1 2 1-8 1 5 1 1 1-11 1-7 1 1 1 4 1-5 1-1 1 6 1 10 1-6 1-7 1-2 1 10 1-6 1-2 1-8 1 0 1-2 1 2 1 3 1 7 1 2 1-3 1 13 1-3 1 2 1-5 1 2 1-6 1-5 1 1 1 5 1-2 1-5 1 5 1 0 1-3 1 2 1-7 1 13 1-10 1-4 1-1 1-2 1 17 1-18 1 5 1-5 1 11 1-4 1 1 1-3 1-2 1 5 1-5 1-6 1 0 1-4 1 5 1-3 1 5 1 11 1-15 1 0 1 1 1-10 1 5 1-3 1 4 1 9 1-4 1 4 1-5 1 1 1 5 1-2 1-6 1 7 1 2 1-4 1 4 1 5 1-5 1 9 1-12 1 7 1 14 1-11 1-7 1 2 1-3 1 6 1-7 1 7 1-11 1 0 1 2 1-8 1 13 1 15 1-17 1-1 1-1 1 4 1 1 1 0 1 5 1 2 1 0 1-1 1-3 1-4 1 12 1-14 1 11 1-3 1-2 1 4 1 2 1-6 1 7 1-2 1-4 1-4 1 2 1 5 1-2 1-2 1 0 1-1 1 7 1 4 1-1 1-1 1-11 1 20 1-12 1-8 1 1 1 1 1 10 1-14 1 0 1 4 1 0 1 16 1-16 1 11 1-15 1 15 1-17 1 13 1-8 1-3 1-4 1 2 1-3 1 2 1 6 1 5 1-13 1 10 1-9 1 4 1 9 1-16 1 9 1 21 1-15 1 4 1 3 1-1 1-1 1-2 1 3 1 0 1-8 1 2 1 5 1-2 1 1 1-6 1 3 1 0 1-5 1-5 1-1 1 1 1-2 1 7 1 12 1-9 1-7 1 2 1 5 1-12 1 2 1 2 1-5 1-1 1 4 1 2 1 3 1 2 1 2 1 1 1-3 1-3 1-7 1 5 1-5 1 2 1-2 1 5 1-4 1 2 1 1 1 0 1 5 1 2 1-5 1 11 1-5 1-4 1 5 1 1 1 4 1-3 1 1 1 0 1-2 1 0 1-4 1 8 1-11 1 1 1-2 1-9 1 4 1-11 1 6 1 6 1 6 1 3 1 8 1-4 1 25 1-28 1 0 1 10 1-4 1-9 1 13 1-13 1-1 1 2 1 9 1-8 1 7 1 16 1-20 1 0 1-2 1-4 1 2 1 0 1-2 1-2 1 0 1 2 1 3 1 1 1-1 1-2 1-1 1-1 1-6 1 12 1 7 1 4 1 0 1 6 1-11 1 7 1-8 1 11 1 13 1-13 1-5 1 1 1-2 1-15 1 7 1 4 1 0 1-1 1 0 1 16 1-21 1 0 1 4 1-5 1 5 1 2 1-10 1 11 1-10 1-1 1-1 1 0 1 3 1-9 1 11 1-9 1-9 1 3 1 3 1 2 1 4 1 2 1 1 1-6 1 1 1-2 1-8 1-3 1 10 1 3 1 4 1-9 1 5 1-1 1 0 1 5 1 5 1-9 1 6 1-11 1 3 1 2 1-6 1-3 1 6 1 7 1 1 1 0 1-3 1 3 1 5 1-11 1 18 1 2 1-22 1-7 1 9 1 9 1-4 1-7 1 6 1 2 1-1 1-4 1-1 1 1 1 7 1 10 1-4 1-4 1 4 1 11 1-11 1 3 1 11 1-9 1-8 1 1 1-10 1 1 1 1 1-6 1 0 1 3 1 4 1-6 1-2 1 0 1 0 1-4 1 7 1-2 1-4 1 2 1 13 1-5 1 9 1-11 1 3 1 7 1-6 1-2 1 3 1 1 1-4 1 8 1-2 1-2 1-5 1 9 1 0 1 3 1-3 1 4 1 1 1-11 1 1 1-2 1-1 1 0 1 3 1 10 1-6 1 0 1 15 1-10 1-10 1 0 1 2 1-3 1 1 1-2 1-3 1-1 1 3 1 8 1-10 1 0 1 4 1 2 1 7 1-5 1 7 1-2 1-9 1 2 1 8 1-10 1-2 1 6 1-9 1 5 1 8 1-7 1 2 1-3 1 4 1-4 1-6 1 10 1-9 1-5 1 7 1-1 1 25 1-13 1 1 1 3 1 2 1-10 1 5 1-2 1-6 1 3 1-3 1 5 1 4 1-5 1-1 1-3 1 1 1-2 1-2 1-3 1 9 1-8 1 3 1 7 1 6 1 0 1-1 1-2 1 2 1 4 1-7 1 6 1-5 1 4 1 4 1-13 1-9 1 2 1 7 1-9 1 0 1 10 1-2 1-1 1-2 1 15 1-11 1-6 1 9 1-3 1-3 1 11 1-2 1 14 1-19 1 8 1 0 1-2 1-5 1-4 1 5 1-12 1 6 1 6 1-3 1 17 1-12 1 7 1-13 1 11 1-2 1 12 1-20 1-5 1-2 1-6 1 2 1 6 1 8 1 11 1-5 1 1 1 0 1-10 1-20 1 1 1-2 1 6 1 10 1 0 1-1 1-3 1 5 1-2 1-6 1 8 1 11 1-14 1-3 1 3 1 8 1-2 1 2 1 5 1 4 1-2 1-5 1 8 1-5 1 8 1-7 1-1 1 7 1 5 1-12 1-1 1 2 1 0 1-6 1 13 1-6 1-3 1 3 1-1 1 8 1-10" fill="none" stroke="#888" stroke-width="2.85" stroke-opacity="0.22" stroke-linejoin="round" vector-effect="non-scaling-stroke"/>
<path transform="translate(91.3,290.2) scale(0.25,0.1)" d="M0 -9l1 0 1 3 1-4 1 4 1-1 1 7 1 6 1-7 1-4 1 3 1-3 1-13 1 5 1 3 1-4 1-4 1 0 1 24 1-19 1-10 1-1 1 9 1-3 1 5 1-3 1 3 1 16 1-14 1-1 1-2 1-9 1 9 1 11 1 1 1 0 1 6 1 2 1-1 1 10 1-15 1 11 1-5 1 7 1-11 1 4 1-1 1-9 1 5 1 2 1-1 1 4 1-2 1 0 1 0 1 4 1 5 1-6 1 0 1-7 1 22 1-14 1 2 1-7 1 0 1-7 1 1 1-2 1 16 1-21 1 4 1 9 1-2 1 4 1 0 1-5 1 0 1-4 1 0 1-2 1-5 1 4 1 2 1 4 1-1 1 6 1 4 1 1 1 2 1-4 1-3 1-1 1 0 1 3 1 2 1 1 1 4 1 1 1-2 1-1 1-3 1 3 1 0 1-4 1 6 1-8 1-8 1-3 1 10 1-15 1 1 1 0 1 1 1-3 1 7 1-6 1 10 1-3 1-2 1-5 1 5 1 10 1-6 1-3 1 1 1 2 1-6 1 3 1 7 1-3 1-7 1 0 1-1 1-13 1 5 1 0 1 1 1 4 1 9 1 5 1 3 1 0 1 9 1-12 1-1 1 19 1-21 1-4 1 19 1-16 1 6 1 2 1-4 1 9 1-5 1-1 1-5 1-5 1 10 1-6 1 20 1-17 1 0 1-8 1-4 1 3 1 2 1-4 1 2 1 26 1-17 1-9 1 6 1 1 1-1 1-3 1 1 1 7 1-10 1-1 1-3 1-9 1-5 1 4 1 3 1 13 1-19 1 11 1 0 1 4 1 0 1-1 1 3 1-5 1 25 1-18 1 3 1-3 1-2 1 4 1 4 1 3 1 2 1 1 1 4 1 15 1-16 1-8 1 0 1 1 1 20 1-20 1 7 1-2 1-5 1 5 1 0 1-8 1 4 1-9 1-2 1-11 1 23 1-14 1 2 1 20 1-13 1 22 1-20 1 1 1 0 1-8 1-1 1-4 1 1 1-7 1 11 1 3 1-2 1 4 1-5 1 0 1 0 1-1 1 5 1-8 1 0 1 2 1-1 1-7 1 10 1 0 1 12 1-5 1 4 1-6 1 11 1-7 1-10 1 5 1-2 1 0 1-6 1 8 1-11 1 4 1 4 1-4 1 1 1-4 1 15 1-13 1-1 1 5 1 3 1 9 1 5 1 0 1-1 1-10 1 23 1-27 1 22 1-26 1 6 1 1 1-3 1 3 1 7 1-6 1-3 1 7 1-7 1-9 1 18 1-6 1-8 1-9 1-1 1 9 1 3 1-5 1-4 1-4 1 0 1-3 1 14 1-15 1 4 1 6 1 15 1-5 1 3 1 2 1 8 1 2 1-8 1-3 1 1 1-2 1-6 1-4 1 6 1 6 1 1 1 15 1-6 1-5 1 1 1 23 1-13 1-13 1 3 1-6 1 3 1 1 1-1 1 4 1 0 1 5 1-5 1-8 1-1 1-16 1 12 1-11 1 8 1-2 1-4 1 8 1 0 1-5 1-3 1 3 1 1 1-9 1-1 1 2 1-2 1-9 1 9 1 1 1 9 1-10 1 3 1 0 1 7 1-5 1 2 1 9 1 3 1-10 1 7 1 4 1 1 1 19 1-21 1 22 1-18 1 1 1-6 1 1 1 7 1-9 1 9 1-5 1-1 1 5 1 5 1-4 1 1 1 0 1-5 1 2 1-9 1 1 1-6 1-4 1 9 1-1 1 9 1-1 1 5 1-7 1 10 1-1 1-7 1-9 1 11 1-9 1-4 1 0 1 7 1 7 1-1 1-3 1 3 1-3 1-8 1 0 1 6 1 3 1 2 1-5 1 5 1-1 1-7 1 10 1-14 1 9 1-8 1 14 1-13 1 4 1 16 1-29 1 9 1-2 1 6 1 5 1-2 1-7 1 6 1-5 1-2 1-6 1 3 1 9 1-8 1 11 1 4 1-6 1 5 1 1 1-4 1 2 1-4 1-9 1 1 1 6 1-9 1 7 1 13 1-13 1 2 1 8 1-6 1 8 1-1 1 10 1 11 1-22 1 3 1-1 1 0 1 7 1-11 1-2 1 0 1 0 1-8 1 3 1 6 1 0 1 1 1-2 1-2 1-1 1-1 1-9 1 5 1-2 1 11 1-7 1 10 1 4 1-5 1-5 1-4 1 16 1 1 1-1 1 4 1-7 1 1 1-3 1-7 1 0 1 5 1 2 1 2 1 10 1 8 1-9 1-3 1-2 1-14 1 9 1-5 1 1 1-3 1 4 1-2 1 4 1 0 1-8 1 7 1-9 1-4 1-4 1 7 1 3 1-5 1 12 1-8 1 8 1-3 1 6 1-1 1-8 1 3 1-4 1 6 1-1 1 0 1-4 1 7 1-11 1 2 1 3 1 3 1-8 1 7 1-1 1 3 1-10 1 3 1 4 1-4 1 5 1-2 1 2 1-7 1 4 1-8 1 2 1 2 1 16 1 4 1-13 1 5 1-5 1 5 1 0 1-5 1-3 1 10 1 3 1 9 1-19 1 2 1-2 1-7 1 0 1 6 1-8 1 1 1-2 1 11 1 18 1-22 1-4 1 5 1-2 1 5 1-4 1 0 1 2 1-2 1 2 1-3 1 14 1-4 1 5 1-6 1-1 1 2 1 0 1-4 1 15 1-4 1-4 1-7 1-2 1-17 1 0 1 4 1 5 1 2 1-1 1 10 1-3 1-3 1-6 1-1 1 8 1 14 1-19 1-6 1 1 1 4 1-2 1 2 1-2 1 2 1-2 1 13 1-11 1-7 1-9 1 11 1 5 1-6 1-2 1 6 1 8 1 4 1-8 1 2 1-1 1 0 1-3 1-2 1-10 1 7 1 0 1-4 1 24 1-21 1 4 1 5 1-9 1 6 1-7 1 4 1 5 1 0 1 3 1 4 1 1 1 7 1 0 1-9 1 11 1-11 1 16 1 8 1-15 1-9 1-2 1 3 1 6 1 5 1-8 1 5 1-1 1-2 1 3 1-4 1-2 1 2 1 3 1-7 1-2 1-1 1 1 1 3 1-1 1-5 1 13 1-2 1-8 1 0 1-5 1-5 1-5 1 5 1-1 1 7 1-5 1 4 1 0 1-4 1 5 1-7 1 4 1 0 1-1 1 4 1 2 1-5 1 4 1-2 1 0 1 0 1 10 1-4 1-7 1-2 1 3 1-2 1 1 1 6 1-6 1 0 1 4 1 10 1-22 1-10 1 3 1 3 1 6 1 13 1 0 1 1 1 0 1-1 1 1 1-7 1-1 1-1 1 5 1 5 1-1 1 7 1-10 1 3 1 2 1-11 1-4 1 2 1 7 1-8 1 9 1-1 1-6 1 3 1 4 1-8 1 16 1-21 1 7 1 4 1 11 1-3 1-5 1 9 1-7 1 0 1-4 1-4 1 7 1-2 1 5 1 3 1-10 1 3 1-1 1 1 1 2 1-9 1 8 1-2 1 11 1 1 1-10 1 3 1 8 1-2 1-14 1-2 1 0 1-4 1-10 1 1 1-2 1 12 1 3 1-9 1 15 1 11 1-9 1-4 1 0 1 0 1-5 1 5 1-1 1-2 1 16 1-2 1-7 1-1 1 2 1 2 1-3 1-1 1-11 1 5 1 2 1 0 1-6 1-3 1 3 1-3 1 7 1 16 1-15 1-2 1 2 1-7 1 9 1 8 1-4 1 3 1 2 1-2 1-1 1 11 1-11 1 3 1-14 1 7 1 15 1-11 1-2 1 17 1-17 1-6 1 30 1-30 1 1 1 5 1-10 1 8 1-6 1 2 1 0 1 1 1-2 1-3 1-2 1 7 1-5 1 3 1-2 1 6 1 3 1-6 1-3 1 6 1-5 1 7 1 0 1 2 1-9 1 12 1-3 1 12 1-15 1-6 1 9 1 2 1-17 1 5 1 9 1-10 1 2 1 22 1-20 1 0 1 0 1-7 1 3 1 5 1 3 1-3 1 3 1-9 1-9 1 2 1 10 1 19 1-19 1 3 1 3 1 0 1-12 1 7 1 0 1-7 1 1 1-4 1 10 1-3 1 1 1-3 1 8 1 4 1-12 1 4 1-4 1 10 1-5 1 5 1 5 1-3 1-8 1 4 1-3 1 2 1-7 1 7 1 6 1-15 1 2 1 2 1 2 1-7 1 1 1-3 1 29 1-28 1 6 1 6 1-1 1-2 1-2 1-1 1 1 1 4 1-6 1 1 1 2 1-1 1 3 1 2 1-1 1 0 1 12 1-1 1-8 1 8 1 6 1-1 1 1 1-10 1-2 1-7 1-1 1 3 1 1 1 4 1-4 1-5 1-4 1-5 1 0 1 6 1-1 1-10 1 3 1-5 1-8 1 10 1 2 1-7 1-1 1 4 1 4 1 10 1 1 1 11 1-5 1-1 1 7 1-14 1 6 1 21 1-27 1 5 1-13 1 9 1-9 1 0 1-3 1 7 1-6 1 3 1 1 1 5 1 6 1-6 1-1 1 1 1 13 1-3 1 3 1 7 1-3 1-4 1 0 1-5 1 12 1-12 1-1 1 3 1-3 1 10 1-2 1 13 1-13 1 5 1-7 1 1 1 4 1-2 1 0 1-6 1 4 1-5 1 0 1 2 1-4 1-3 1-1 1 18 1-18 1-2 1 3 1-6 1 0 1 5 1-4 1 0 1-4 1 5 1-8 1-1 1 2 1-4 1 4 1 4 1 9 1-10 1 11 1-1 1 0 1 6 1-4 1-2 1 1 1-1 1 5 1 5 1-3 1-8 1 8 1 4 1 1 1-16 1 3 1 1 1 6 1-9 1 11 1 3 1-13 1 3 1 9 1-7 1 4 1 3 1 10 1-12 1-4 1 7 1-7 1 3 1-6 1 0 1 4 1-2 1-2 1 1 1 15 1-19 1-3 1 1 1 1 1 1 1-2 1 9 1-6 1 11 1 0 1 11 1-6 1 7 1-12 1-3 1-5 1 17 1-14 1 1 1-1 1-7 1-2 1 6 1 6 1-20 1 5 1 19 1-15 1 5 1-2 1 2 1 5 1 1 1-1 1-6 1 3 1 1 1 21 1-19 1-2 1 9 1-5 1 4 1 2 1-4 1 4 1 2 1-14 1-2 1-2 1-5 1 2 1-9 1-7 1 9 1 10 1-14 1 11 1 7 1-5 1-4 1-4 1 6 1 0 1 11 1-11 1 3 1-1 1-2 1-4 1-2 1 2 1 2 1 5 1 13 1-6 1-4 1 3 1-2 1-12 1 13 1-11 1 3 1 21 1-17 1 13 1-2 1 0 1-5 1 1 1 6 1-12 1-5 1 6 1-11 1 3 1-5 1 11 1 1 1 11 1-11 1-4 1 5 1 11 1-9 1-4 1 5 1-3 1 7 1-8 1 2 1 7 1-11 1 6 1 5 1 6 1-3 1 0 1 5 1-15 1-6 1 5 1-6 1-2 1 9 1-1 1 4 1-3 1-6 1 3 1-17 1 5 1-1 1 0 1-2 1-1 1 9 1 24 1-22 1-9 1 14 1-5 1 6 1-6 1 3 1 2 1 4 1 6 1-1 1-1 1 5 1-4 1-6 1 17 1-12 1-8 1 4 1-7 1-1 1 4 1-9 1-5 1-1 1 6 1 7 1-1 1 0 1-4 1 4 1-1 1 3 1-1 1 6 1-9 1 7 1-2 1 9 1-15 1 7 1 16 1-20 1-5 1 10 1-12 1 7 1-3 1 7 1 2 1 6 1-8 1 7 1-7 1-1 1 3 1 2 1 7 1-10 1 2 1-4 1-2 1 7 1 8 1-4 1-3 1 4 1-4 1-7 1 0 1 6 1 2 1-2 1-7 1-2 1 4 1-5 1 5 1-2 1 14 1-11 1-6 1 2 1 4 1-1 1 8 1-20 1 18 1-10 1-2 1-1 1-1 1 4 1-5 1 1 1 3 1 5 1 3 1-3 1 4 1-2 1 1 1-3 1 3 1 2 1-3 1 9 1 14 1 3 1-19 1 4 1 6 1-2 1 5 1-3 1-4 1 12 1-14 1-6 1 6 1-12 1 3 1-4 1 0 1-2 1 23 1-28 1 1 1 1 1-6 1-1 1-1 1 9 1 6 1-3 1 2 1 0 1 0 1-3 1 1 1 6 1-8 1 7 1 2 1-3 1-1 1-2 1 7 1-8 1 3 1 2 1 0 1-5 1 0 1-7 1 4 1-3 1 7 1 0 1 4 1 0 1-2 1-4 1-7 1 0 1 2 1 21 1-11 1 2 1 2 1 2 1 0 1-4 1 5 1 7 1-9 1-9 1 7 1 3 1-2 1-2 1 8 1-3 1-7 1 8 1-12 1 0 1-7 1 8 1 5 1 0 1-5 1 4 1-10 1 6 1-13 1 7 1-3 1 2 1 3 1 4 1-8 1 4 1 2 1 1 1 0 1 1 1-4 1 1 1-4 1-3 1 22 1-17 1 2 1 5 1 5 1-4 1 13 1 0 1 3 1-4 1 7 1 1 1-6 1-10 1-2 1 1 1-1 1-7 1 6 1 1 1-1 1 0 1-3 1 2 1 3 1-1 1 9 1 1 1-3 1-7 1 8 1-5 1 2 1-14 1 4 1 6 1 4 1-2 1 5 1 21 1-24 1 3 1-1 1 4 1 18 1-26 1 1 1-4 1 8 1-13 1 4 1 3 1-4 1 6 1-5 1 5 1-7 1-4 1 4 1-6 1-6 1 0 1 10 1-3 1 2 1-1 1 3 1-1 1-1 1-1 1-2 1-1 1-4 1 6 1 1 1 7 1 0 1 1 1-5 1-6 1 4 1-6 1 14 1 2 1-4 1-2 1 3 1-5 1-2 1-2 1 1 1 3 1 9 1-2 1 3 1-6 1 4 1-10 1 6 1 4 1-3 1 5 1-14 1 10 1-3 1-3 1 1 1-4 1 4 1-7 1 5 1 5 1 6 1 1 1 2 1-2 1 3 1-7 1-7 1-1 1 0 1 2 1 1 1-7 1-1 1 2 1-3 1 8 1 1 1 6 1 3 1 14 1-11 1-5 1-1 1-7 1 4 1-3 1-6 1-6 1 11 1-1 1 9 1-17 1 7 1-3 1 6 1-10 1 9 1 6 1 12 1-16 1 0 1-5 1 0 1-3 1 12 1-3 1 1 1 0 1 5 1 2 1 0 1-9 1 4 1 15 1-5 1-13 1-3 1-1 1-2 1 11 1-2 1-1 1 1 1-2 1 3 1-7 1 7 1-7 1 0 1 1 1 2 1 4 1-17 1-5 1 13 1-7 1-6 1 4 1 2 1 4 1-7 1 5 1 0 1 19 1-14 1-3 1 6 1 2 1-9 1 11 1-5 1-2 1 12 1-4 1-2 1 6 1-1 1 17 1-13 1 1 1-12 1-3 1-6 1-5 1-4 1 1 1 13 1-4 1 5 1 0 1 4 1-7 1-5 1 17 1-13 1 1 1 6 1 4 1-9 1 5 1-1 1-5 1 23 1-24 1 6 1-2 1-6 1 2 1 2 1 3 1-6 1 18 1-6 1-3 1 0 1-1 1 1 1-3 1-5 1 3 1 12 1-5 1 4 1-4 1 1 1-2 1-4 1 10 1-2 1-6 1 2 1 3 1 1 1 0 1-3 1-4 1 2 1-3 1-12 1 1 1 6 1-1 1-5 1 0 1 7 1 3 1 0 1 0 1 4 1 8 1-11 1 4 1 1 1 13 1-21 1-1 1 5 1 2 1-8 1-2 1 5 1-3 1-3 1 6 1 4 1-3 1 1 1-1 1 11 1-5 1-9 1 8 1 1 1-1 1 4 1 1 1 2 1 5 1 1 1 4 1-4 1-10 1 4 1 11 1-4 1-4 1 2 1-8 1 5 1 1 1-11 1-7 1 1 1 4 1-5 1-1 1 6 1 10 1-6 1-7 1-2 1 10 1-6 1-2 1-8 1 0 1-2 1 2 1 3 1 7 1 2 1-3 1 13 1-3 1 2 1-5 1 2 1-6 1-5 1 1 1 5 1-2 1-5 1 5 1 0 1-3 1 2 1-7 1 13 1-10 1-4 1-1 1-2 1 17 1-18 1 5 1-5 1 11 1-4 1 1 1-3 1-2 1 5 1-5 1-6 1 0 1-4 1 5 1-3 1 5 1 11 1-15 1 0 1 1 1-10 1 5 1-3 1 4 1 9 1-4 1 4 1-5 1 1 1 5 1-2 1-6 1 7 1 2 1-4 1 4 1 5 1-5 1 9 1-12 1 7 1 14 1-11 1-7 1 2 1-3 1 6 1-7 1 7 1-11 1 0 1 2 1-8 1 13 1 15 1-17 1-1 1-1 1 4 1 1 1 0 1 5 1 2 1 0 1-1 1-3 1-4 1 12 1-14 1 11 1-3 1-2 1 4 1 2 1-6 1 7 1-2 1-4 1-4 1 2 1 5 1-2 1-2 1 0 1-1 1 7 1 4 1-1 1-1 1-11 1 20 1-12 1-8 1 1 1 1 1 10 1-14 1 0 1 4 1 0 1 16 1-16 1 11 1-15 1 15 1-17 1 13 1-8 1-3 1-4 1 2 1-3 1 2 1 6 1 5 1-13 1 10 1-9 1 4 1 9 1-16 1 9 1 21 1-15 1 4 1 3 1-1 1-1 1-2 1 3 1 0 1-8 1 2 1 5 1-2 1 1 1-6 1 3 1 0 1-5 1-5 1-1 1 1 1-2 1 7 1 12 1-9 1-7 1 2 1 5 1-12 1 2 1 2 1-5 1-1 1 4 1 2 1 3 1 2 1 2 1 1 1-3 1-3 1-7 1 5 1-5 1 2 1-2 1 5 1-4 1 2 1 1 1 0 1 5 1 2 1-5 1 11 1-5 1-4 1 5 1 1 1 4 1-3 1 1 1 0 1-2 1 0 1-4 1 8 1-11 1 1 1-2 1-9 1 4 1-11 1 6 1 6 1 6 1 3 1 8 1-4 1 25 1-28 1 0 1 10 1-4 1-9 1 13 1-13 1-1 1 2 1 9 1-8 1 7 1 16 1-20 1 0 1-2 1-4 1 2 1 0 1-2 1-2 1 0 1 2 1 3 1 1 1-1 1-2 1-1 1-1 1-6 1 12 1 7 1 4 1 0 1 6 1-11 1 7 1-8 1 11 1 13 1-13 1-5 1 1 1-2 1-15 1 7 1 4 1 0 1-1 1 0 1 16 1-21 1 0 1 4 1-5 1 5 1 2 1-10 1 11 1-10 1-1 1-1 1 0 1 3 1-9 1 11 1-9 1-9 1 3 1 3 1 2 1 4 1 2 1 1 1-6 1 1 1-2 1-8 1-3 1 10 1 3 1 4 1-9 1 5 1-1 1 0 1 5 1 5 1-9 1 6 1-11 1 3 1 2 1-6 1-3 1 6 1 7 1 1 1 0 1-3 1 3 1 5 1-11 1 18 1 2 1-22 1-7 1 9 1 9 1-4 1-7 1 6 1 2 1-1 1-4 1-1 1 1 1 7 1 10 1-4 1-4 1 4 1 11 1-11 1 3 1 11 1-9 1-8 1 1 1-10 1 1 1 1 1-6 1 0 1 3 1 4 1-6 1-2 1 0 1 0 1-4 1 7 1-2 1-4 1 2 1 13 1-5 1 9 1-11 1 3 1 7 1-6 1-2 1 3 1 1 1-4 1 8 1-2 1-2 1-5 1 9 1 0 1 3 1-3 1 4 1 1 1-11 1 1 1-2 1-1 1 0 1 3 1 10 1-6 1 0 1 15 1-10 1-10 1 0 1 2 1-3 1 1 1-2 1-3 1-1 1 3 1 8 1-10 1 0 1 4 1 2 1 7 1-5 1 7 1-2 1-9 1 2 1 8 1-10 1-2 1 6 1-9 1 5 1 8 1-7 1 2 1-3 1 4 1-4 1-6 1 10 1-9 1-5 1 7 1-1 1 25 1-13 1 1 1 3 1 2 1-10 1 5 1-2 1-6 1 3 1-3 1 5 1 4 1-5 1-1 1-3 1 1 1-2 1-2 1-3 1 9 1-8 1 3 1 7 1 6 1 0 1-1 1-2 1 2 1 4 1-7 1 6 1-5 1 4 1 4 1-13 1-9 1 2 1 7 1-9 1 0 1 10 1-2 1-1 1-2 1 15 1-11 1-6 1 9 1-3 1-3 1 11 1-2 1 14 1-19 1 8 1 0 1-2 1-5 1-4 1 5 1-12 1 6 1 6 1-3 1 17 1-12 1 7 1-13 1 11 1-2 1 12 1-20 1-5 1-2 1-6 1 2 1 6 1 8 1 11 1-5 1 1 1 0 1-10 1-20 1 1 1-2 1 6 1 10 1 0 1-1 1-3 1 5 1-2 1-6 1 8 1 11 1-14 1-3 1 3 1 8 1-2 1 2 1 5 1 4 1-2 1-5 1 8 1-5 1 8 1-7 1-1 1 7 1 5 1-12 1-1 1 2 1 0 1-6 1 13 1-6 1-3 1 3 1-1 1 8 1-10" fill="none" stroke="#2a2a2a" stroke-width="1.25" stroke-linejoin="round" vector-effect="non-scaling-stroke"/>
<path d="M103.20 290.20 L103.30 299.50 L103.50 292.99 L103.85 291.13 L104.60 290.60 M253.10 290.20 L253.20 319.80 L253.40 299.08 L253.75 293.16 L254.50 290.60 M297.20 290.20 L297.30 295.00 L297.50 291.64 L297.85 290.68 L298.60 290.60 M303.90 290.20 L304.00 295.80 L304.20 291.88 L304.55 290.76 L305.30 290.60 M395.10 290.20 L395.20 298.50 L395.40 292.69 L395.75 291.03 L396.50 290.60 M414.00 290.20 L414.10 311.00 L414.30 296.44 L414.65 292.28 L415.40 290.60 M545.10 290.20 L545.20 294.00 L545.40 291.34 L545.75 290.58 L546.50 290.60 M565.90 290.20 L566.00 298.00 L566.20 292.54 L566.55 290.98 L567.30 290.60 M644.10 290.20 L644.20 305.70 L644.40 294.85 L644.75 291.75 L645.50 290.60 " fill="none" stroke="#7c7c7c" stroke-width="0.8" stroke-linejoin="round"/>
<path d="M103.35 290.70 V293.92 M253.25 290.70 V302.04 M297.35 290.70 V292.12 M304.05 290.70 V292.44 M395.25 290.70 V293.52 M414.15 290.70 V298.52 M545.25 290.70 V291.72 M566.05 290.70 V293.32 M644.25 290.70 V296.40 " fill="none" stroke="#5a5a5a" stroke-width="0.9"/>
<path transform="translate(92.1,338.9) scale(0.25,0.1)" d="M0 5l1 1 1 3 1-10 1-8 1 2 1 6 1-6 1 7 1 0 1 2 1 6 1 0 1-2 1 1 1 2 1-2 1-2 1-12 1 7 1 4 1-9 1-3 1 11 1-5 1-7 1 10 1-3 1-10 1 5 1-6 1 7 1 1 1 2 1-2 1 4 1 1 1-4 1-5 1 7 1-3 1-5 1 0 1-1 1 2 1 3 1-10 1 2 1-1 1 10 1-12 1 12 1 9 1-3 1 1 1-4 1-6 1-12 1 6 1-1 1-5 1 6 1 6 1 1 1 0 1-11 1 5 1-6 1 5 1-2 1 8 1 0 1 6 1 1 1 2 1 7 1-9 1 1 1 2 1-9 1 4 1-2 1-5 1 0 1 7 1 0 1-3 1 4 1-1 1 10 1-2 1 0 1 3 1-6 1 12 1-3 1 2 1-2 1-3 1-4 1-2 1-4 1 10 1-1 1 8 1-9 1 3 1-4 1 1 1-8 1 0 1 4 1-3 1 12 1-4 1-2 1 2 1-8 1 3 1 6 1-4 1 7 1-7 1-3 1 5 1 4 1-5 1 2 1-8 1 4 1 4 1-6 1 2 1-4 1-9 1 5 1 6 1-7 1 19 1-9 1 2 1 0 1-8 1 6 1-11 1 8 1-2 1-2 1 4 1-8 1 5 1-1 1 1 1-6 1 4 1 8 1-10 1-3 1 2 1 3 1 4 1-7 1 0 1 2 1 3 1-2 1-9 1-2 1 6 1 1 1-2 1 0 1-7 1 0 1-3 1-5 1 3 1-1 1 10 1 1 1-4 1 7 1 0 1-2 1 0 1 0 1 4 1-11 1 4 1 6 1 5 1-3 1 0 1-3 1 1 1-5 1 3 1-6 1-3 1 9 1 1 1-2 1 11 1 0 1-10 1 10 1-3 1 3 1-6 1 6 1-1 1 4 1-4 1-5 1 1 1 5 1-4 1-5 1 2 1-1 1-2 1-3 1 1 1-6 1 13 1-11 1-3 1 10 1-3 1 1 1 4 1-5 1 6 1-6 1-4 1-3 1-1 1-1 1-1 1-1 1 10 1 4 1 0 1-1 1-2 1 9 1-11 1 9 1-1 1 6 1-3 1 6 1 3 1-4 1 11 1-5 1 4 1 3 1-2 1-7 1 1 1 0 1-7 1 2 1-1 1 6 1-5 1 4 1 8 1 1 1-10 1-1 1 11 1-1 1-8 1 3 1-2 1 4 1-4 1-1 1 0 1 2 1 1 1-1 1 3 1 0 1 0 1 6 1 1 1-3 1-2 1 0 1-1 1 3 1 9 1-6 1-6 1-1 1 6 1-9 1-8 1 8 1 4 1-4 1 3 1-6 1 1 1-6 1-3 1 5 1-5 1 1 1 6 1-5 1-2 1 4 1-1 1 5 1 3 1 0 1 6 1-8 1 3 1-4 1 6 1-2 1 6 1-1 1-11 1 5 1 0 1 3 1-5 1 9 1-2 1-4 1-2 1 1 1-1 1-1 1 0 1-2 1 0 1-2 1-3 1 3 1-2 1-1 1-1 1-3 1 13 1-5 1-2 1-1 1 5 1 4 1-2 1-6 1 4 1 1 1-4 1 2 1 0 1-2 1-6 1 2 1 4 1-7 1 2 1 0 1 2 1 7 1 0 1 3 1-3 1 4 1-4 1 1 1-5 1 3 1 2 1 2 1-2 1 9 1-5 1 0 1 2 1 0 1-4 1-3 1 4 1-1 1-4 1-8 1 8 1-4 1-4 1 2 1 2 1 0 1-3 1-2 1-4 1-6 1 13 1-6 1 8 1 0 1-3 1 1 1-5 1-2 1-7 1 1 1 1 1 1 1-2 1 4 1 3 1 1 1 3 1 4 1 3 1-1 1-6 1-4 1 1 1-5 1-2 1 9 1 9 1-6 1 8 1 3 1-7 1 7 1 0 1-5 1 0 1 3 1-7 1 8 1 1 1-7 1-3 1 8 1-4 1-1 1 3 1 3 1 2 1 0 1 10 1 5 1-1 1-6 1-2 1 3 1-12 1 2 1 3 1-3 1 0 1-5 1-4 1-2 1 2 1 0 1 1 1 0 1-6 1 0 1-1 1 2 1-2 1-1 1-1 1-3 1-4 1-2 1-1 1 0 1 3 1 5 1 2 1 3 1-4 1-1 1 2 1-4 1 0 1 7 1 2 1 4 1 2 1-2 1 10 1-3 1 8 1-10 1-2 1-1 1-4 1 0 1 2 1-3 1 1 1 7 1 2 1 0 1-3 1 4 1 3 1 0 1 0 1 0 1-4 1 3 1 7 1-8 1 5 1-1 1-8 1 8 1-5 1-5 1 9 1-8 1 4 1-7 1-2 1-1 1 4 1 2 1-4 1 3 1 7 1 1 1-5 1 1 1 2 1-11 1 3 1-4 1 1 1 0 1 4 1 4 1-6 1 6 1-3 1 7 1-5 1-3 1-3 1 0 1 8 1-12 1 3 1 1 1-4 1-1 1 8 1-3 1-1 1-5 1 4 1-6 1-8 1 4 1 5 1 9 1-10 1 3 1 10 1-13 1 2 1 0 1-6 1-2 1 4 1 5 1-3 1-2 1 4 1 4 1-8 1 2 1 7 1-9 1-2 1-2 1 4 1 12 1-10 1 9 1 8 1-4 1 1 1-9 1 6 1-4 1-3 1 3 1 3 1 6 1 3 1-6 1-6 1-4 1 8 1-4 1-11 1 7 1-4 1 9 1-1 1 1 1 6 1-4 1-1 1-10 1 2 1 2 1 0 1 6 1-2 1 5 1 2 1 0 1-5 1-7 1-1 1 3 1 1 1-4 1-4 1 16 1-2 1-4 1-1 1 0 1-5 1-2 1-5 1 0 1-1 1 1 1 11 1 2 1 2 1 4 1-10 1 3 1-11 1 2 1 3 1 1 1 1 1 0 1 3 1-2 1-3 1 3 1-9 1 0 1 3 1-3 1 8 1-6 1 5 1 0 1-6 1 2 1 1 1 2 1 6 1-2 1-2 1 7 1 0 1 5 1 1 1-4 1 2 1-3 1-6 1 7 1-10 1 3 1-3 1 8 1-1 1-7 1 0 1 7 1-10 1 3 1 8 1-6 1 5 1 2 1-2 1 0 1 6 1 0 1-2 1-7 1-4 1 8 1-1 1-4 1 2 1-6 1 7 1 0 1-4 1-2 1 1 1 1 1 0 1 7 1-4 1 3 1-3 1 2 1 6 1 3 1-5 1-1 1 8 1-1 1-3 1-7 1 7 1-12 1 3 1 5 1-6 1 13 1-5 1 0 1 3 1-8 1 2 1-3 1 5 1 2 1-7 1 2 1-5 1-1 1 10 1-2 1-3 1 1 1 1 1 4 1-4 1 0 1-4 1-1 1-5 1 3 1-2 1 0 1-4 1 3 1-6 1 2 1 0 1 1 1-1 1-4 1 2 1 3 1 1 1 2 1 6 1-4 1-8 1 16 1-4 1 1 1 0 1 4 1 0 1-7 1 5 1-3 1 8 1 1 1 0 1 2 1 0 1 5 1 7 1-13 1-7 1 5 1 6 1-15 1 6 1 8 1 3 1 1 1-2 1-4 1-1 1-2 1 1 1-7 1 1 1-6 1-5 1 16 1 1 1-2 1-7 1 2 1 3 1-5 1 0 1 0 1 5 1-8 1-4 1-1 1-1 1 5 1-2 1 1 1-4 1-3 1 6 1-5 1 9 1 2 1 1 1 3 1-1 1-7 1 2 1-4 1-3 1 5 1 4 1-1 1-3 1 2 1 1 1 3 1 7 1-5 1 9 1-5 1 4 1-4 1 1 1-4 1-3 1 7 1 4 1-10 1-4 1 0 1 3 1-4 1-4 1 9 1 2 1 2 1 2 1 0 1 3 1-8 1-7 1 11 1-3 1-6 1 0 1-2 1-3 1 1 1 3 1 1 1 7 1-1 1-1 1 4 1-8 1 0 1 3 1 5 1 3 1-11 1 2 1 3 1 5 1 2 1-4 1-5 1 3 1 1 1 2 1-4 1 2 1 7 1-7 1 6 1 0 1-7 1-4 1 3 1 4 1-4 1 8 1-4 1 0 1-5 1-2 1-3 1 6 1 4 1-6 1 0 1 0 1-8 1 3 1 6 1 1 1 6 1-5 1-8 1-1 1 1 1 1 1 8 1 1 1-4 1 2 1 8 1 3 1-6 1-1 1 5 1-3 1 3 1-6 1-1 1 2 1-1 1 0 1-2 1 0 1 1 1 4 1-3 1-7 1 0 1-2 1 8 1-6 1 6 1-6 1 8 1-5 1 1 1 1 1-2 1 4 1-1 1 4 1-3 1 5 1-1 1-2 1-5 1-3 1 9 1-3 1 5 1-4 1-3 1-3 1-4 1-1 1 3 1-4 1 8 1-6 1 2 1 2 1 0 1 0 1 4 1-13 1 6 1-4 1 2 1-1 1 0 1 10 1-6 1 2 1 2 1 10 1-7 1 5 1-5 1 1 1 1 1-6 1 2 1 12 1-12 1 1 1 0 1-6 1-6 1 7 1 6 1-4 1 8 1-2 1-3 1 2 1-2 1-4 1-9 1-4 1-2 1 7 1-1 1-5 1 3 1-1 1 3 1-10 1 3 1 4 1-7 1 7 1 2 1-4 1 5 1 10 1-2 1-3 1-2 1 4 1-3 1 4 1-6 1 6 1-11 1-6 1 2 1 1 1 7 1-1 1-5 1 8 1-1 1 5 1-4 1 5 1-1 1 1 1-5 1-3 1-3 1-4 1 2 1 2 1-3 1-2 1 4 1 5 1-5 1 1 1 1 1 2 1-5 1 5 1-4 1-12 1 4 1 6 1-1 1-8 1 9 1 0 1 7 1 5 1-2 1 5 1 1 1-3 1-8 1 7 1-1 1-5 1-4 1 2 1-3 1 5 1-14 1 13 1-4 1 7 1-9 1 9 1-1 1-8 1 1 1-1 1 4 1-6 1-2 1 14 1-17 1 2 1 5 1 5 1 1 1 1 1 4 1-1 1-7 1 5 1-8 1 0 1 1 1-4 1 5 1-1 1-2 1 2 1 1 1 5 1-3 1-2 1 3 1 2 1 3 1 0 1 11 1-4 1-3 1 2 1 1 1-3 1 0 1-6 1-6 1 3 1-9 1 3 1-3 1 4 1 0 1-3 1 4 1 0 1 8 1-5 1-2 1 9 1-8 1 0 1-1 1-4 1 2 1-6 1 3 1-1 1 4 1-2 1-3 1 4 1 5 1 6 1-6 1 6 1 3 1 0 1-5 1-4 1-1 1-4 1 6 1 1 1-1 1 14 1-13 1 9 1 7 1-3 1 2 1-8 1-2 1-2 1 4 1 4 1-13 1 10 1-1 1 0 1 2 1-4 1 9 1 6 1-6 1-10 1 10 1 3 1 4 1-7 1-3 1 3 1 2 1-2 1-4 1-1 1 7 1-12 1-5 1-1 1 2 1-3 1-3 1 5 1 7 1-13 1 12 1-1 1 3 1-2 1 3 1 2 1-4 1-5 1 8 1-3 1-3 1 7 1-1 1 0 1-4 1 14 1-9 1-5 1 0 1-1 1-1 1 3 1-6 1-2 1 6 1 0 1 1 1 5 1 0 1 6 1 0 1-4 1 7 1-2 1-3 1-5 1 2 1-1 1-4 1 2 1 1 1 0 1-3 1-1 1 8 1-5 1 1 1-2 1 4 1-7 1-3 1-3 1 9 1-15 1-2 1 0 1 4 1-4 1 2 1-2 1 3 1 3 1 6 1 4 1-4 1 3 1 4 1 2 1-3 1 3 1-7 1 6 1 9 1-4 1 1 1 0 1-6 1-7 1 4 1 1 1-1 1-1 1 3 1 1 1-12 1 3 1-4 1 3 1-2 1-1 1 11 1-8 1 5 1 2 1-5 1 5 1 2 1 2 1-7 1 4 1 2 1 0 1-3 1 5 1-4 1 0 1 1 1 6 1-1 1-1 1 2 1 10 1-3 1-1 1 3 1-14 1 5 1-7 1 3 1 4 1-1 1 0 1 0 1-8 1-2 1-2 1 13 1-7 1-4 1-1 1 5 1-12 1 2 1 1 1-7 1 6 1 7 1-4 1 0 1 5 1 1 1 0 1-2 1 0 1 2 1 4 1 4 1 7 1-14 1 11 1-1 1 5 1-5 1-8 1 1 1-1 1 3 1-2 1 9 1-4 1 0 1 2 1-6 1 1 1-8 1 0 1 1 1-5 1 1 1 10 1 0 1 3 1-9 1 2 1 6 1 5 1-1 1 1 1-10 1 6 1 3 1-1 1 1 1 1 1-1 1-8 1 5 1-1 1 8 1-1 1 5 1 0 1-1 1-1 1 0 1-10 1 4 1-1 1 1 1-9 1 11 1-5 1 6 1-1 1-2 1-4 1 5 1-8 1 2 1-4 1-2 1 6 1-3 1-2 1 5 1-1 1 3 1-6 1-4 1 0 1-5 1 1 1 3 1 3 1-5 1 6 1-5 1 6 1-5 1 10 1-7 1 4 1 0 1 4 1-4 1-1 1 11 1-5 1-10 1 4 1-8 1 7 1-5 1-7 1 2 1-9 1 6 1-1 1 8 1 4 1-9 1-4 1 6 1 4 1 0 1 2 1 4 1-6 1 3 1 2 1 10 1-6 1-5 1 7 1-9 1 4 1-2 1-1 1 7 1-9 1 7 1-4 1-4 1-6 1 2 1-1 1-8 1 19 1-9 1 4 1 1 1-5 1 5 1 0 1-4 1-1 1 10 1 4 1-8 1-3 1 6 1 6 1-1 1 7 1-3 1-5 1-3 1-2 1-8 1 0 1 1 1-5 1 7 1 0 1 1 1-1 1 9 1 5 1-11 1 7 1 5 1 10 1-10 1 6 1-5 1 2 1-3 1-1 1 0 1-5 1-11 1 5 1-5 1 10 1 4 1 2 1 5 1 6 1-7 1 6 1-10 1 6 1-5 1 2 1-8 1 1 1-3 1 2 1 0 1 2 1-8 1 6 1-13 1 6 1-2 1 3 1 0 1-3 1 8 1 5 1-14 1 2 1-1 1-8 1 1 1-2 1 0 1-1 1 6 1-4 1-2 1 5 1 0 1 3 1 0 1-7 1 5 1-6 1 5 1-4 1 7 1-9 1 4 1 6 1-1 1 2 1 7 1-4 1-1 1-5 1-3 1 0 1 3 1 2 1 4 1 4 1 3 1-3 1-3 1 2 1 6 1-3 1-5 1 13 1-5 1-3 1-1 1-2 1 3 1-5 1 2 1 7 1-8 1-4 1-1 1-6 1-3 1 4 1 0 1 4 1-3 1-2 1-2 1-5 1-7 1 4 1 6 1-3 1 3 1 1 1 10 1-7 1 8 1-9 1-7 1 4 1-7 1-10 1 11 1-4 1 3 1 3 1 5 1-3 1 11 1 4 1-3 1 2 1-3 1-2 1 5 1-1 1-3 1 2 1 5 1 7 1-8 1 1 1 7 1 1 1 2 1-12 1-4 1-1 1-4 1 6 1-5 1 4 1 10 1 3 1-10 1 5 1-10 1 3 1 1 1 8 1-1 1 1 1-2 1 3 1-9 1-5 1 0 1-3 1 2 1 6 1-3 1 8 1-6 1-7 1 3 1 1 1 6 1-1 1 4 1 2 1 5 1-7 1 0 1-9 1 2 1 2 1-1 1 2 1-3 1 12 1 1 1 0 1-7 1-10 1-2 1 2 1-4 1-1 1-3 1 5 1 2 1-2 1 4 1-7 1 1 1 4 1 6 1-5 1-2 1-1 1 3 1-10 1 6 1 0 1-2 1 2 1 0 1 2 1-6 1 11 1-7 1 3 1 1 1 5 1-3 1 6 1-7 1 3 1 1 1 3 1-2 1-1 1-5 1 0 1 5 1 5 1-3 1 1 1 11 1 0 1 1 1-7 1 5 1 0 1-6 1-4 1 0 1 6 1-2 1-5 1 4 1 2 1-4 1-4 1-3 1 7 1 4 1-2 1 1 1 0 1 2 1-9 1 5 1-6 1 0 1 2 1-2 1 3 1-2 1 1 1-4 1 5 1-3 1-3 1-1 1 8 1-2 1-2 1 6 1-4 1 6 1-3 1-4 1 8 1 2 1-9 1 3 1-5 1 2 1 1 1-4 1 6 1-4 1 9 1 0 1 0 1 4 1 5 1-1 1-2 1-7 1 2 1 0 1-19 1 0 1 9 1 3 1 3 1-4 1-3 1 2 1-4 1-5 1 8 1-3 1 8 1-1 1 1 1-2 1-4 1 4 1-1 1-1 1 7 1-5 1 7 1-11 1 3 1-4 1-4 1 7 1-5 1 2 1 0 1-1 1 1 1 5 1-5 1 1 1-2 1 4 1 1 1-7 1 6 1-4 1 2 1 2 1 7 1 4 1-1 1-1 1 0 1 9 1 1 1-11 1-7 1-3 1 0 1-6 1-1 1 3 1 6 1-4 1 8 1-6 1 8 1 0 1-11 1 8 1 0 1-3 1 5 1-9 1 12 1 3 1-9 1 4 1-2 1-1 1-1 1-5 1-5 1 8 1 2 1 2 1-6 1-3 1 7 1-12 1 3 1-5 1 6 1-9 1 5 1-3 1 7 1 0 1-1 1-1 1-4 1 7 1-1 1-2 1-3 1 0 1-3 1 0 1 3 1 1 1-1 1-1 1 1 1-2 1 7 1-10 1-4 1 10 1-1 1 0 1-4 1 4 1 3 1 15 1-1 1 10 1 4 1 7 1-11 1-9 1 0 1-6 1 5 1 0 1 4 1-6 1 12 1-7 1 10 1-3 1 2 1-4 1-5 1 2 1-8 1-4 1 1 1 11 1-6 1 3 1 2 1-9 1-2 1 6 1 1 1-1 1 9 1 4 1-10 1 2 1-7 1-4 1-2 1 1 1-2 1 9 1-4 1-7 1 3 1 0 1 6 1-8 1 4 1 3 1 3 1-2 1 5 1 0 1-8 1-8 1 6 1 1 1 6 1 0 1 0 1 3 1 1 1 2 1-2 1 13 1-7 1 2 1 1 1-9 1 4 1-4 1-1 1-4 1-3 1-2 1-4 1 2 1-3 1 5 1 1 1-4 1 10 1-2 1-6 1 7 1 0 1 0 1-3 1 7 1-12 1 4 1 2 1-4 1 1 1 3 1-3 1 5 1-3 1 6 1-6 1-2 1-2 1-4 1 2 1 7 1 3 1-4 1 0 1 0 1 4 1-2 1-9 1 9 1 0 1-3 1 0 1 1 1 4 1 5 1-6 1-3 1 0 1 5 1 0 1-2 1 3 1-4 1-2 1-1 1-1 1 10 1-8 1 0 1 0 1-2 1 4 1 2 1-2 1-1 1 6 1-1 1-10 1 1 1 0 1 0 1-1 1 4 1 6 1-6 1 4 1-1 1 4 1-1 1 3 1-6 1-5 1 10 1 8 1-13 1 7 1-1 1 0 1-1 1 2 1 5 1-11 1-2 1 6 1-2 1 1 1 2 1-1 1 7 1-4 1-11 1 6 1-1 1 3 1-4 1 0 1 0 1-1 1 8 1-8 1-5 1 2 1-1 1 2 1 0 1-8 1-4 1 2 1 5 1 3 1 3 1 8 1-3 1-5 1 2 1-2 1 1 1 0 1 5 1-6 1 6 1 4 1 0 1 6 1-4 1 3 1-2 1-5 1-3 1-3 1-5 1-5 1 5 1-3 1 11 1 2 1-3 1-4 1 10 1-9 1 1 1 1 1 1 1-2 1 3 1-7 1 3 1-7 1 0 1 5 1 6 1-4 1 3 1-2 1-8 1-2 1 4 1-1 1-10 1 5 1 0 1-4 1 4 1 10 1 3 1-8 1 2 1 3 1-10 1-8 1-4 1 7 1-1 1 3 1 0 1 4 1-4 1-2 1 4 1 3 1 7 1 3 1 2 1-5 1-2 1-5 1 0 1-4 1-4 1 8 1 0 1 3 1 0 1-2 1-1 1-3 1 1 1 4 1-2 1-1 1 3 1 8 1 1 1-6 1 5 1 11 1-7 1-4 1 4 1 6 1-6 1-7 1 6 1-4 1-1 1-8 1 8 1-8 1 3 1 3 1 3 1-7 1 8 1-2 1-2 1 1 1 2 1-7 1 5 1-2 1-4 1 1 1-4 1-2 1-6 1-4 1 3 1 4 1 5 1-2 1 12 1-3 1-2 1-3 1 1 1-6 1 0 1 2 1-6 1 15 1-1 1 6 1-7 1-1 1-7 1 3 1 8 1-3 1 5 1 6 1-5 1 1 1 7 1 0 1-4 1 2 1-10 1 1 1 0 1 4 1-3 1-5 1 12 1-12 1-2 1-2 1-3 1 7 1-13 1 12 1 0 1 2 1 11 1-4 1-3 1 5 1-2 1 0 1-6 1 0 1 4 1-5 1 6 1-4 1 3 1-1 1-2 1-1 1-5 1 3 1-1 1-4 1 1 1 0 1 2 1-7 1 6 1 2 1 14 1-11 1 2 1 2 1-4 1 9 1-6 1 1 1-2 1 2 1-2 1 5 1 8 1-7 1 1 1 4" fill="none" stroke="#888" stroke-width="2.95" stroke-opacity="0.22" stroke-linejoin="round" vector-effect="non-scaling-stroke"/>
<path transform="translate(92.1,338.9) scale(0.25,0.1)" d="M0 5l1 1 1 3 1-10 1-8 1 2 1 6 1-6 1 7 1 0 1 2 1 6 1 0 1-2 1 1 1 2 1-2 1-2 1-12 1 7 1 4 1-9 1-3 1 11 1-5 1-7 1 10 1-3 1-10 1 5 1-6 1 7 1 1 1 2 1-2 1 4 1 1 1-4 1-5 1 7 1-3 1-5 1 0 1-1 1 2 1 3 1-10 1 2 1-1 1 10 1-12 1 12 1 9 1-3 1 1 1-4 1-6 1-12 1 6 1-1 1-5 1 6 1 6 1 1 1 0 1-11 1 5 1-6 1 5 1-2 1 8 1 0 1 6 1 1 1 2 1 7 1-9 1 1 1 2 1-9 1 4 1-2 1-5 1 0 1 7 1 0 1-3 1 4 1-1 1 10 1-2 1 0 1 3 1-6 1 12 1-3 1 2 1-2 1-3 1-4 1-2 1-4 1 10 1-1 1 8 1-9 1 3 1-4 1 1 1-8 1 0 1 4 1-3 1 12 1-4 1-2 1 2 1-8 1 3 1 6 1-4 1 7 1-7 1-3 1 5 1 4 1-5 1 2 1-8 1 4 1 4 1-6 1 2 1-4 1-9 1 5 1 6 1-7 1 19 1-9 1 2 1 0 1-8 1 6 1-11 1 8 1-2 1-2 1 4 1-8 1 5 1-1 1 1 1-6 1 4 1 8 1-10 1-3 1 2 1 3 1 4 1-7 1 0 1 2 1 3 1-2 1-9 1-2 1 6 1 1 1-2 1 0 1-7 1 0 1-3 1-5 1 3 1-1 1 10 1 1 1-4 1 7 1 0 1-2 1 0 1 0 1 4 1-11 1 4 1 6 1 5 1-3 1 0 1-3 1 1 1-5 1 3 1-6 1-3 1 9 1 1 1-2 1 11 1 0 1-10 1 10 1-3 1 3 1-6 1 6 1-1 1 4 1-4 1-5 1 1 1 5 1-4 1-5 1 2 1-1 1-2 1-3 1 1 1-6 1 13 1-11 1-3 1 10 1-3 1 1 1 4 1-5 1 6 1-6 1-4 1-3 1-1 1-1 1-1 1-1 1 10 1 4 1 0 1-1 1-2 1 9 1-11 1 9 1-1 1 6 1-3 1 6 1 3 1-4 1 11 1-5 1 4 1 3 1-2 1-7 1 1 1 0 1-7 1 2 1-1 1 6 1-5 1 4 1 8 1 1 1-10 1-1 1 11 1-1 1-8 1 3 1-2 1 4 1-4 1-1 1 0 1 2 1 1 1-1 1 3 1 0 1 0 1 6 1 1 1-3 1-2 1 0 1-1 1 3 1 9 1-6 1-6 1-1 1 6 1-9 1-8 1 8 1 4 1-4 1 3 1-6 1 1 1-6 1-3 1 5 1-5 1 1 1 6 1-5 1-2 1 4 1-1 1 5 1 3 1 0 1 6 1-8 1 3 1-4 1 6 1-2 1 6 1-1 1-11 1 5 1 0 1 3 1-5 1 9 1-2 1-4 1-2 1 1 1-1 1-1 1 0 1-2 1 0 1-2 1-3 1 3 1-2 1-1 1-1 1-3 1 13 1-5 1-2 1-1 1 5 1 4 1-2 1-6 1 4 1 1 1-4 1 2 1 0 1-2 1-6 1 2 1 4 1-7 1 2 1 0 1 2 1 7 1 0 1 3 1-3 1 4 1-4 1 1 1-5 1 3 1 2 1 2 1-2 1 9 1-5 1 0 1 2 1 0 1-4 1-3 1 4 1-1 1-4 1-8 1 8 1-4 1-4 1 2 1 2 1 0 1-3 1-2 1-4 1-6 1 13 1-6 1 8 1 0 1-3 1 1 1-5 1-2 1-7 1 1 1 1 1 1 1-2 1 4 1 3 1 1 1 3 1 4 1 3 1-1 1-6 1-4 1 1 1-5 1-2 1 9 1 9 1-6 1 8 1 3 1-7 1 7 1 0 1-5 1 0 1 3 1-7 1 8 1 1 1-7 1-3 1 8 1-4 1-1 1 3 1 3 1 2 1 0 1 10 1 5 1-1 1-6 1-2 1 3 1-12 1 2 1 3 1-3 1 0 1-5 1-4 1-2 1 2 1 0 1 1 1 0 1-6 1 0 1-1 1 2 1-2 1-1 1-1 1-3 1-4 1-2 1-1 1 0 1 3 1 5 1 2 1 3 1-4 1-1 1 2 1-4 1 0 1 7 1 2 1 4 1 2 1-2 1 10 1-3 1 8 1-10 1-2 1-1 1-4 1 0 1 2 1-3 1 1 1 7 1 2 1 0 1-3 1 4 1 3 1 0 1 0 1 0 1-4 1 3 1 7 1-8 1 5 1-1 1-8 1 8 1-5 1-5 1 9 1-8 1 4 1-7 1-2 1-1 1 4 1 2 1-4 1 3 1 7 1 1 1-5 1 1 1 2 1-11 1 3 1-4 1 1 1 0 1 4 1 4 1-6 1 6 1-3 1 7 1-5 1-3 1-3 1 0 1 8 1-12 1 3 1 1 1-4 1-1 1 8 1-3 1-1 1-5 1 4 1-6 1-8 1 4 1 5 1 9 1-10 1 3 1 10 1-13 1 2 1 0 1-6 1-2 1 4 1 5 1-3 1-2 1 4 1 4 1-8 1 2 1 7 1-9 1-2 1-2 1 4 1 12 1-10 1 9 1 8 1-4 1 1 1-9 1 6 1-4 1-3 1 3 1 3 1 6 1 3 1-6 1-6 1-4 1 8 1-4 1-11 1 7 1-4 1 9 1-1 1 1 1 6 1-4 1-1 1-10 1 2 1 2 1 0 1 6 1-2 1 5 1 2 1 0 1-5 1-7 1-1 1 3 1 1 1-4 1-4 1 16 1-2 1-4 1-1 1 0 1-5 1-2 1-5 1 0 1-1 1 1 1 11 1 2 1 2 1 4 1-10 1 3 1-11 1 2 1 3 1 1 1 1 1 0 1 3 1-2 1-3 1 3 1-9 1 0 1 3 1-3 1 8 1-6 1 5 1 0 1-6 1 2 1 1 1 2 1 6 1-2 1-2 1 7 1 0 1 5 1 1 1-4 1 2 1-3 1-6 1 7 1-10 1 3 1-3 1 8 1-1 1-7 1 0 1 7 1-10 1 3 1 8 1-6 1 5 1 2 1-2 1 0 1 6 1 0 1-2 1-7 1-4 1 8 1-1 1-4 1 2 1-6 1 7 1 0 1-4 1-2 1 1 1 1 1 0 1 7 1-4 1 3 1-3 1 2 1 6 1 3 1-5 1-1 1 8 1-1 1-3 1-7 1 7 1-12 1 3 1 5 1-6 1 13 1-5 1 0 1 3 1-8 1 2 1-3 1 5 1 2 1-7 1 2 1-5 1-1 1 10 1-2 1-3 1 1 1 1 1 4 1-4 1 0 1-4 1-1 1-5 1 3 1-2 1 0 1-4 1 3 1-6 1 2 1 0 1 1 1-1 1-4 1 2 1 3 1 1 1 2 1 6 1-4 1-8 1 16 1-4 1 1 1 0 1 4 1 0 1-7 1 5 1-3 1 8 1 1 1 0 1 2 1 0 1 5 1 7 1-13 1-7 1 5 1 6 1-15 1 6 1 8 1 3 1 1 1-2 1-4 1-1 1-2 1 1 1-7 1 1 1-6 1-5 1 16 1 1 1-2 1-7 1 2 1 3 1-5 1 0 1 0 1 5 1-8 1-4 1-1 1-1 1 5 1-2 1 1 1-4 1-3 1 6 1-5 1 9 1 2 1 1 1 3 1-1 1-7 1 2 1-4 1-3 1 5 1 4 1-1 1-3 1 2 1 1 1 3 1 7 1-5 1 9 1-5 1 4 1-4 1 1 1-4 1-3 1 7 1 4 1-10 1-4 1 0 1 3 1-4 1-4 1 9 1 2 1 2 1 2 1 0 1 3 1-8 1-7 1 11 1-3 1-6 1 0 1-2 1-3 1 1 1 3 1 1 1 7 1-1 1-1 1 4 1-8 1 0 1 3 1 5 1 3 1-11 1 2 1 3 1 5 1 2 1-4 1-5 1 3 1 1 1 2 1-4 1 2 1 7 1-7 1 6 1 0 1-7 1-4 1 3 1 4 1-4 1 8 1-4 1 0 1-5 1-2 1-3 1 6 1 4 1-6 1 0 1 0 1-8 1 3 1 6 1 1 1 6 1-5 1-8 1-1 1 1 1 1 1 8 1 1 1-4 1 2 1 8 1 3 1-6 1-1 1 5 1-3 1 3 1-6 1-1 1 2 1-1 1 0 1-2 1 0 1 1 1 4 1-3 1-7 1 0 1-2 1 8 1-6 1 6 1-6 1 8 1-5 1 1 1 1 1-2 1 4 1-1 1 4 1-3 1 5 1-1 1-2 1-5 1-3 1 9 1-3 1 5 1-4 1-3 1-3 1-4 1-1 1 3 1-4 1 8 1-6 1 2 1 2 1 0 1 0 1 4 1-13 1 6 1-4 1 2 1-1 1 0 1 10 1-6 1 2 1 2 1 10 1-7 1 5 1-5 1 1 1 1 1-6 1 2 1 12 1-12 1 1 1 0 1-6 1-6 1 7 1 6 1-4 1 8 1-2 1-3 1 2 1-2 1-4 1-9 1-4 1-2 1 7 1-1 1-5 1 3 1-1 1 3 1-10 1 3 1 4 1-7 1 7 1 2 1-4 1 5 1 10 1-2 1-3 1-2 1 4 1-3 1 4 1-6 1 6 1-11 1-6 1 2 1 1 1 7 1-1 1-5 1 8 1-1 1 5 1-4 1 5 1-1 1 1 1-5 1-3 1-3 1-4 1 2 1 2 1-3 1-2 1 4 1 5 1-5 1 1 1 1 1 2 1-5 1 5 1-4 1-12 1 4 1 6 1-1 1-8 1 9 1 0 1 7 1 5 1-2 1 5 1 1 1-3 1-8 1 7 1-1 1-5 1-4 1 2 1-3 1 5 1-14 1 13 1-4 1 7 1-9 1 9 1-1 1-8 1 1 1-1 1 4 1-6 1-2 1 14 1-17 1 2 1 5 1 5 1 1 1 1 1 4 1-1 1-7 1 5 1-8 1 0 1 1 1-4 1 5 1-1 1-2 1 2 1 1 1 5 1-3 1-2 1 3 1 2 1 3 1 0 1 11 1-4 1-3 1 2 1 1 1-3 1 0 1-6 1-6 1 3 1-9 1 3 1-3 1 4 1 0 1-3 1 4 1 0 1 8 1-5 1-2 1 9 1-8 1 0 1-1 1-4 1 2 1-6 1 3 1-1 1 4 1-2 1-3 1 4 1 5 1 6 1-6 1 6 1 3 1 0 1-5 1-4 1-1 1-4 1 6 1 1 1-1 1 14 1-13 1 9 1 7 1-3 1 2 1-8 1-2 1-2 1 4 1 4 1-13 1 10 1-1 1 0 1 2 1-4 1 9 1 6 1-6 1-10 1 10 1 3 1 4 1-7 1-3 1 3 1 2 1-2 1-4 1-1 1 7 1-12 1-5 1-1 1 2 1-3 1-3 1 5 1 7 1-13 1 12 1-1 1 3 1-2 1 3 1 2 1-4 1-5 1 8 1-3 1-3 1 7 1-1 1 0 1-4 1 14 1-9 1-5 1 0 1-1 1-1 1 3 1-6 1-2 1 6 1 0 1 1 1 5 1 0 1 6 1 0 1-4 1 7 1-2 1-3 1-5 1 2 1-1 1-4 1 2 1 1 1 0 1-3 1-1 1 8 1-5 1 1 1-2 1 4 1-7 1-3 1-3 1 9 1-15 1-2 1 0 1 4 1-4 1 2 1-2 1 3 1 3 1 6 1 4 1-4 1 3 1 4 1 2 1-3 1 3 1-7 1 6 1 9 1-4 1 1 1 0 1-6 1-7 1 4 1 1 1-1 1-1 1 3 1 1 1-12 1 3 1-4 1 3 1-2 1-1 1 11 1-8 1 5 1 2 1-5 1 5 1 2 1 2 1-7 1 4 1 2 1 0 1-3 1 5 1-4 1 0 1 1 1 6 1-1 1-1 1 2 1 10 1-3 1-1 1 3 1-14 1 5 1-7 1 3 1 4 1-1 1 0 1 0 1-8 1-2 1-2 1 13 1-7 1-4 1-1 1 5 1-12 1 2 1 1 1-7 1 6 1 7 1-4 1 0 1 5 1 1 1 0 1-2 1 0 1 2 1 4 1 4 1 7 1-14 1 11 1-1 1 5 1-5 1-8 1 1 1-1 1 3 1-2 1 9 1-4 1 0 1 2 1-6 1 1 1-8 1 0 1 1 1-5 1 1 1 10 1 0 1 3 1-9 1 2 1 6 1 5 1-1 1 1 1-10 1 6 1 3 1-1 1 1 1 1 1-1 1-8 1 5 1-1 1 8 1-1 1 5 1 0 1-1 1-1 1 0 1-10 1 4 1-1 1 1 1-9 1 11 1-5 1 6 1-1 1-2 1-4 1 5 1-8 1 2 1-4 1-2 1 6 1-3 1-2 1 5 1-1 1 3 1-6 1-4 1 0 1-5 1 1 1 3 1 3 1-5 1 6 1-5 1 6 1-5 1 10 1-7 1 4 1 0 1 4 1-4 1-1 1 11 1-5 1-10 1 4 1-8 1 7 1-5 1-7 1 2 1-9 1 6 1-1 1 8 1 4 1-9 1-4 1 6 1 4 1 0 1 2 1 4 1-6 1 3 1 2 1 10 1-6 1-5 1 7 1-9 1 4 1-2 1-1 1 7 1-9 1 7 1-4 1-4 1-6 1 2 1-1 1-8 1 19 1-9 1 4 1 1 1-5 1 5 1 0 1-4 1-1 1 10 1 4 1-8 1-3 1 6 1 6 1-1 1 7 1-3 1-5 1-3 1-2 1-8 1 0 1 1 1-5 1 7 1 0 1 1 1-1 1 9 1 5 1-11 1 7 1 5 1 10 1-10 1 6 1-5 1 2 1-3 1-1 1 0 1-5 1-11 1 5 1-5 1 10 1 4 1 2 1 5 1 6 1-7 1 6 1-10 1 6 1-5 1 2 1-8 1 1 1-3 1 2 1 0 1 2 1-8 1 6 1-13 1 6 1-2 1 3 1 0 1-3 1 8 1 5 1-14 1 2 1-1 1-8 1 1 1-2 1 0 1-1 1 6 1-4 1-2 1 5 1 0 1 3 1 0 1-7 1 5 1-6 1 5 1-4 1 7 1-9 1 4 1 6 1-1 1 2 1 7 1-4 1-1 1-5 1-3 1 0 1 3 1 2 1 4 1 4 1 3 1-3 1-3 1 2 1 6 1-3 1-5 1 13 1-5 1-3 1-1 1-2 1 3 1-5 1 2 1 7 1-8 1-4 1-1 1-6 1-3 1 4 1 0 1 4 1-3 1-2 1-2 1-5 1-7 1 4 1 6 1-3 1 3 1 1 1 10 1-7 1 8 1-9 1-7 1 4 1-7 1-10 1 11 1-4 1 3 1 3 1 5 1-3 1 11 1 4 1-3 1 2 1-3 1-2 1 5 1-1 1-3 1 2 1 5 1 7 1-8 1 1 1 7 1 1 1 2 1-12 1-4 1-1 1-4 1 6 1-5 1 4 1 10 1 3 1-10 1 5 1-10 1 3 1 1 1 8 1-1 1 1 1-2 1 3 1-9 1-5 1 0 1-3 1 2 1 6 1-3 1 8 1-6 1-7 1 3 1 1 1 6 1-1 1 4 1 2 1 5 1-7 1 0 1-9 1 2 1 2 1-1 1 2 1-3 1 12 1 1 1 0 1-7 1-10 1-2 1 2 1-4 1-1 1-3 1 5 1 2 1-2 1 4 1-7 1 1 1 4 1 6 1-5 1-2 1-1 1 3 1-10 1 6 1 0 1-2 1 2 1 0 1 2 1-6 1 11 1-7 1 3 1 1 1 5 1-3 1 6 1-7 1 3 1 1 1 3 1-2 1-1 1-5 1 0 1 5 1 5 1-3 1 1 1 11 1 0 1 1 1-7 1 5 1 0 1-6 1-4 1 0 1 6 1-2 1-5 1 4 1 2 1-4 1-4 1-3 1 7 1 4 1-2 1 1 1 0 1 2 1-9 1 5 1-6 1 0 1 2 1-2 1 3 1-2 1 1 1-4 1 5 1-3 1-3 1-1 1 8 1-2 1-2 1 6 1-4 1 6 1-3 1-4 1 8 1 2 1-9 1 3 1-5 1 2 1 1 1-4 1 6 1-4 1 9 1 0 1 0 1 4 1 5 1-1 1-2 1-7 1 2 1 0 1-19 1 0 1 9 1 3 1 3 1-4 1-3 1 2 1-4 1-5 1 8 1-3 1 8 1-1 1 1 1-2 1-4 1 4 1-1 1-1 1 7 1-5 1 7 1-11 1 3 1-4 1-4 1 7 1-5 1 2 1 0 1-1 1 1 1 5 1-5 1 1 1-2 1 4 1 1 1-7 1 6 1-4 1 2 1 2 1 7 1 4 1-1 1-1 1 0 1 9 1 1 1-11 1-7 1-3 1 0 1-6 1-1 1 3 1 6 1-4 1 8 1-6 1 8 1 0 1-11 1 8 1 0 1-3 1 5 1-9 1 12 1 3 1-9 1 4 1-2 1-1 1-1 1-5 1-5 1 8 1 2 1 2 1-6 1-3 1 7 1-12 1 3 1-5 1 6 1-9 1 5 1-3 1 7 1 0 1-1 1-1 1-4 1 7 1-1 1-2 1-3 1 0 1-3 1 0 1 3 1 1 1-1 1-1 1 1 1-2 1 7 1-10 1-4 1 10 1-1 1 0 1-4 1 4 1 3 1 15 1-1 1 10 1 4 1 7 1-11 1-9 1 0 1-6 1 5 1 0 1 4 1-6 1 12 1-7 1 10 1-3 1 2 1-4 1-5 1 2 1-8 1-4 1 1 1 11 1-6 1 3 1 2 1-9 1-2 1 6 1 1 1-1 1 9 1 4 1-10 1 2 1-7 1-4 1-2 1 1 1-2 1 9 1-4 1-7 1 3 1 0 1 6 1-8 1 4 1 3 1 3 1-2 1 5 1 0 1-8 1-8 1 6 1 1 1 6 1 0 1 0 1 3 1 1 1 2 1-2 1 13 1-7 1 2 1 1 1-9 1 4 1-4 1-1 1-4 1-3 1-2 1-4 1 2 1-3 1 5 1 1 1-4 1 10 1-2 1-6 1 7 1 0 1 0 1-3 1 7 1-12 1 4 1 2 1-4 1 1 1 3 1-3 1 5 1-3 1 6 1-6 1-2 1-2 1-4 1 2 1 7 1 3 1-4 1 0 1 0 1 4 1-2 1-9 1 9 1 0 1-3 1 0 1 1 1 4 1 5 1-6 1-3 1 0 1 5 1 0 1-2 1 3 1-4 1-2 1-1 1-1 1 10 1-8 1 0 1 0 1-2 1 4 1 2 1-2 1-1 1 6 1-1 1-10 1 1 1 0 1 0 1-1 1 4 1 6 1-6 1 4 1-1 1 4 1-1 1 3 1-6 1-5 1 10 1 8 1-13 1 7 1-1 1 0 1-1 1 2 1 5 1-11 1-2 1 6 1-2 1 1 1 2 1-1 1 7 1-4 1-11 1 6 1-1 1 3 1-4 1 0 1 0 1-1 1 8 1-8 1-5 1 2 1-1 1 2 1 0 1-8 1-4 1 2 1 5 1 3 1 3 1 8 1-3 1-5 1 2 1-2 1 1 1 0 1 5 1-6 1 6 1 4 1 0 1 6 1-4 1 3 1-2 1-5 1-3 1-3 1-5 1-5 1 5 1-3 1 11 1 2 1-3 1-4 1 10 1-9 1 1 1 1 1 1 1-2 1 3 1-7 1 3 1-7 1 0 1 5 1 6 1-4 1 3 1-2 1-8 1-2 1 4 1-1 1-10 1 5 1 0 1-4 1 4 1 10 1 3 1-8 1 2 1 3 1-10 1-8 1-4 1 7 1-1 1 3 1 0 1 4 1-4 1-2 1 4 1 3 1 7 1 3 1 2 1-5 1-2 1-5 1 0 1-4 1-4 1 8 1 0 1 3 1 0 1-2 1-1 1-3 1 1 1 4 1-2 1-1 1 3 1 8 1 1 1-6 1 5 1 11 1-7 1-4 1 4 1 6 1-6 1-7 1 6 1-4 1-1 1-8 1 8 1-8 1 3 1 3 1 3 1-7 1 8 1-2 1-2 1 1 1 2 1-7 1 5 1-2 1-4 1 1 1-4 1-2 1-6 1-4 1 3 1 4 1 5 1-2 1 12 1-3 1-2 1-3 1 1 1-6 1 0 1 2 1-6 1 15 1-1 1 6 1-7 1-1 1-7 1 3 1 8 1-3 1 5 1 6 1-5 1 1 1 7 1 0 1-4 1 2 1-10 1 1 1 0 1 4 1-3 1-5 1 12 1-12 1-2 1-2 1-3 1 7 1-13 1 12 1 0 1 2 1 11 1-4 1-3 1 5 1-2 1 0 1-6 1 0 1 4 1-5 1 6 1-4 1 3 1-1 1-2 1-1 1-5 1 3 1-1 1-4 1 1 1 0 1 2 1-7 1 6 1 2 1 14 1-11 1 2 1 2 1-4 1 9 1-6 1 1 1-2 1 2 1-2 1 5 1 8 1-7 1 1 1 4" fill="none" stroke="#2a2a2a" stroke-width="1.35" stroke-linejoin="round" vector-effect="non-scaling-stroke"/>
<path d="M612.7 412 H672.7 V372" fill="none" stroke="#c8c8c8" stroke-width="1"/>
<text x="619.6" y="430" class="sb" textLength="49.6" lengthAdjust="spacingAndGlyphs">600 ms</text>
<text transform="translate(690.2,406.9) rotate(-90)" class="sb" style="font-size:15.5px">50pA</text>
<path d="M69.5 525 V708.5 H332" fill="none" stroke="#555" stroke-width="1"/>
<path d="M63.5 709.5 H69.5" stroke="#555" stroke-width="1"/>
<text x="57.3" y="713.0" class="tk" text-anchor="end">0.0</text>
<path d="M63.5 672.5 H69.5" stroke="#555" stroke-width="1"/>
<text x="57.3" y="676.2" class="tk" text-anchor="end">0.2</text>
<path d="M63.5 636.5 H69.5" stroke="#555" stroke-width="1"/>
<text x="57.3" y="639.3" class="tk" text-anchor="end">0.4</text>
<path d="M63.5 599.5 H69.5" stroke="#555" stroke-width="1"/>
<text x="57.3" y="602.5" class="tk" text-anchor="end">0.6</text>
<path d="M63.5 562.5 H69.5" stroke="#555" stroke-width="1"/>
<text x="57.3" y="565.6" class="tk" text-anchor="end">0.8</text>
<path d="M63.5 525.5 H69.5" stroke="#555" stroke-width="1"/>
<text x="57.3" y="528.8" class="tk" text-anchor="end">1.0</text>
<text x="68.2" y="729.3" class="tk" text-anchor="middle">0</text>
<path d="M133.5 708.5 V714.5" stroke="#555" stroke-width="1"/>
<text x="134.0" y="729.3" class="tk" text-anchor="middle">1000</text>
<path d="M199.5 708.5 V714.5" stroke="#555" stroke-width="1"/>
<text x="199.8" y="729.3" class="tk" text-anchor="middle">2000</text>
<path d="M265.5 708.5 V714.5" stroke="#555" stroke-width="1"/>
<text x="265.6" y="729.3" class="tk" text-anchor="middle">3000</text>
<path d="M331.5 708.5 V714.5" stroke="#555" stroke-width="1"/>
<text x="331.4" y="729.3" class="tk" text-anchor="middle">4000</text>
<text x="238.0" y="753.3" class="ax" text-anchor="middle">Inter-event Interval (ms)</text>
<text transform="translate(33.2,620.7) rotate(-90)" class="ax" text-anchor="middle">Cumulative Probability</text>
<path d="M421.5 525 V708.5 H685" fill="none" stroke="#555" stroke-width="1"/>
<path d="M416 709.5 H421.5" stroke="#555" stroke-width="1"/>
<text x="410.6" y="713.0" class="tk" text-anchor="end">0.0</text>
<path d="M416 672.5 H421.5" stroke="#555" stroke-width="1"/>
<text x="410.6" y="676.2" class="tk" text-anchor="end">0.2</text>
<path d="M416 636.5 H421.5" stroke="#555" stroke-width="1"/>
<text x="410.6" y="639.3" class="tk" text-anchor="end">0.4</text>
<path d="M416 599.5 H421.5" stroke="#555" stroke-width="1"/>
<text x="410.6" y="602.5" class="tk" text-anchor="end">0.6</text>
<path d="M416 562.5 H421.5" stroke="#555" stroke-width="1"/>
<text x="410.6" y="565.6" class="tk" text-anchor="end">0.8</text>
<path d="M416 525.5 H421.5" stroke="#555" stroke-width="1"/>
<text x="410.6" y="528.8" class="tk" text-anchor="end">1.0</text>
<text x="420.9" y="729.3" class="tk" text-anchor="middle">0</text>
<path d="M464.5 708.5 V714.5" stroke="#555" stroke-width="1"/>
<text x="464.9" y="729.3" class="tk" text-anchor="middle">10</text>
<path d="M508.5 708.5 V714.5" stroke="#555" stroke-width="1"/>
<text x="508.9" y="729.3" class="tk" text-anchor="middle">20</text>
<path d="M552.5 708.5 V714.5" stroke="#555" stroke-width="1"/>
<text x="552.9" y="729.3" class="tk" text-anchor="middle">30</text>
<path d="M596.5 708.5 V714.5" stroke="#555" stroke-width="1"/>
<text x="596.9" y="729.3" class="tk" text-anchor="middle">40</text>
<path d="M640.5 708.5 V714.5" stroke="#555" stroke-width="1"/>
<text x="640.9" y="729.3" class="tk" text-anchor="middle">50</text>
<path d="M684.5 708.5 V714.5" stroke="#555" stroke-width="1"/>
<text x="684.9" y="727.5" class="tk" text-anchor="middle">60</text>
<text x="575.9" y="753.3" class="ax" text-anchor="middle">Amplitude (pA)</text>
<text transform="translate(384.6,619.1) rotate(-90)" class="ax" text-anchor="middle">Cumulative Probability</text>
<path d="M68.20 709.80 L74.78 671.12 L81.36 632.44 L87.94 604.81 L94.52 583.62 L101.10 568.89 L107.68 557.65 L114.26 551.20 L120.84 545.68 L127.42 539.60 L134.00 535.92 L140.58 534.07 L147.16 532.42 L153.74 531.49 L160.32 530.76 L166.90 530.20 L173.48 529.65 L180.06 529.28 L186.64 528.92 L193.22 528.55 L199.80 528.18 L206.38 527.81 L212.96 527.44 L219.54 527.07 L226.12 526.89 L232.70 526.71 L239.28 526.52 L245.86 526.34 L252.44 526.15 L259.02 525.97 L265.60 525.78 L272.18 525.60 L278.76 525.60 L285.34 525.60 L291.92 525.60 L298.50 525.60 L305.08 525.60 L311.66 525.60 L318.24 525.60 L324.82 525.60 L331.40 525.60" fill="none" stroke="#2a2a2a" stroke-width="0.9"/>
<path d="M68.20 709.80 L74.78 650.86 L81.36 599.28 L87.94 568.89 L94.52 549.55 L101.10 540.34 L107.68 535.55 L114.26 532.23 L120.84 529.65 L127.42 527.44 L134.00 526.71 L140.58 526.34 L147.16 525.97 L153.74 525.78 L160.32 525.60 L166.90 525.60 L173.48 525.60 L180.06 525.60 L186.64 525.60 L193.22 525.60 L199.80 525.60 L206.38 525.60 L212.96 525.60 L219.54 525.60 L226.12 525.60 L232.70 525.60 L239.28 525.60 L245.86 525.60 L252.44 525.60 L259.02 525.60 L265.60 525.60 L272.18 525.60 L278.76 525.60 L285.34 525.60 L291.92 525.60 L298.50 525.60 L305.08 525.60 L311.66 525.60 L318.24 525.60 L324.82 525.60 L331.40 525.60" fill="none" stroke="#777" stroke-width="0.9" stroke-dasharray="1 2"/>
<path d="M68.20 709.80 L74.78 672.41 L81.36 633.73 L87.94 606.10 L94.52 584.91 L101.10 570.18 L107.68 558.94 L114.26 552.49 L120.84 546.97 L127.42 540.89 L134.00 537.20 L140.58 535.36 L147.16 533.70 L153.74 532.78 L160.32 532.05 L166.90 531.49 L173.48 530.94 L180.06 530.57 L186.64 530.20 L193.22 529.84 L199.80 529.47 L206.38 528.94 L212.96 528.41 L219.54 527.88 L226.12 527.53 L232.70 527.19 L239.28 526.84 L245.86 526.50 L252.44 526.15 L259.02 525.97 L265.60 525.78 L272.18 525.60 L278.76 525.60 L285.34 525.60 L291.92 525.60 L298.50 525.60 L305.08 525.60 L311.66 525.60 L318.24 525.60 L324.82 525.60 L331.40 525.60" fill="none" stroke="#2a2a2a" stroke-width="0.9" stroke-dasharray="6 3"/>
<path d="M68.20 709.80 L74.78 684.93 L81.36 660.99 L87.94 635.75 L94.52 615.31 L101.10 600.02 L107.68 588.23 L114.26 576.25 L120.84 564.83 L127.42 557.47 L134.00 553.41 L140.58 549.55 L147.16 545.49 L153.74 542.18 L160.32 540.15 L166.90 538.49 L173.48 536.84 L180.06 534.81 L186.64 533.70 L193.22 532.78 L199.80 532.23 L206.38 531.86 L212.96 531.31 L219.54 530.94 L226.12 530.36 L232.70 529.78 L239.28 529.19 L245.86 528.61 L252.44 528.03 L259.02 527.63 L265.60 527.23 L272.18 526.83 L278.76 526.43 L285.34 526.03 L291.92 525.81 L298.50 525.60 L305.08 525.60 L311.66 525.60 L318.24 525.60 L324.82 525.60 L331.40 525.60" fill="none" stroke="#2a2a2a" stroke-width="0.9" stroke-dasharray="7 2 1 2 1 2"/>
<path d="M68.20 709.80 L74.78 682.72 L81.36 656.93 L87.94 632.44 L94.52 612.73 L101.10 597.44 L107.68 585.65 L114.26 573.68 L120.84 562.26 L127.42 554.89 L134.00 550.84 L140.58 546.97 L147.16 542.91 L153.74 539.60 L160.32 537.57 L166.90 535.92 L173.48 534.26 L180.06 532.23 L186.64 531.13 L193.22 530.20 L199.80 529.65 L206.38 529.28 L212.96 528.73 L219.54 528.36 L226.12 527.99 L232.70 527.63 L239.28 527.26 L245.86 526.89 L252.44 526.52 L259.02 526.34 L265.60 526.15 L272.18 525.97 L278.76 525.78 L285.34 525.60 L291.92 525.60 L298.50 525.60 L305.08 525.60 L311.66 525.60 L318.24 525.60 L324.82 525.60 L331.40 525.60" fill="none" stroke="#2a2a2a" stroke-width="0.9" stroke-dasharray="10 5"/>
<circle cx="68.20" cy="709.80" r="2.75" fill="#fff" stroke="#1e1e1e" stroke-width="0.85"/><circle cx="68.20" cy="709.80" r="0.6" fill="#1e1e1e"/><circle cx="74.78" cy="650.86" r="2.75" fill="#fff" stroke="#1e1e1e" stroke-width="0.85"/><circle cx="74.78" cy="650.86" r="0.6" fill="#1e1e1e"/><circle cx="81.36" cy="599.28" r="2.75" fill="#fff" stroke="#1e1e1e" stroke-width="0.85"/><circle cx="81.36" cy="599.28" r="0.6" fill="#1e1e1e"/><circle cx="87.94" cy="568.89" r="2.75" fill="#fff" stroke="#1e1e1e" stroke-width="0.85"/><circle cx="87.94" cy="568.89" r="0.6" fill="#1e1e1e"/><circle cx="94.52" cy="549.55" r="2.75" fill="#fff" stroke="#1e1e1e" stroke-width="0.85"/><circle cx="94.52" cy="549.55" r="0.6" fill="#1e1e1e"/><circle cx="101.10" cy="540.34" r="2.75" fill="#fff" stroke="#1e1e1e" stroke-width="0.85"/><circle cx="101.10" cy="540.34" r="0.6" fill="#1e1e1e"/><circle cx="107.68" cy="535.55" r="2.75" fill="#fff" stroke="#1e1e1e" stroke-width="0.85"/><circle cx="107.68" cy="535.55" r="0.6" fill="#1e1e1e"/><circle cx="114.26" cy="532.23" r="2.75" fill="#fff" stroke="#1e1e1e" stroke-width="0.85"/><circle cx="114.26" cy="532.23" r="0.6" fill="#1e1e1e"/><circle cx="120.84" cy="529.65" r="2.75" fill="#fff" stroke="#1e1e1e" stroke-width="0.85"/><circle cx="120.84" cy="529.65" r="0.6" fill="#1e1e1e"/><circle cx="127.42" cy="527.44" r="2.75" fill="#fff" stroke="#1e1e1e" stroke-width="0.85"/><circle cx="127.42" cy="527.44" r="0.6" fill="#1e1e1e"/><circle cx="134.00" cy="526.71" r="2.75" fill="#fff" stroke="#1e1e1e" stroke-width="0.85"/><circle cx="134.00" cy="526.71" r="0.6" fill="#1e1e1e"/><circle cx="140.58" cy="526.34" r="2.75" fill="#fff" stroke="#1e1e1e" stroke-width="0.85"/><circle cx="140.58" cy="526.34" r="0.6" fill="#1e1e1e"/><circle cx="147.16" cy="525.97" r="2.75" fill="#fff" stroke="#1e1e1e" stroke-width="0.85"/><circle cx="147.16" cy="525.97" r="0.6" fill="#1e1e1e"/><circle cx="153.74" cy="525.78" r="2.75" fill="#fff" stroke="#1e1e1e" stroke-width="0.85"/><circle cx="153.74" cy="525.78" r="0.6" fill="#1e1e1e"/><circle cx="160.32" cy="525.60" r="2.75" fill="#fff" stroke="#1e1e1e" stroke-width="0.85"/><circle cx="160.32" cy="525.60" r="0.6" fill="#1e1e1e"/><circle cx="166.90" cy="525.60" r="2.75" fill="#fff" stroke="#1e1e1e" stroke-width="0.85"/><circle cx="166.90" cy="525.60" r="0.6" fill="#1e1e1e"/><circle cx="173.48" cy="525.60" r="2.75" fill="#fff" stroke="#1e1e1e" stroke-width="0.85"/><circle cx="173.48" cy="525.60" r="0.6" fill="#1e1e1e"/><circle cx="180.06" cy="525.60" r="2.75" fill="#fff" stroke="#1e1e1e" stroke-width="0.85"/><circle cx="180.06" cy="525.60" r="0.6" fill="#1e1e1e"/><circle cx="186.64" cy="525.60" r="2.75" fill="#fff" stroke="#1e1e1e" stroke-width="0.85"/><circle cx="186.64" cy="525.60" r="0.6" fill="#1e1e1e"/><circle cx="193.22" cy="525.60" r="2.75" fill="#fff" stroke="#1e1e1e" stroke-width="0.85"/><circle cx="193.22" cy="525.60" r="0.6" fill="#1e1e1e"/><circle cx="199.80" cy="525.60" r="2.75" fill="#fff" stroke="#1e1e1e" stroke-width="0.85"/><circle cx="199.80" cy="525.60" r="0.6" fill="#1e1e1e"/><circle cx="206.38" cy="525.60" r="2.75" fill="#fff" stroke="#1e1e1e" stroke-width="0.85"/><circle cx="206.38" cy="525.60" r="0.6" fill="#1e1e1e"/><circle cx="212.96" cy="525.60" r="2.75" fill="#fff" stroke="#1e1e1e" stroke-width="0.85"/><circle cx="212.96" cy="525.60" r="0.6" fill="#1e1e1e"/><circle cx="219.54" cy="525.60" r="2.75" fill="#fff" stroke="#1e1e1e" stroke-width="0.85"/><circle cx="219.54" cy="525.60" r="0.6" fill="#1e1e1e"/><circle cx="226.12" cy="525.60" r="2.75" fill="#fff" stroke="#1e1e1e" stroke-width="0.85"/><circle cx="226.12" cy="525.60" r="0.6" fill="#1e1e1e"/><circle cx="232.70" cy="525.60" r="2.75" fill="#fff" stroke="#1e1e1e" stroke-width="0.85"/><circle cx="232.70" cy="525.60" r="0.6" fill="#1e1e1e"/><circle cx="239.28" cy="525.60" r="2.75" fill="#fff" stroke="#1e1e1e" stroke-width="0.85"/><circle cx="239.28" cy="525.60" r="0.6" fill="#1e1e1e"/><circle cx="245.86" cy="525.60" r="2.75" fill="#fff" stroke="#1e1e1e" stroke-width="0.85"/><circle cx="245.86" cy="525.60" r="0.6" fill="#1e1e1e"/><circle cx="252.44" cy="525.60" r="2.75" fill="#fff" stroke="#1e1e1e" stroke-width="0.85"/><circle cx="252.44" cy="525.60" r="0.6" fill="#1e1e1e"/><circle cx="259.02" cy="525.60" r="2.75" fill="#fff" stroke="#1e1e1e" stroke-width="0.85"/><circle cx="259.02" cy="525.60" r="0.6" fill="#1e1e1e"/><circle cx="265.60" cy="525.60" r="2.75" fill="#fff" stroke="#1e1e1e" stroke-width="0.85"/><circle cx="265.60" cy="525.60" r="0.6" fill="#1e1e1e"/><circle cx="272.18" cy="525.60" r="2.75" fill="#fff" stroke="#1e1e1e" stroke-width="0.85"/><circle cx="272.18" cy="525.60" r="0.6" fill="#1e1e1e"/><circle cx="278.76" cy="525.60" r="2.75" fill="#fff" stroke="#1e1e1e" stroke-width="0.85"/><circle cx="278.76" cy="525.60" r="0.6" fill="#1e1e1e"/><circle cx="285.34" cy="525.60" r="2.75" fill="#fff" stroke="#1e1e1e" stroke-width="0.85"/><circle cx="285.34" cy="525.60" r="0.6" fill="#1e1e1e"/><circle cx="291.92" cy="525.60" r="2.75" fill="#fff" stroke="#1e1e1e" stroke-width="0.85"/><circle cx="291.92" cy="525.60" r="0.6" fill="#1e1e1e"/><circle cx="298.50" cy="525.60" r="2.75" fill="#fff" stroke="#1e1e1e" stroke-width="0.85"/><circle cx="298.50" cy="525.60" r="0.6" fill="#1e1e1e"/><circle cx="305.08" cy="525.60" r="2.75" fill="#fff" stroke="#1e1e1e" stroke-width="0.85"/><circle cx="305.08" cy="525.60" r="0.6" fill="#1e1e1e"/><circle cx="311.66" cy="525.60" r="2.75" fill="#fff" stroke="#1e1e1e" stroke-width="0.85"/><circle cx="311.66" cy="525.60" r="0.6" fill="#1e1e1e"/><circle cx="318.24" cy="525.60" r="2.75" fill="#fff" stroke="#1e1e1e" stroke-width="0.85"/><circle cx="318.24" cy="525.60" r="0.6" fill="#1e1e1e"/><circle cx="324.82" cy="525.60" r="2.75" fill="#fff" stroke="#1e1e1e" stroke-width="0.85"/><circle cx="324.82" cy="525.60" r="0.6" fill="#1e1e1e"/><circle cx="331.40" cy="525.60" r="2.75" fill="#fff" stroke="#1e1e1e" stroke-width="0.85"/><circle cx="331.40" cy="525.60" r="0.6" fill="#1e1e1e"/>
<circle cx="68.20" cy="709.80" r="3.1" fill="#1e1e1e"/><circle cx="74.78" cy="671.12" r="3.1" fill="#1e1e1e"/><circle cx="81.36" cy="632.44" r="3.1" fill="#1e1e1e"/><circle cx="87.94" cy="604.81" r="3.1" fill="#1e1e1e"/><circle cx="94.52" cy="583.62" r="3.1" fill="#1e1e1e"/><circle cx="101.10" cy="568.89" r="3.1" fill="#1e1e1e"/><circle cx="107.68" cy="557.65" r="3.1" fill="#1e1e1e"/><circle cx="114.26" cy="551.20" r="3.1" fill="#1e1e1e"/><circle cx="120.84" cy="545.68" r="3.1" fill="#1e1e1e"/><circle cx="127.42" cy="539.60" r="3.1" fill="#1e1e1e"/><circle cx="134.00" cy="535.92" r="3.1" fill="#1e1e1e"/><circle cx="140.58" cy="534.07" r="3.1" fill="#1e1e1e"/><circle cx="147.16" cy="532.42" r="3.1" fill="#1e1e1e"/><circle cx="153.74" cy="531.49" r="3.1" fill="#1e1e1e"/><circle cx="160.32" cy="530.76" r="3.1" fill="#1e1e1e"/><circle cx="166.90" cy="530.20" r="3.1" fill="#1e1e1e"/><circle cx="173.48" cy="529.65" r="3.1" fill="#1e1e1e"/><circle cx="180.06" cy="529.28" r="3.1" fill="#1e1e1e"/><circle cx="186.64" cy="528.92" r="3.1" fill="#1e1e1e"/><circle cx="193.22" cy="528.55" r="3.1" fill="#1e1e1e"/><circle cx="199.80" cy="528.18" r="3.1" fill="#1e1e1e"/><circle cx="206.38" cy="527.81" r="3.1" fill="#1e1e1e"/><circle cx="212.96" cy="527.44" r="3.1" fill="#1e1e1e"/><circle cx="219.54" cy="527.07" r="3.1" fill="#1e1e1e"/><circle cx="226.12" cy="526.89" r="3.1" fill="#1e1e1e"/><circle cx="232.70" cy="526.71" r="3.1" fill="#1e1e1e"/><circle cx="239.28" cy="526.52" r="3.1" fill="#1e1e1e"/><circle cx="245.86" cy="526.34" r="3.1" fill="#1e1e1e"/><circle cx="252.44" cy="526.15" r="3.1" fill="#1e1e1e"/><circle cx="259.02" cy="525.97" r="3.1" fill="#1e1e1e"/><circle cx="265.60" cy="525.78" r="3.1" fill="#1e1e1e"/><circle cx="272.18" cy="525.60" r="3.1" fill="#1e1e1e"/><circle cx="278.76" cy="525.60" r="3.1" fill="#1e1e1e"/><circle cx="285.34" cy="525.60" r="3.1" fill="#1e1e1e"/><circle cx="291.92" cy="525.60" r="3.1" fill="#1e1e1e"/><circle cx="298.50" cy="525.60" r="3.1" fill="#1e1e1e"/><circle cx="305.08" cy="525.60" r="3.1" fill="#1e1e1e"/><circle cx="311.66" cy="525.60" r="3.1" fill="#1e1e1e"/><circle cx="318.24" cy="525.60" r="3.1" fill="#1e1e1e"/><circle cx="324.82" cy="525.60" r="3.1" fill="#1e1e1e"/><circle cx="331.40" cy="525.60" r="3.1" fill="#1e1e1e"/>
<path d="M64.70 707.30 H71.70 L68.20 713.70Z" fill="#1e1e1e"/><path d="M71.28 669.91 H78.28 L74.78 676.31Z" fill="#1e1e1e"/><path d="M77.86 631.23 H84.86 L81.36 637.63Z" fill="#1e1e1e"/><path d="M84.44 603.60 H91.44 L87.94 610.00Z" fill="#1e1e1e"/><path d="M91.02 582.41 H98.02 L94.52 588.81Z" fill="#1e1e1e"/><path d="M97.60 567.68 H104.60 L101.10 574.08Z" fill="#1e1e1e"/><path d="M104.18 556.44 H111.18 L107.68 562.84Z" fill="#1e1e1e"/><path d="M110.76 549.99 H117.76 L114.26 556.39Z" fill="#1e1e1e"/><path d="M117.34 544.47 H124.34 L120.84 550.87Z" fill="#1e1e1e"/><path d="M123.92 538.39 H130.92 L127.42 544.79Z" fill="#1e1e1e"/><path d="M130.50 534.70 H137.50 L134.00 541.10Z" fill="#1e1e1e"/><path d="M137.08 532.86 H144.08 L140.58 539.26Z" fill="#1e1e1e"/><path d="M143.66 531.20 H150.66 L147.16 537.60Z" fill="#1e1e1e"/><path d="M150.24 530.28 H157.24 L153.74 536.68Z" fill="#1e1e1e"/><path d="M156.82 529.55 H163.82 L160.32 535.95Z" fill="#1e1e1e"/><path d="M163.40 528.99 H170.40 L166.90 535.39Z" fill="#1e1e1e"/><path d="M169.98 528.44 H176.98 L173.48 534.84Z" fill="#1e1e1e"/><path d="M176.56 528.07 H183.56 L180.06 534.47Z" fill="#1e1e1e"/><path d="M183.14 527.70 H190.14 L186.64 534.10Z" fill="#1e1e1e"/><path d="M189.72 527.34 H196.72 L193.22 533.74Z" fill="#1e1e1e"/><path d="M196.30 526.97 H203.30 L199.80 533.37Z" fill="#1e1e1e"/><path d="M202.88 526.44 H209.88 L206.38 532.84Z" fill="#1e1e1e"/><path d="M209.46 525.91 H216.46 L212.96 532.31Z" fill="#1e1e1e"/><path d="M216.04 525.38 H223.04 L219.54 531.78Z" fill="#1e1e1e"/><path d="M222.62 525.03 H229.62 L226.12 531.43Z" fill="#1e1e1e"/><path d="M229.20 524.69 H236.20 L232.70 531.09Z" fill="#1e1e1e"/><path d="M235.78 524.34 H242.78 L239.28 530.74Z" fill="#1e1e1e"/><path d="M242.36 524.00 H249.36 L245.86 530.40Z" fill="#1e1e1e"/><path d="M248.94 523.65 H255.94 L252.44 530.05Z" fill="#1e1e1e"/><path d="M255.52 523.47 H262.52 L259.02 529.87Z" fill="#1e1e1e"/><path d="M262.10 523.28 H269.10 L265.60 529.68Z" fill="#1e1e1e"/><path d="M268.68 523.10 H275.68 L272.18 529.50Z" fill="#1e1e1e"/><path d="M275.26 523.10 H282.26 L278.76 529.50Z" fill="#1e1e1e"/><path d="M281.84 523.10 H288.84 L285.34 529.50Z" fill="#1e1e1e"/><path d="M288.42 523.10 H295.42 L291.92 529.50Z" fill="#1e1e1e"/><path d="M295.00 523.10 H302.00 L298.50 529.50Z" fill="#1e1e1e"/><path d="M301.58 523.10 H308.58 L305.08 529.50Z" fill="#1e1e1e"/><path d="M308.16 523.10 H315.16 L311.66 529.50Z" fill="#1e1e1e"/><path d="M314.74 523.10 H321.74 L318.24 529.50Z" fill="#1e1e1e"/><path d="M321.32 523.10 H328.32 L324.82 529.50Z" fill="#1e1e1e"/><path d="M327.90 523.10 H334.90 L331.40 529.50Z" fill="#1e1e1e"/>
<path d="M65.10 707.60 H71.30 L68.20 713.10Z" fill="#fff" stroke="#1e1e1e" stroke-width="0.8"/><path d="M71.68 682.73 H77.88 L74.78 688.23Z" fill="#fff" stroke="#1e1e1e" stroke-width="0.8"/><path d="M78.26 658.79 H84.46 L81.36 664.29Z" fill="#fff" stroke="#1e1e1e" stroke-width="0.8"/><path d="M84.84 633.55 H91.04 L87.94 639.05Z" fill="#fff" stroke="#1e1e1e" stroke-width="0.8"/><path d="M91.42 613.11 H97.62 L94.52 618.61Z" fill="#fff" stroke="#1e1e1e" stroke-width="0.8"/><path d="M98.00 597.82 H104.20 L101.10 603.32Z" fill="#fff" stroke="#1e1e1e" stroke-width="0.8"/><path d="M104.58 586.03 H110.78 L107.68 591.53Z" fill="#fff" stroke="#1e1e1e" stroke-width="0.8"/><path d="M111.16 574.05 H117.36 L114.26 579.55Z" fill="#fff" stroke="#1e1e1e" stroke-width="0.8"/><path d="M117.74 562.63 H123.94 L120.84 568.13Z" fill="#fff" stroke="#1e1e1e" stroke-width="0.8"/><path d="M124.32 555.27 H130.52 L127.42 560.77Z" fill="#fff" stroke="#1e1e1e" stroke-width="0.8"/><path d="M130.90 551.21 H137.10 L134.00 556.71Z" fill="#fff" stroke="#1e1e1e" stroke-width="0.8"/><path d="M137.48 547.35 H143.68 L140.58 552.85Z" fill="#fff" stroke="#1e1e1e" stroke-width="0.8"/><path d="M144.06 543.29 H150.26 L147.16 548.79Z" fill="#fff" stroke="#1e1e1e" stroke-width="0.8"/><path d="M150.64 539.98 H156.84 L153.74 545.48Z" fill="#fff" stroke="#1e1e1e" stroke-width="0.8"/><path d="M157.22 537.95 H163.42 L160.32 543.45Z" fill="#fff" stroke="#1e1e1e" stroke-width="0.8"/><path d="M163.80 536.29 H170.00 L166.90 541.79Z" fill="#fff" stroke="#1e1e1e" stroke-width="0.8"/><path d="M170.38 534.64 H176.58 L173.48 540.14Z" fill="#fff" stroke="#1e1e1e" stroke-width="0.8"/><path d="M176.96 532.61 H183.16 L180.06 538.11Z" fill="#fff" stroke="#1e1e1e" stroke-width="0.8"/><path d="M183.54 531.50 H189.74 L186.64 537.00Z" fill="#fff" stroke="#1e1e1e" stroke-width="0.8"/><path d="M190.12 530.58 H196.32 L193.22 536.08Z" fill="#fff" stroke="#1e1e1e" stroke-width="0.8"/><path d="M196.70 530.03 H202.90 L199.80 535.53Z" fill="#fff" stroke="#1e1e1e" stroke-width="0.8"/><path d="M203.28 529.66 H209.48 L206.38 535.16Z" fill="#fff" stroke="#1e1e1e" stroke-width="0.8"/><path d="M209.86 529.11 H216.06 L212.96 534.61Z" fill="#fff" stroke="#1e1e1e" stroke-width="0.8"/><path d="M216.44 528.74 H222.64 L219.54 534.24Z" fill="#fff" stroke="#1e1e1e" stroke-width="0.8"/><path d="M223.02 528.16 H229.22 L226.12 533.66Z" fill="#fff" stroke="#1e1e1e" stroke-width="0.8"/><path d="M229.60 527.58 H235.80 L232.70 533.08Z" fill="#fff" stroke="#1e1e1e" stroke-width="0.8"/><path d="M236.18 526.99 H242.38 L239.28 532.49Z" fill="#fff" stroke="#1e1e1e" stroke-width="0.8"/><path d="M242.76 526.41 H248.96 L245.86 531.91Z" fill="#fff" stroke="#1e1e1e" stroke-width="0.8"/><path d="M249.34 525.83 H255.54 L252.44 531.33Z" fill="#fff" stroke="#1e1e1e" stroke-width="0.8"/><path d="M255.92 525.43 H262.12 L259.02 530.93Z" fill="#fff" stroke="#1e1e1e" stroke-width="0.8"/><path d="M262.50 525.03 H268.70 L265.60 530.53Z" fill="#fff" stroke="#1e1e1e" stroke-width="0.8"/><path d="M269.08 524.63 H275.28 L272.18 530.13Z" fill="#fff" stroke="#1e1e1e" stroke-width="0.8"/><path d="M275.66 524.23 H281.86 L278.76 529.73Z" fill="#fff" stroke="#1e1e1e" stroke-width="0.8"/><path d="M282.24 523.83 H288.44 L285.34 529.33Z" fill="#fff" stroke="#1e1e1e" stroke-width="0.8"/><path d="M288.82 523.61 H295.02 L291.92 529.11Z" fill="#fff" stroke="#1e1e1e" stroke-width="0.8"/><path d="M295.40 523.40 H301.60 L298.50 528.90Z" fill="#fff" stroke="#1e1e1e" stroke-width="0.8"/><path d="M301.98 523.40 H308.18 L305.08 528.90Z" fill="#fff" stroke="#1e1e1e" stroke-width="0.8"/><path d="M308.56 523.40 H314.76 L311.66 528.90Z" fill="#fff" stroke="#1e1e1e" stroke-width="0.8"/><path d="M315.14 523.40 H321.34 L318.24 528.90Z" fill="#fff" stroke="#1e1e1e" stroke-width="0.8"/><path d="M321.72 523.40 H327.92 L324.82 528.90Z" fill="#fff" stroke="#1e1e1e" stroke-width="0.8"/><path d="M328.30 523.40 H334.50 L331.40 528.90Z" fill="#fff" stroke="#1e1e1e" stroke-width="0.8"/>
<rect x="65.40" y="707.00" width="5.6" height="5.6" fill="#1e1e1e"/><rect x="71.98" y="679.92" width="5.6" height="5.6" fill="#1e1e1e"/><rect x="78.56" y="654.13" width="5.6" height="5.6" fill="#1e1e1e"/><rect x="85.14" y="629.64" width="5.6" height="5.6" fill="#1e1e1e"/><rect x="91.72" y="609.93" width="5.6" height="5.6" fill="#1e1e1e"/><rect x="98.30" y="594.64" width="5.6" height="5.6" fill="#1e1e1e"/><rect x="104.88" y="582.85" width="5.6" height="5.6" fill="#1e1e1e"/><rect x="111.46" y="570.88" width="5.6" height="5.6" fill="#1e1e1e"/><rect x="118.04" y="559.46" width="5.6" height="5.6" fill="#1e1e1e"/><rect x="124.62" y="552.09" width="5.6" height="5.6" fill="#1e1e1e"/><rect x="131.20" y="548.04" width="5.6" height="5.6" fill="#1e1e1e"/><rect x="137.78" y="544.17" width="5.6" height="5.6" fill="#1e1e1e"/><rect x="144.36" y="540.11" width="5.6" height="5.6" fill="#1e1e1e"/><rect x="150.94" y="536.80" width="5.6" height="5.6" fill="#1e1e1e"/><rect x="157.52" y="534.77" width="5.6" height="5.6" fill="#1e1e1e"/><rect x="164.10" y="533.12" width="5.6" height="5.6" fill="#1e1e1e"/><rect x="170.68" y="531.46" width="5.6" height="5.6" fill="#1e1e1e"/><rect x="177.26" y="529.43" width="5.6" height="5.6" fill="#1e1e1e"/><rect x="183.84" y="528.33" width="5.6" height="5.6" fill="#1e1e1e"/><rect x="190.42" y="527.40" width="5.6" height="5.6" fill="#1e1e1e"/><rect x="197.00" y="526.85" width="5.6" height="5.6" fill="#1e1e1e"/><rect x="203.58" y="526.48" width="5.6" height="5.6" fill="#1e1e1e"/><rect x="210.16" y="525.93" width="5.6" height="5.6" fill="#1e1e1e"/><rect x="216.74" y="525.56" width="5.6" height="5.6" fill="#1e1e1e"/><rect x="223.32" y="525.19" width="5.6" height="5.6" fill="#1e1e1e"/><rect x="229.90" y="524.83" width="5.6" height="5.6" fill="#1e1e1e"/><rect x="236.48" y="524.46" width="5.6" height="5.6" fill="#1e1e1e"/><rect x="243.06" y="524.09" width="5.6" height="5.6" fill="#1e1e1e"/><rect x="249.64" y="523.72" width="5.6" height="5.6" fill="#1e1e1e"/><rect x="256.22" y="523.54" width="5.6" height="5.6" fill="#1e1e1e"/><rect x="262.80" y="523.35" width="5.6" height="5.6" fill="#1e1e1e"/><rect x="269.38" y="523.17" width="5.6" height="5.6" fill="#1e1e1e"/><rect x="275.96" y="522.98" width="5.6" height="5.6" fill="#1e1e1e"/><rect x="282.54" y="522.80" width="5.6" height="5.6" fill="#1e1e1e"/><rect x="289.12" y="522.80" width="5.6" height="5.6" fill="#1e1e1e"/><rect x="295.70" y="522.80" width="5.6" height="5.6" fill="#1e1e1e"/><rect x="302.28" y="522.80" width="5.6" height="5.6" fill="#1e1e1e"/><rect x="308.86" y="522.80" width="5.6" height="5.6" fill="#1e1e1e"/><rect x="315.44" y="522.80" width="5.6" height="5.6" fill="#1e1e1e"/><rect x="322.02" y="522.80" width="5.6" height="5.6" fill="#1e1e1e"/><rect x="328.60" y="522.80" width="5.6" height="5.6" fill="#1e1e1e"/>
<path d="M420.60 709.80 L425.00 709.80 L429.40 709.80 L433.80 709.80 L438.20 709.80 L442.60 709.80 L447.00 709.80 L451.40 709.80 L455.80 709.80 L460.20 709.80 L464.60 709.80 L469.00 709.80 L473.40 702.80 L477.80 683.09 L482.20 673.14 L486.60 654.36 L491.00 640.17 L495.40 630.23 L499.80 612.36 L504.20 599.65 L508.60 592.46 L513.00 579.94 L517.40 569.26 L521.80 557.47 L526.20 552.12 L530.60 548.62 L535.00 544.20 L539.40 540.52 L543.80 537.94 L548.20 536.10 L552.60 534.26 L557.00 533.34 L561.40 532.71 L565.80 532.14 L570.20 531.62 L574.60 531.15 L579.00 530.71 L583.40 530.32 L587.80 529.95 L592.20 529.62 L596.60 529.32 L601.00 529.05 L605.40 528.80 L609.80 528.57 L614.20 528.36 L618.60 528.16 L623.00 527.99 L627.40 527.83 L631.80 527.68 L636.20 527.55 L640.60 526.88 L645.00 526.77 L649.40 526.66 L653.80 526.57 L658.20 526.49 L662.60 526.41 L667.00 526.34 L671.40 526.28 L675.80 526.22 L680.20 526.16 L684.60 525.60" fill="none" stroke="#2a2a2a" stroke-width="0.9"/>
<path d="M420.60 709.80 L425.00 709.80 L429.40 709.80 L433.80 709.80 L438.20 709.80 L442.60 709.80 L447.00 709.80 L451.40 709.80 L455.80 709.80 L460.20 709.80 L464.60 709.80 L469.00 709.80 L473.40 702.25 L477.80 686.22 L482.20 676.28 L486.60 657.49 L491.00 643.30 L495.40 633.36 L499.80 615.49 L504.20 602.78 L508.60 595.60 L513.00 583.07 L517.40 572.39 L521.80 560.60 L526.20 555.26 L530.60 551.76 L535.00 547.34 L539.40 540.70 L543.80 534.99 L548.20 533.15 L552.60 531.31 L557.00 530.39 L561.40 531.79 L565.80 531.22 L570.20 530.70 L574.60 530.23 L579.00 529.79 L583.40 529.40 L587.80 529.03 L592.20 528.70 L596.60 528.40 L601.00 528.49 L605.40 528.24 L609.80 528.01 L614.20 527.80 L618.60 527.61 L623.00 527.44 L627.40 527.28 L631.80 527.13 L636.20 527.00 L640.60 526.88 L645.00 526.77 L649.40 526.66 L653.80 526.57 L658.20 526.49 L662.60 526.41 L667.00 526.34 L671.40 526.28 L675.80 526.22 L680.20 526.16 L684.60 525.60" fill="none" stroke="#777" stroke-width="0.9" stroke-dasharray="1 2"/>
<path d="M420.60 709.80 L425.00 709.80 L429.40 709.80 L433.80 709.80 L438.20 709.80 L442.60 709.80 L447.00 709.80 L451.40 709.80 L455.80 709.80 L460.20 709.80 L464.60 709.80 L469.00 709.80 L473.40 703.54 L477.80 683.83 L482.20 673.88 L486.60 655.09 L491.00 640.91 L495.40 630.96 L499.80 613.09 L504.20 600.39 L508.60 593.20 L513.00 580.68 L517.40 569.99 L521.80 558.20 L526.20 552.86 L530.60 549.36 L535.00 544.94 L539.40 541.26 L543.80 538.68 L548.20 536.84 L552.60 534.99 L557.00 534.07 L561.40 533.45 L565.80 532.88 L570.20 532.36 L574.60 531.88 L579.00 531.45 L583.40 531.05 L587.80 530.69 L592.20 530.36 L596.60 530.06 L601.00 529.78 L605.40 529.53 L609.80 529.30 L614.20 529.09 L618.60 528.90 L623.00 528.73 L627.40 528.57 L631.80 528.42 L636.20 528.29 L640.60 526.88 L645.00 526.77 L649.40 526.66 L653.80 526.57 L658.20 526.49 L662.60 526.41 L667.00 526.34 L671.40 526.28 L675.80 526.22 L680.20 526.16 L684.60 525.60" fill="none" stroke="#2a2a2a" stroke-width="0.9" stroke-dasharray="6 3"/>
<path d="M420.60 709.80 L425.00 709.80 L429.40 709.80 L433.80 709.80 L438.20 709.80 L442.60 709.80 L447.00 709.80 L451.40 709.80 L455.80 709.80 L460.20 709.80 L464.60 709.80 L469.00 709.80 L473.40 702.25 L477.80 684.93 L482.20 674.99 L486.60 656.20 L491.00 642.01 L495.40 632.07 L499.80 614.20 L504.20 601.49 L508.60 594.31 L513.00 581.78 L517.40 571.10 L521.80 559.31 L526.20 553.97 L530.60 550.47 L535.00 546.05 L539.40 542.36 L543.80 539.78 L548.20 537.94 L552.60 536.10 L557.00 535.18 L561.40 534.55 L565.80 533.98 L570.20 533.46 L574.60 532.99 L579.00 532.55 L583.40 532.16 L587.80 531.80 L592.20 531.47 L596.60 531.16 L601.00 530.89 L605.40 530.64 L609.80 530.41 L614.20 530.20 L618.60 530.01 L623.00 528.54 L627.40 528.38 L631.80 528.24 L636.20 528.10 L640.60 527.98 L645.00 527.87 L649.40 527.77 L653.80 527.68 L658.20 527.59 L662.60 527.52 L667.00 526.34 L671.40 526.28 L675.80 526.22 L680.20 526.16 L684.60 525.60" fill="none" stroke="#2a2a2a" stroke-width="0.9" stroke-dasharray="7 2 1 2 1 2"/>
<path d="M420.60 709.80 L425.00 709.80 L429.40 709.80 L433.80 709.80 L438.20 709.80 L442.60 709.80 L447.00 709.80 L451.40 709.80 L455.80 709.80 L460.20 709.80 L464.60 709.80 L469.00 709.80 L473.40 702.25 L477.80 682.54 L482.20 672.59 L486.60 653.80 L491.00 639.62 L495.40 629.67 L499.80 611.81 L504.20 599.10 L508.60 591.91 L513.00 579.39 L517.40 568.70 L521.80 556.91 L526.20 551.57 L530.60 548.07 L535.00 543.65 L539.40 539.97 L543.80 537.39 L548.20 535.55 L552.60 533.70 L557.00 532.78 L561.40 532.16 L565.80 531.59 L570.20 531.07 L574.60 530.59 L579.00 530.16 L583.40 529.76 L587.80 529.40 L592.20 529.07 L596.60 528.77 L601.00 528.49 L605.40 528.24 L609.80 528.01 L614.20 527.80 L618.60 527.61 L623.00 527.44 L627.40 527.28 L631.80 527.13 L636.20 527.00 L640.60 526.88 L645.00 526.77 L649.40 526.66 L653.80 526.57 L658.20 526.49 L662.60 526.41 L667.00 526.34 L671.40 526.28 L675.80 526.22 L680.20 526.16 L684.60 525.60" fill="none" stroke="#2a2a2a" stroke-width="0.9" stroke-dasharray="10 5"/>
<circle cx="420.60" cy="709.80" r="3.1" fill="#1e1e1e"/><circle cx="425.00" cy="709.80" r="3.1" fill="#1e1e1e"/><circle cx="429.40" cy="709.80" r="3.1" fill="#1e1e1e"/><circle cx="433.80" cy="709.80" r="3.1" fill="#1e1e1e"/><circle cx="438.20" cy="709.80" r="3.1" fill="#1e1e1e"/><circle cx="442.60" cy="709.80" r="3.1" fill="#1e1e1e"/><circle cx="447.00" cy="709.80" r="3.1" fill="#1e1e1e"/><circle cx="451.40" cy="709.80" r="3.1" fill="#1e1e1e"/><circle cx="455.80" cy="709.80" r="3.1" fill="#1e1e1e"/><circle cx="460.20" cy="709.80" r="3.1" fill="#1e1e1e"/><circle cx="464.60" cy="709.80" r="3.1" fill="#1e1e1e"/><circle cx="469.00" cy="709.80" r="3.1" fill="#1e1e1e"/><circle cx="473.40" cy="702.80" r="3.1" fill="#1e1e1e"/><circle cx="477.80" cy="683.09" r="3.1" fill="#1e1e1e"/><circle cx="482.20" cy="673.14" r="3.1" fill="#1e1e1e"/><circle cx="486.60" cy="654.36" r="3.1" fill="#1e1e1e"/><circle cx="491.00" cy="640.17" r="3.1" fill="#1e1e1e"/><circle cx="495.40" cy="630.23" r="3.1" fill="#1e1e1e"/><circle cx="499.80" cy="612.36" r="3.1" fill="#1e1e1e"/><circle cx="504.20" cy="599.65" r="3.1" fill="#1e1e1e"/><circle cx="508.60" cy="592.46" r="3.1" fill="#1e1e1e"/><circle cx="513.00" cy="579.94" r="3.1" fill="#1e1e1e"/><circle cx="517.40" cy="569.26" r="3.1" fill="#1e1e1e"/><circle cx="521.80" cy="557.47" r="3.1" fill="#1e1e1e"/><circle cx="526.20" cy="552.12" r="3.1" fill="#1e1e1e"/><circle cx="530.60" cy="548.62" r="3.1" fill="#1e1e1e"/><circle cx="535.00" cy="544.20" r="3.1" fill="#1e1e1e"/><circle cx="539.40" cy="540.52" r="3.1" fill="#1e1e1e"/><circle cx="543.80" cy="537.94" r="3.1" fill="#1e1e1e"/><circle cx="548.20" cy="536.10" r="3.1" fill="#1e1e1e"/><circle cx="552.60" cy="534.26" r="3.1" fill="#1e1e1e"/><circle cx="557.00" cy="533.34" r="3.1" fill="#1e1e1e"/><circle cx="561.40" cy="532.71" r="3.1" fill="#1e1e1e"/><circle cx="565.80" cy="532.14" r="3.1" fill="#1e1e1e"/><circle cx="570.20" cy="531.62" r="3.1" fill="#1e1e1e"/><circle cx="574.60" cy="531.15" r="3.1" fill="#1e1e1e"/><circle cx="579.00" cy="530.71" r="3.1" fill="#1e1e1e"/><circle cx="583.40" cy="530.32" r="3.1" fill="#1e1e1e"/><circle cx="587.80" cy="529.95" r="3.1" fill="#1e1e1e"/><circle cx="592.20" cy="529.62" r="3.1" fill="#1e1e1e"/><circle cx="596.60" cy="529.32" r="3.1" fill="#1e1e1e"/><circle cx="601.00" cy="529.05" r="3.1" fill="#1e1e1e"/><circle cx="605.40" cy="528.80" r="3.1" fill="#1e1e1e"/><circle cx="609.80" cy="528.57" r="3.1" fill="#1e1e1e"/><circle cx="614.20" cy="528.36" r="3.1" fill="#1e1e1e"/><circle cx="618.60" cy="528.16" r="3.1" fill="#1e1e1e"/><circle cx="623.00" cy="527.99" r="3.1" fill="#1e1e1e"/><circle cx="627.40" cy="527.83" r="3.1" fill="#1e1e1e"/><circle cx="631.80" cy="527.68" r="3.1" fill="#1e1e1e"/><circle cx="636.20" cy="527.55" r="3.1" fill="#1e1e1e"/><circle cx="640.60" cy="526.88" r="3.1" fill="#1e1e1e"/><circle cx="645.00" cy="526.77" r="3.1" fill="#1e1e1e"/><circle cx="649.40" cy="526.66" r="3.1" fill="#1e1e1e"/><circle cx="653.80" cy="526.57" r="3.1" fill="#1e1e1e"/><circle cx="658.20" cy="526.49" r="3.1" fill="#1e1e1e"/><circle cx="662.60" cy="526.41" r="3.1" fill="#1e1e1e"/><circle cx="667.00" cy="526.34" r="3.1" fill="#1e1e1e"/><circle cx="671.40" cy="526.28" r="3.1" fill="#1e1e1e"/><circle cx="675.80" cy="526.22" r="3.1" fill="#1e1e1e"/><circle cx="680.20" cy="526.16" r="3.1" fill="#1e1e1e"/><circle cx="684.60" cy="525.60" r="3.1" fill="#1e1e1e"/>
<path d="M417.10 707.30 H424.10 L420.60 713.70Z" fill="#1e1e1e"/><path d="M421.50 707.30 H428.50 L425.00 713.70Z" fill="#1e1e1e"/><path d="M425.90 707.30 H432.90 L429.40 713.70Z" fill="#1e1e1e"/><path d="M430.30 707.30 H437.30 L433.80 713.70Z" fill="#1e1e1e"/><path d="M434.70 707.30 H441.70 L438.20 713.70Z" fill="#1e1e1e"/><path d="M439.10 707.30 H446.10 L442.60 713.70Z" fill="#1e1e1e"/><path d="M443.50 707.30 H450.50 L447.00 713.70Z" fill="#1e1e1e"/><path d="M447.90 707.30 H454.90 L451.40 713.70Z" fill="#1e1e1e"/><path d="M452.30 707.30 H459.30 L455.80 713.70Z" fill="#1e1e1e"/><path d="M456.70 707.30 H463.70 L460.20 713.70Z" fill="#1e1e1e"/><path d="M461.10 707.30 H468.10 L464.60 713.70Z" fill="#1e1e1e"/><path d="M465.50 707.30 H472.50 L469.00 713.70Z" fill="#1e1e1e"/><path d="M469.90 701.04 H476.90 L473.40 707.44Z" fill="#1e1e1e"/><path d="M474.30 681.33 H481.30 L477.80 687.73Z" fill="#1e1e1e"/><path d="M478.70 671.38 H485.70 L482.20 677.78Z" fill="#1e1e1e"/><path d="M483.10 652.59 H490.10 L486.60 658.99Z" fill="#1e1e1e"/><path d="M487.50 638.41 H494.50 L491.00 644.81Z" fill="#1e1e1e"/><path d="M491.90 628.46 H498.90 L495.40 634.86Z" fill="#1e1e1e"/><path d="M496.30 610.59 H503.30 L499.80 616.99Z" fill="#1e1e1e"/><path d="M500.70 597.89 H507.70 L504.20 604.29Z" fill="#1e1e1e"/><path d="M505.10 590.70 H512.10 L508.60 597.10Z" fill="#1e1e1e"/><path d="M509.50 578.18 H516.50 L513.00 584.58Z" fill="#1e1e1e"/><path d="M513.90 567.49 H520.90 L517.40 573.89Z" fill="#1e1e1e"/><path d="M518.30 555.70 H525.30 L521.80 562.10Z" fill="#1e1e1e"/><path d="M522.70 550.36 H529.70 L526.20 556.76Z" fill="#1e1e1e"/><path d="M527.10 546.86 H534.10 L530.60 553.26Z" fill="#1e1e1e"/><path d="M531.50 542.44 H538.50 L535.00 548.84Z" fill="#1e1e1e"/><path d="M535.90 538.76 H542.90 L539.40 545.16Z" fill="#1e1e1e"/><path d="M540.30 536.18 H547.30 L543.80 542.58Z" fill="#1e1e1e"/><path d="M544.70 534.34 H551.70 L548.20 540.74Z" fill="#1e1e1e"/><path d="M549.10 532.49 H556.10 L552.60 538.89Z" fill="#1e1e1e"/><path d="M553.50 531.57 H560.50 L557.00 537.97Z" fill="#1e1e1e"/><path d="M557.90 530.95 H564.90 L561.40 537.35Z" fill="#1e1e1e"/><path d="M562.30 530.38 H569.30 L565.80 536.78Z" fill="#1e1e1e"/><path d="M566.70 529.86 H573.70 L570.20 536.26Z" fill="#1e1e1e"/><path d="M571.10 529.38 H578.10 L574.60 535.78Z" fill="#1e1e1e"/><path d="M575.50 528.95 H582.50 L579.00 535.35Z" fill="#1e1e1e"/><path d="M579.90 528.55 H586.90 L583.40 534.95Z" fill="#1e1e1e"/><path d="M584.30 528.19 H591.30 L587.80 534.59Z" fill="#1e1e1e"/><path d="M588.70 527.86 H595.70 L592.20 534.26Z" fill="#1e1e1e"/><path d="M593.10 527.56 H600.10 L596.60 533.96Z" fill="#1e1e1e"/><path d="M597.50 527.28 H604.50 L601.00 533.68Z" fill="#1e1e1e"/><path d="M601.90 527.03 H608.90 L605.40 533.43Z" fill="#1e1e1e"/><path d="M606.30 526.80 H613.30 L609.80 533.20Z" fill="#1e1e1e"/><path d="M610.70 526.59 H617.70 L614.20 532.99Z" fill="#1e1e1e"/><path d="M615.10 526.40 H622.10 L618.60 532.80Z" fill="#1e1e1e"/><path d="M619.50 526.23 H626.50 L623.00 532.63Z" fill="#1e1e1e"/><path d="M623.90 526.07 H630.90 L627.40 532.47Z" fill="#1e1e1e"/><path d="M628.30 525.92 H635.30 L631.80 532.32Z" fill="#1e1e1e"/><path d="M632.70 525.79 H639.70 L636.20 532.19Z" fill="#1e1e1e"/><path d="M637.10 524.38 H644.10 L640.60 530.78Z" fill="#1e1e1e"/><path d="M641.50 524.27 H648.50 L645.00 530.67Z" fill="#1e1e1e"/><path d="M645.90 524.16 H652.90 L649.40 530.56Z" fill="#1e1e1e"/><path d="M650.30 524.07 H657.30 L653.80 530.47Z" fill="#1e1e1e"/><path d="M654.70 523.99 H661.70 L658.20 530.39Z" fill="#1e1e1e"/><path d="M659.10 523.91 H666.10 L662.60 530.31Z" fill="#1e1e1e"/><path d="M663.50 523.84 H670.50 L667.00 530.24Z" fill="#1e1e1e"/><path d="M667.90 523.78 H674.90 L671.40 530.18Z" fill="#1e1e1e"/><path d="M672.30 523.72 H679.30 L675.80 530.12Z" fill="#1e1e1e"/><path d="M676.70 523.66 H683.70 L680.20 530.06Z" fill="#1e1e1e"/><path d="M681.10 523.10 H688.10 L684.60 529.50Z" fill="#1e1e1e"/>
<circle cx="420.60" cy="709.80" r="2.75" fill="#fff" stroke="#1e1e1e" stroke-width="0.85"/><circle cx="420.60" cy="709.80" r="0.6" fill="#1e1e1e"/><circle cx="425.00" cy="709.80" r="2.75" fill="#fff" stroke="#1e1e1e" stroke-width="0.85"/><circle cx="425.00" cy="709.80" r="0.6" fill="#1e1e1e"/><circle cx="429.40" cy="709.80" r="2.75" fill="#fff" stroke="#1e1e1e" stroke-width="0.85"/><circle cx="429.40" cy="709.80" r="0.6" fill="#1e1e1e"/><circle cx="433.80" cy="709.80" r="2.75" fill="#fff" stroke="#1e1e1e" stroke-width="0.85"/><circle cx="433.80" cy="709.80" r="0.6" fill="#1e1e1e"/><circle cx="438.20" cy="709.80" r="2.75" fill="#fff" stroke="#1e1e1e" stroke-width="0.85"/><circle cx="438.20" cy="709.80" r="0.6" fill="#1e1e1e"/><circle cx="442.60" cy="709.80" r="2.75" fill="#fff" stroke="#1e1e1e" stroke-width="0.85"/><circle cx="442.60" cy="709.80" r="0.6" fill="#1e1e1e"/><circle cx="447.00" cy="709.80" r="2.75" fill="#fff" stroke="#1e1e1e" stroke-width="0.85"/><circle cx="447.00" cy="709.80" r="0.6" fill="#1e1e1e"/><circle cx="451.40" cy="709.80" r="2.75" fill="#fff" stroke="#1e1e1e" stroke-width="0.85"/><circle cx="451.40" cy="709.80" r="0.6" fill="#1e1e1e"/><circle cx="455.80" cy="709.80" r="2.75" fill="#fff" stroke="#1e1e1e" stroke-width="0.85"/><circle cx="455.80" cy="709.80" r="0.6" fill="#1e1e1e"/><circle cx="460.20" cy="709.80" r="2.75" fill="#fff" stroke="#1e1e1e" stroke-width="0.85"/><circle cx="460.20" cy="709.80" r="0.6" fill="#1e1e1e"/><circle cx="464.60" cy="709.80" r="2.75" fill="#fff" stroke="#1e1e1e" stroke-width="0.85"/><circle cx="464.60" cy="709.80" r="0.6" fill="#1e1e1e"/><circle cx="469.00" cy="709.80" r="2.75" fill="#fff" stroke="#1e1e1e" stroke-width="0.85"/><circle cx="469.00" cy="709.80" r="0.6" fill="#1e1e1e"/><circle cx="473.40" cy="702.25" r="2.75" fill="#fff" stroke="#1e1e1e" stroke-width="0.85"/><circle cx="473.40" cy="702.25" r="0.6" fill="#1e1e1e"/><circle cx="477.80" cy="686.22" r="2.75" fill="#fff" stroke="#1e1e1e" stroke-width="0.85"/><circle cx="477.80" cy="686.22" r="0.6" fill="#1e1e1e"/><circle cx="482.20" cy="676.28" r="2.75" fill="#fff" stroke="#1e1e1e" stroke-width="0.85"/><circle cx="482.20" cy="676.28" r="0.6" fill="#1e1e1e"/><circle cx="486.60" cy="657.49" r="2.75" fill="#fff" stroke="#1e1e1e" stroke-width="0.85"/><circle cx="486.60" cy="657.49" r="0.6" fill="#1e1e1e"/><circle cx="491.00" cy="643.30" r="2.75" fill="#fff" stroke="#1e1e1e" stroke-width="0.85"/><circle cx="491.00" cy="643.30" r="0.6" fill="#1e1e1e"/><circle cx="495.40" cy="633.36" r="2.75" fill="#fff" stroke="#1e1e1e" stroke-width="0.85"/><circle cx="495.40" cy="633.36" r="0.6" fill="#1e1e1e"/><circle cx="499.80" cy="615.49" r="2.75" fill="#fff" stroke="#1e1e1e" stroke-width="0.85"/><circle cx="499.80" cy="615.49" r="0.6" fill="#1e1e1e"/><circle cx="504.20" cy="602.78" r="2.75" fill="#fff" stroke="#1e1e1e" stroke-width="0.85"/><circle cx="504.20" cy="602.78" r="0.6" fill="#1e1e1e"/><circle cx="508.60" cy="595.60" r="2.75" fill="#fff" stroke="#1e1e1e" stroke-width="0.85"/><circle cx="508.60" cy="595.60" r="0.6" fill="#1e1e1e"/><circle cx="513.00" cy="583.07" r="2.75" fill="#fff" stroke="#1e1e1e" stroke-width="0.85"/><circle cx="513.00" cy="583.07" r="0.6" fill="#1e1e1e"/><circle cx="517.40" cy="572.39" r="2.75" fill="#fff" stroke="#1e1e1e" stroke-width="0.85"/><circle cx="517.40" cy="572.39" r="0.6" fill="#1e1e1e"/><circle cx="521.80" cy="560.60" r="2.75" fill="#fff" stroke="#1e1e1e" stroke-width="0.85"/><circle cx="521.80" cy="560.60" r="0.6" fill="#1e1e1e"/><circle cx="526.20" cy="555.26" r="2.75" fill="#fff" stroke="#1e1e1e" stroke-width="0.85"/><circle cx="526.20" cy="555.26" r="0.6" fill="#1e1e1e"/><circle cx="530.60" cy="551.76" r="2.75" fill="#fff" stroke="#1e1e1e" stroke-width="0.85"/><circle cx="530.60" cy="551.76" r="0.6" fill="#1e1e1e"/><circle cx="535.00" cy="547.34" r="2.75" fill="#fff" stroke="#1e1e1e" stroke-width="0.85"/><circle cx="535.00" cy="547.34" r="0.6" fill="#1e1e1e"/><circle cx="539.40" cy="540.70" r="2.75" fill="#fff" stroke="#1e1e1e" stroke-width="0.85"/><circle cx="539.40" cy="540.70" r="0.6" fill="#1e1e1e"/><circle cx="543.80" cy="534.99" r="2.75" fill="#fff" stroke="#1e1e1e" stroke-width="0.85"/><circle cx="543.80" cy="534.99" r="0.6" fill="#1e1e1e"/><circle cx="548.20" cy="533.15" r="2.75" fill="#fff" stroke="#1e1e1e" stroke-width="0.85"/><circle cx="548.20" cy="533.15" r="0.6" fill="#1e1e1e"/><circle cx="552.60" cy="531.31" r="2.75" fill="#fff" stroke="#1e1e1e" stroke-width="0.85"/><circle cx="552.60" cy="531.31" r="0.6" fill="#1e1e1e"/><circle cx="557.00" cy="530.39" r="2.75" fill="#fff" stroke="#1e1e1e" stroke-width="0.85"/><circle cx="557.00" cy="530.39" r="0.6" fill="#1e1e1e"/><circle cx="561.40" cy="531.79" r="2.75" fill="#fff" stroke="#1e1e1e" stroke-width="0.85"/><circle cx="561.40" cy="531.79" r="0.6" fill="#1e1e1e"/><circle cx="565.80" cy="531.22" r="2.75" fill="#fff" stroke="#1e1e1e" stroke-width="0.85"/><circle cx="565.80" cy="531.22" r="0.6" fill="#1e1e1e"/><circle cx="570.20" cy="530.70" r="2.75" fill="#fff" stroke="#1e1e1e" stroke-width="0.85"/><circle cx="570.20" cy="530.70" r="0.6" fill="#1e1e1e"/><circle cx="574.60" cy="530.23" r="2.75" fill="#fff" stroke="#1e1e1e" stroke-width="0.85"/><circle cx="574.60" cy="530.23" r="0.6" fill="#1e1e1e"/><circle cx="579.00" cy="529.79" r="2.75" fill="#fff" stroke="#1e1e1e" stroke-width="0.85"/><circle cx="579.00" cy="529.79" r="0.6" fill="#1e1e1e"/><circle cx="583.40" cy="529.40" r="2.75" fill="#fff" stroke="#1e1e1e" stroke-width="0.85"/><circle cx="583.40" cy="529.40" r="0.6" fill="#1e1e1e"/><circle cx="587.80" cy="529.03" r="2.75" fill="#fff" stroke="#1e1e1e" stroke-width="0.85"/><circle cx="587.80" cy="529.03" r="0.6" fill="#1e1e1e"/><circle cx="592.20" cy="528.70" r="2.75" fill="#fff" stroke="#1e1e1e" stroke-width="0.85"/><circle cx="592.20" cy="528.70" r="0.6" fill="#1e1e1e"/><circle cx="596.60" cy="528.40" r="2.75" fill="#fff" stroke="#1e1e1e" stroke-width="0.85"/><circle cx="596.60" cy="528.40" r="0.6" fill="#1e1e1e"/><circle cx="601.00" cy="528.49" r="2.75" fill="#fff" stroke="#1e1e1e" stroke-width="0.85"/><circle cx="601.00" cy="528.49" r="0.6" fill="#1e1e1e"/><circle cx="605.40" cy="528.24" r="2.75" fill="#fff" stroke="#1e1e1e" stroke-width="0.85"/><circle cx="605.40" cy="528.24" r="0.6" fill="#1e1e1e"/><circle cx="609.80" cy="528.01" r="2.75" fill="#fff" stroke="#1e1e1e" stroke-width="0.85"/><circle cx="609.80" cy="528.01" r="0.6" fill="#1e1e1e"/><circle cx="614.20" cy="527.80" r="2.75" fill="#fff" stroke="#1e1e1e" stroke-width="0.85"/><circle cx="614.20" cy="527.80" r="0.6" fill="#1e1e1e"/><circle cx="618.60" cy="527.61" r="2.75" fill="#fff" stroke="#1e1e1e" stroke-width="0.85"/><circle cx="618.60" cy="527.61" r="0.6" fill="#1e1e1e"/><circle cx="623.00" cy="527.44" r="2.75" fill="#fff" stroke="#1e1e1e" stroke-width="0.85"/><circle cx="623.00" cy="527.44" r="0.6" fill="#1e1e1e"/><circle cx="627.40" cy="527.28" r="2.75" fill="#fff" stroke="#1e1e1e" stroke-width="0.85"/><circle cx="627.40" cy="527.28" r="0.6" fill="#1e1e1e"/><circle cx="631.80" cy="527.13" r="2.75" fill="#fff" stroke="#1e1e1e" stroke-width="0.85"/><circle cx="631.80" cy="527.13" r="0.6" fill="#1e1e1e"/><circle cx="636.20" cy="527.00" r="2.75" fill="#fff" stroke="#1e1e1e" stroke-width="0.85"/><circle cx="636.20" cy="527.00" r="0.6" fill="#1e1e1e"/><circle cx="640.60" cy="526.88" r="2.75" fill="#fff" stroke="#1e1e1e" stroke-width="0.85"/><circle cx="640.60" cy="526.88" r="0.6" fill="#1e1e1e"/><circle cx="645.00" cy="526.77" r="2.75" fill="#fff" stroke="#1e1e1e" stroke-width="0.85"/><circle cx="645.00" cy="526.77" r="0.6" fill="#1e1e1e"/><circle cx="649.40" cy="526.66" r="2.75" fill="#fff" stroke="#1e1e1e" stroke-width="0.85"/><circle cx="649.40" cy="526.66" r="0.6" fill="#1e1e1e"/><circle cx="653.80" cy="526.57" r="2.75" fill="#fff" stroke="#1e1e1e" stroke-width="0.85"/><circle cx="653.80" cy="526.57" r="0.6" fill="#1e1e1e"/><circle cx="658.20" cy="526.49" r="2.75" fill="#fff" stroke="#1e1e1e" stroke-width="0.85"/><circle cx="658.20" cy="526.49" r="0.6" fill="#1e1e1e"/><circle cx="662.60" cy="526.41" r="2.75" fill="#fff" stroke="#1e1e1e" stroke-width="0.85"/><circle cx="662.60" cy="526.41" r="0.6" fill="#1e1e1e"/><circle cx="667.00" cy="526.34" r="2.75" fill="#fff" stroke="#1e1e1e" stroke-width="0.85"/><circle cx="667.00" cy="526.34" r="0.6" fill="#1e1e1e"/><circle cx="671.40" cy="526.28" r="2.75" fill="#fff" stroke="#1e1e1e" stroke-width="0.85"/><circle cx="671.40" cy="526.28" r="0.6" fill="#1e1e1e"/><circle cx="675.80" cy="526.22" r="2.75" fill="#fff" stroke="#1e1e1e" stroke-width="0.85"/><circle cx="675.80" cy="526.22" r="0.6" fill="#1e1e1e"/><circle cx="680.20" cy="526.16" r="2.75" fill="#fff" stroke="#1e1e1e" stroke-width="0.85"/><circle cx="680.20" cy="526.16" r="0.6" fill="#1e1e1e"/><circle cx="684.60" cy="525.60" r="2.75" fill="#fff" stroke="#1e1e1e" stroke-width="0.85"/><circle cx="684.60" cy="525.60" r="0.6" fill="#1e1e1e"/>
<path d="M417.50 707.60 H423.70 L420.60 713.10Z" fill="#fff" stroke="#1e1e1e" stroke-width="0.8"/><path d="M421.90 707.60 H428.10 L425.00 713.10Z" fill="#fff" stroke="#1e1e1e" stroke-width="0.8"/><path d="M426.30 707.60 H432.50 L429.40 713.10Z" fill="#fff" stroke="#1e1e1e" stroke-width="0.8"/><path d="M430.70 707.60 H436.90 L433.80 713.10Z" fill="#fff" stroke="#1e1e1e" stroke-width="0.8"/><path d="M435.10 707.60 H441.30 L438.20 713.10Z" fill="#fff" stroke="#1e1e1e" stroke-width="0.8"/><path d="M439.50 707.60 H445.70 L442.60 713.10Z" fill="#fff" stroke="#1e1e1e" stroke-width="0.8"/><path d="M443.90 707.60 H450.10 L447.00 713.10Z" fill="#fff" stroke="#1e1e1e" stroke-width="0.8"/><path d="M448.30 707.60 H454.50 L451.40 713.10Z" fill="#fff" stroke="#1e1e1e" stroke-width="0.8"/><path d="M452.70 707.60 H458.90 L455.80 713.10Z" fill="#fff" stroke="#1e1e1e" stroke-width="0.8"/><path d="M457.10 707.60 H463.30 L460.20 713.10Z" fill="#fff" stroke="#1e1e1e" stroke-width="0.8"/><path d="M461.50 707.60 H467.70 L464.60 713.10Z" fill="#fff" stroke="#1e1e1e" stroke-width="0.8"/><path d="M465.90 707.60 H472.10 L469.00 713.10Z" fill="#fff" stroke="#1e1e1e" stroke-width="0.8"/><path d="M470.30 700.05 H476.50 L473.40 705.55Z" fill="#fff" stroke="#1e1e1e" stroke-width="0.8"/><path d="M474.70 682.73 H480.90 L477.80 688.23Z" fill="#fff" stroke="#1e1e1e" stroke-width="0.8"/><path d="M479.10 672.79 H485.30 L482.20 678.29Z" fill="#fff" stroke="#1e1e1e" stroke-width="0.8"/><path d="M483.50 654.00 H489.70 L486.60 659.50Z" fill="#fff" stroke="#1e1e1e" stroke-width="0.8"/><path d="M487.90 639.81 H494.10 L491.00 645.31Z" fill="#fff" stroke="#1e1e1e" stroke-width="0.8"/><path d="M492.30 629.87 H498.50 L495.40 635.37Z" fill="#fff" stroke="#1e1e1e" stroke-width="0.8"/><path d="M496.70 612.00 H502.90 L499.80 617.50Z" fill="#fff" stroke="#1e1e1e" stroke-width="0.8"/><path d="M501.10 599.29 H507.30 L504.20 604.79Z" fill="#fff" stroke="#1e1e1e" stroke-width="0.8"/><path d="M505.50 592.11 H511.70 L508.60 597.61Z" fill="#fff" stroke="#1e1e1e" stroke-width="0.8"/><path d="M509.90 579.58 H516.10 L513.00 585.08Z" fill="#fff" stroke="#1e1e1e" stroke-width="0.8"/><path d="M514.30 568.90 H520.50 L517.40 574.40Z" fill="#fff" stroke="#1e1e1e" stroke-width="0.8"/><path d="M518.70 557.11 H524.90 L521.80 562.61Z" fill="#fff" stroke="#1e1e1e" stroke-width="0.8"/><path d="M523.10 551.77 H529.30 L526.20 557.27Z" fill="#fff" stroke="#1e1e1e" stroke-width="0.8"/><path d="M527.50 548.27 H533.70 L530.60 553.77Z" fill="#fff" stroke="#1e1e1e" stroke-width="0.8"/><path d="M531.90 543.85 H538.10 L535.00 549.35Z" fill="#fff" stroke="#1e1e1e" stroke-width="0.8"/><path d="M536.30 540.16 H542.50 L539.40 545.66Z" fill="#fff" stroke="#1e1e1e" stroke-width="0.8"/><path d="M540.70 537.58 H546.90 L543.80 543.08Z" fill="#fff" stroke="#1e1e1e" stroke-width="0.8"/><path d="M545.10 535.74 H551.30 L548.20 541.24Z" fill="#fff" stroke="#1e1e1e" stroke-width="0.8"/><path d="M549.50 533.90 H555.70 L552.60 539.40Z" fill="#fff" stroke="#1e1e1e" stroke-width="0.8"/><path d="M553.90 532.98 H560.10 L557.00 538.48Z" fill="#fff" stroke="#1e1e1e" stroke-width="0.8"/><path d="M558.30 532.35 H564.50 L561.40 537.85Z" fill="#fff" stroke="#1e1e1e" stroke-width="0.8"/><path d="M562.70 531.78 H568.90 L565.80 537.28Z" fill="#fff" stroke="#1e1e1e" stroke-width="0.8"/><path d="M567.10 531.26 H573.30 L570.20 536.76Z" fill="#fff" stroke="#1e1e1e" stroke-width="0.8"/><path d="M571.50 530.79 H577.70 L574.60 536.29Z" fill="#fff" stroke="#1e1e1e" stroke-width="0.8"/><path d="M575.90 530.35 H582.10 L579.00 535.85Z" fill="#fff" stroke="#1e1e1e" stroke-width="0.8"/><path d="M580.30 529.96 H586.50 L583.40 535.46Z" fill="#fff" stroke="#1e1e1e" stroke-width="0.8"/><path d="M584.70 529.60 H590.90 L587.80 535.10Z" fill="#fff" stroke="#1e1e1e" stroke-width="0.8"/><path d="M589.10 529.27 H595.30 L592.20 534.77Z" fill="#fff" stroke="#1e1e1e" stroke-width="0.8"/><path d="M593.50 528.96 H599.70 L596.60 534.46Z" fill="#fff" stroke="#1e1e1e" stroke-width="0.8"/><path d="M597.90 528.69 H604.10 L601.00 534.19Z" fill="#fff" stroke="#1e1e1e" stroke-width="0.8"/><path d="M602.30 528.44 H608.50 L605.40 533.94Z" fill="#fff" stroke="#1e1e1e" stroke-width="0.8"/><path d="M606.70 528.21 H612.90 L609.80 533.71Z" fill="#fff" stroke="#1e1e1e" stroke-width="0.8"/><path d="M611.10 528.00 H617.30 L614.20 533.50Z" fill="#fff" stroke="#1e1e1e" stroke-width="0.8"/><path d="M615.50 527.81 H621.70 L618.60 533.31Z" fill="#fff" stroke="#1e1e1e" stroke-width="0.8"/><path d="M619.90 526.34 H626.10 L623.00 531.84Z" fill="#fff" stroke="#1e1e1e" stroke-width="0.8"/><path d="M624.30 526.18 H630.50 L627.40 531.68Z" fill="#fff" stroke="#1e1e1e" stroke-width="0.8"/><path d="M628.70 526.04 H634.90 L631.80 531.54Z" fill="#fff" stroke="#1e1e1e" stroke-width="0.8"/><path d="M633.10 525.90 H639.30 L636.20 531.40Z" fill="#fff" stroke="#1e1e1e" stroke-width="0.8"/><path d="M637.50 525.78 H643.70 L640.60 531.28Z" fill="#fff" stroke="#1e1e1e" stroke-width="0.8"/><path d="M641.90 525.67 H648.10 L645.00 531.17Z" fill="#fff" stroke="#1e1e1e" stroke-width="0.8"/><path d="M646.30 525.57 H652.50 L649.40 531.07Z" fill="#fff" stroke="#1e1e1e" stroke-width="0.8"/><path d="M650.70 525.48 H656.90 L653.80 530.98Z" fill="#fff" stroke="#1e1e1e" stroke-width="0.8"/><path d="M655.10 525.39 H661.30 L658.20 530.89Z" fill="#fff" stroke="#1e1e1e" stroke-width="0.8"/><path d="M659.50 525.32 H665.70 L662.60 530.82Z" fill="#fff" stroke="#1e1e1e" stroke-width="0.8"/><path d="M663.90 524.14 H670.10 L667.00 529.64Z" fill="#fff" stroke="#1e1e1e" stroke-width="0.8"/><path d="M668.30 524.08 H674.50 L671.40 529.58Z" fill="#fff" stroke="#1e1e1e" stroke-width="0.8"/><path d="M672.70 524.02 H678.90 L675.80 529.52Z" fill="#fff" stroke="#1e1e1e" stroke-width="0.8"/><path d="M677.10 523.96 H683.30 L680.20 529.46Z" fill="#fff" stroke="#1e1e1e" stroke-width="0.8"/><path d="M681.50 523.40 H687.70 L684.60 528.90Z" fill="#fff" stroke="#1e1e1e" stroke-width="0.8"/>
<rect x="417.80" y="707.00" width="5.6" height="5.6" fill="#1e1e1e"/><rect x="422.20" y="707.00" width="5.6" height="5.6" fill="#1e1e1e"/><rect x="426.60" y="707.00" width="5.6" height="5.6" fill="#1e1e1e"/><rect x="431.00" y="707.00" width="5.6" height="5.6" fill="#1e1e1e"/><rect x="435.40" y="707.00" width="5.6" height="5.6" fill="#1e1e1e"/><rect x="439.80" y="707.00" width="5.6" height="5.6" fill="#1e1e1e"/><rect x="444.20" y="707.00" width="5.6" height="5.6" fill="#1e1e1e"/><rect x="448.60" y="707.00" width="5.6" height="5.6" fill="#1e1e1e"/><rect x="453.00" y="707.00" width="5.6" height="5.6" fill="#1e1e1e"/><rect x="457.40" y="707.00" width="5.6" height="5.6" fill="#1e1e1e"/><rect x="461.80" y="707.00" width="5.6" height="5.6" fill="#1e1e1e"/><rect x="466.20" y="707.00" width="5.6" height="5.6" fill="#1e1e1e"/><rect x="470.60" y="699.45" width="5.6" height="5.6" fill="#1e1e1e"/><rect x="475.00" y="679.74" width="5.6" height="5.6" fill="#1e1e1e"/><rect x="479.40" y="669.79" width="5.6" height="5.6" fill="#1e1e1e"/><rect x="483.80" y="651.00" width="5.6" height="5.6" fill="#1e1e1e"/><rect x="488.20" y="636.82" width="5.6" height="5.6" fill="#1e1e1e"/><rect x="492.60" y="626.87" width="5.6" height="5.6" fill="#1e1e1e"/><rect x="497.00" y="609.01" width="5.6" height="5.6" fill="#1e1e1e"/><rect x="501.40" y="596.30" width="5.6" height="5.6" fill="#1e1e1e"/><rect x="505.80" y="589.11" width="5.6" height="5.6" fill="#1e1e1e"/><rect x="510.20" y="576.59" width="5.6" height="5.6" fill="#1e1e1e"/><rect x="514.60" y="565.90" width="5.6" height="5.6" fill="#1e1e1e"/><rect x="519.00" y="554.11" width="5.6" height="5.6" fill="#1e1e1e"/><rect x="523.40" y="548.77" width="5.6" height="5.6" fill="#1e1e1e"/><rect x="527.80" y="545.27" width="5.6" height="5.6" fill="#1e1e1e"/><rect x="532.20" y="540.85" width="5.6" height="5.6" fill="#1e1e1e"/><rect x="536.60" y="537.17" width="5.6" height="5.6" fill="#1e1e1e"/><rect x="541.00" y="534.59" width="5.6" height="5.6" fill="#1e1e1e"/><rect x="545.40" y="532.75" width="5.6" height="5.6" fill="#1e1e1e"/><rect x="549.80" y="530.90" width="5.6" height="5.6" fill="#1e1e1e"/><rect x="554.20" y="529.98" width="5.6" height="5.6" fill="#1e1e1e"/><rect x="558.60" y="529.36" width="5.6" height="5.6" fill="#1e1e1e"/><rect x="563.00" y="528.79" width="5.6" height="5.6" fill="#1e1e1e"/><rect x="567.40" y="528.27" width="5.6" height="5.6" fill="#1e1e1e"/><rect x="571.80" y="527.79" width="5.6" height="5.6" fill="#1e1e1e"/><rect x="576.20" y="527.36" width="5.6" height="5.6" fill="#1e1e1e"/><rect x="580.60" y="526.96" width="5.6" height="5.6" fill="#1e1e1e"/><rect x="585.00" y="526.60" width="5.6" height="5.6" fill="#1e1e1e"/><rect x="589.40" y="526.27" width="5.6" height="5.6" fill="#1e1e1e"/><rect x="593.80" y="525.97" width="5.6" height="5.6" fill="#1e1e1e"/><rect x="598.20" y="525.69" width="5.6" height="5.6" fill="#1e1e1e"/><rect x="602.60" y="525.44" width="5.6" height="5.6" fill="#1e1e1e"/><rect x="607.00" y="525.21" width="5.6" height="5.6" fill="#1e1e1e"/><rect x="611.40" y="525.00" width="5.6" height="5.6" fill="#1e1e1e"/><rect x="615.80" y="524.81" width="5.6" height="5.6" fill="#1e1e1e"/><rect x="620.20" y="524.64" width="5.6" height="5.6" fill="#1e1e1e"/><rect x="624.60" y="524.48" width="5.6" height="5.6" fill="#1e1e1e"/><rect x="629.00" y="524.33" width="5.6" height="5.6" fill="#1e1e1e"/><rect x="633.40" y="524.20" width="5.6" height="5.6" fill="#1e1e1e"/><rect x="637.80" y="524.08" width="5.6" height="5.6" fill="#1e1e1e"/><rect x="642.20" y="523.97" width="5.6" height="5.6" fill="#1e1e1e"/><rect x="646.60" y="523.86" width="5.6" height="5.6" fill="#1e1e1e"/><rect x="651.00" y="523.77" width="5.6" height="5.6" fill="#1e1e1e"/><rect x="655.40" y="523.69" width="5.6" height="5.6" fill="#1e1e1e"/><rect x="659.80" y="523.61" width="5.6" height="5.6" fill="#1e1e1e"/><rect x="664.20" y="523.54" width="5.6" height="5.6" fill="#1e1e1e"/><rect x="668.60" y="523.48" width="5.6" height="5.6" fill="#1e1e1e"/><rect x="673.00" y="523.42" width="5.6" height="5.6" fill="#1e1e1e"/><rect x="677.40" y="523.36" width="5.6" height="5.6" fill="#1e1e1e"/><rect x="681.80" y="522.80" width="5.6" height="5.6" fill="#1e1e1e"/>
<path d="M161.2 620.8 H239.4" stroke="#6a6a6a" stroke-width="1.1"/>
<circle cx="200.30" cy="620.80" r="3.1" fill="#1e1e1e"/>
<text x="251.6" y="622.0" class="lg">Control</text>
<path d="M161.2 635.6 H239.4" stroke="#6a6a6a" stroke-width="1.0" stroke-dasharray="1 2.7"/>
<circle cx="200.30" cy="635.60" r="2.75" fill="#fff" stroke="#1e1e1e" stroke-width="0.85"/><circle cx="200.30" cy="635.60" r="0.6" fill="#1e1e1e"/>
<text x="251.6" y="638.6" class="lg">αßmeATP</text>
<path d="M161.2 650.2 H237.3" stroke="#6a6a6a" stroke-width="1.1" stroke-dasharray="9.6 3.7"/>
<path d="M196.80 647.70 H203.80 L200.30 654.10Z" fill="#1e1e1e"/>
<text x="251.6" y="652.8" class="lg">Washout</text>
<path d="M161.2 665.0 H239.4" stroke="#6a6a6a" stroke-width="1.1" stroke-dasharray="12.7 3.6 1 2.4 1 3.3"/>
<path d="M197.20 662.80 H203.40 L200.30 668.30Z" fill="#fff" stroke="#1e1e1e" stroke-width="0.8"/>
<text x="251.6" y="667.5" class="lg">PPADS</text>
<path d="M161.2 679.9 H232.9" stroke="#6a6a6a" stroke-width="1.1" stroke-dasharray="19.5 6.6"/>
<rect x="197.50" y="677.10" width="5.6" height="5.6" fill="#1e1e1e"/>
<text x="251.6" y="682.2" class="lg">PPADS+αßmeATP</text>
<path d="M551.8 619.6 H630.2" stroke="#6a6a6a" stroke-width="1.1"/>
<circle cx="591.00" cy="619.60" r="3.1" fill="#1e1e1e"/>
<text x="647.0" y="622.5" class="lg">Control</text>
<path d="M551.8 634.4 H630.2" stroke="#6a6a6a" stroke-width="1.0" stroke-dasharray="1 2.7"/>
<circle cx="591.00" cy="634.40" r="2.75" fill="#fff" stroke="#1e1e1e" stroke-width="0.85"/><circle cx="591.00" cy="634.40" r="0.6" fill="#1e1e1e"/>
<text x="647.0" y="637.1" class="lg">αßmeATP</text>
<path d="M551.8 649.0 H628.1" stroke="#6a6a6a" stroke-width="1.1" stroke-dasharray="9.6 3.7"/>
<path d="M587.50 646.50 H594.50 L591.00 652.90Z" fill="#1e1e1e"/>
<text x="647.0" y="651.8" class="lg">Washout</text>
<path d="M551.8 663.8 H630.2" stroke="#6a6a6a" stroke-width="1.1" stroke-dasharray="12.7 3.6 1 2.4 1 3.3"/>
<path d="M587.90 661.60 H594.10 L591.00 667.10Z" fill="#fff" stroke="#1e1e1e" stroke-width="0.8"/>
<text x="647.0" y="666.5" class="lg">PPADS</text>
<path d="M551.8 678.6 H623.7" stroke="#6a6a6a" stroke-width="1.1" stroke-dasharray="19.5 6.6"/>
<rect x="588.20" y="675.80" width="5.6" height="5.6" fill="#1e1e1e"/>
<text x="647.0" y="681.1" class="lg">PPADS+αßmeATP</text>
<path d="M72.5 860.5 V1065.5 H364" fill="none" stroke="#555" stroke-width="1"/>
<path d="M66.2 1065.5 H72.5" stroke="#555" stroke-width="1"/>
<text x="59.2" y="1068.7" class="tk2" text-anchor="end">0</text>
<path d="M66.2 1031.5 H72.5" stroke="#555" stroke-width="1"/>
<text x="59.2" y="1034.5" class="tk2" text-anchor="end">1</text>
<path d="M66.2 996.5 H72.5" stroke="#555" stroke-width="1"/>
<text x="59.2" y="1000.3" class="tk2" text-anchor="end">2</text>
<path d="M66.2 962.5 H72.5" stroke="#555" stroke-width="1"/>
<text x="59.2" y="966.1" class="tk2" text-anchor="end">3</text>
<path d="M66.2 928.5 H72.5" stroke="#555" stroke-width="1"/>
<text x="59.2" y="931.9" class="tk2" text-anchor="end">4</text>
<path d="M66.2 894.5 H72.5" stroke="#555" stroke-width="1"/>
<text x="59.2" y="897.7" class="tk2" text-anchor="end">5</text>
<path d="M66.2 860.5 H72.5" stroke="#555" stroke-width="1"/>
<text x="59.2" y="863.5" class="tk2" text-anchor="end">6</text>
<path d="M110.9 974.6 V963.6 M107.7 963.6 H114.1" stroke="#4a4a4a" stroke-width="1"/>
<rect x="94.8" y="974.6" width="32.3" height="90.6" fill="#2e2e2e"/>
<path d="M164.3 905.8 V886.3 M161.2 886.3 H167.5" stroke="#4a4a4a" stroke-width="1"/>
<rect x="148.2" y="905.8" width="32.3" height="159.4" fill="#2e2e2e"/>
<path d="M217.5 969.4 V959.9 M214.3 959.9 H220.7" stroke="#4a4a4a" stroke-width="1"/>
<rect x="201.3" y="969.4" width="32.3" height="95.8" fill="#2e2e2e"/>
<path d="M270.4 1017.0 V1009.8 M267.2 1009.8 H273.6" stroke="#4a4a4a" stroke-width="1"/>
<rect x="254.3" y="1017.0" width="32.3" height="48.2" fill="#2e2e2e"/>
<path d="M323.8 1016.3 V1010.8 M320.6 1010.8 H326.9" stroke="#4a4a4a" stroke-width="1"/>
<rect x="307.6" y="1016.3" width="32.3" height="48.9" fill="#2e2e2e"/>
<text transform="translate(69.0,1093.8) rotate(-18)" class="bl">Control</text>
<text transform="translate(115.3,1098.8) rotate(-18)" class="bl">αßmeATP</text>
<text transform="translate(170.0,1095.2) rotate(-18)" class="bl">Washout</text>
<text transform="translate(228.8,1095.2) rotate(-18)" class="bl">PPADS</text>
<text transform="translate(249.0,1112.6) rotate(-18)" class="bl">PPADS+αßmeATP</text>
<path d="M415.5 860.5 V1065.0 H706.4" fill="none" stroke="#555" stroke-width="1"/>
<path d="M409.2 1064.5 H415.5" stroke="#555" stroke-width="1"/>
<text x="403.2" y="1067.9" class="tk2" text-anchor="end">0</text>
<path d="M409.2 1023.5 H415.5" stroke="#555" stroke-width="1"/>
<text x="403.2" y="1027.1" class="tk2" text-anchor="end">5</text>
<path d="M409.2 982.5 H415.5" stroke="#555" stroke-width="1"/>
<text x="403.2" y="986.2" class="tk2" text-anchor="end">10</text>
<path d="M409.2 941.5 H415.5" stroke="#555" stroke-width="1"/>
<text x="403.2" y="945.4" class="tk2" text-anchor="end">15</text>
<path d="M409.2 901.5 H415.5" stroke="#555" stroke-width="1"/>
<text x="403.2" y="904.5" class="tk2" text-anchor="end">20</text>
<path d="M409.2 860.5 H415.5" stroke="#555" stroke-width="1"/>
<text x="403.2" y="863.7" class="tk2" text-anchor="end">25</text>
<path d="M453.6 919.8 V907.5 M450.4 907.5 H456.8" stroke="#4a4a4a" stroke-width="1"/>
<rect x="437.5" y="919.8" width="32.3" height="144.6" fill="#2e2e2e"/>
<path d="M506.9 916.5 V902.6 M503.8 902.6 H510.1" stroke="#4a4a4a" stroke-width="1"/>
<rect x="490.8" y="916.5" width="32.3" height="147.9" fill="#2e2e2e"/>
<path d="M560.0 913.3 V901.0 M556.8 901.0 H563.2" stroke="#4a4a4a" stroke-width="1"/>
<rect x="543.9" y="913.3" width="32.3" height="151.1" fill="#2e2e2e"/>
<path d="M613.4 909.5 V899.4 M610.1 899.4 H616.6" stroke="#4a4a4a" stroke-width="1"/>
<rect x="597.2" y="909.5" width="32.3" height="154.9" fill="#2e2e2e"/>
<path d="M666.6 910.8 V899.4 M663.4 899.4 H669.9" stroke="#4a4a4a" stroke-width="1"/>
<rect x="650.5" y="910.8" width="32.3" height="153.6" fill="#2e2e2e"/>
<text transform="translate(411.8,1095.8) rotate(-18)" class="bl">Control</text>
<text transform="translate(456.6,1101.1) rotate(-18)" class="bl">αßmeATP</text>
<text transform="translate(512.8,1096.8) rotate(-18)" class="bl">Washout</text>
<text transform="translate(573.9,1095.1) rotate(-18)" class="bl">PPADS</text>
<text transform="translate(588.8,1110.3) rotate(-18)" class="bl">PPADS+αßmeATP</text>
<text transform="translate(35.7,961.2) rotate(-90)" class="ax" text-anchor="middle">Frequency (Hz)</text>
<text transform="translate(376.6,960.5) rotate(-90)" class="ax" text-anchor="middle">Amplitude (pA)</text>
<path d="M165.10 871.60 L165.10 867.40 M165.10 871.60 L169.09 870.30 M165.10 871.60 L167.57 875.00 M165.10 871.60 L162.63 875.00 M165.10 871.60 L161.11 870.30 " stroke="#111" stroke-width="2.4" stroke-linecap="round"/>
<path d="M270.7 991.6 V1004.4 M267.2 995 H274.3" stroke="#111" stroke-width="1.8"/>
</svg>
</body></html>
